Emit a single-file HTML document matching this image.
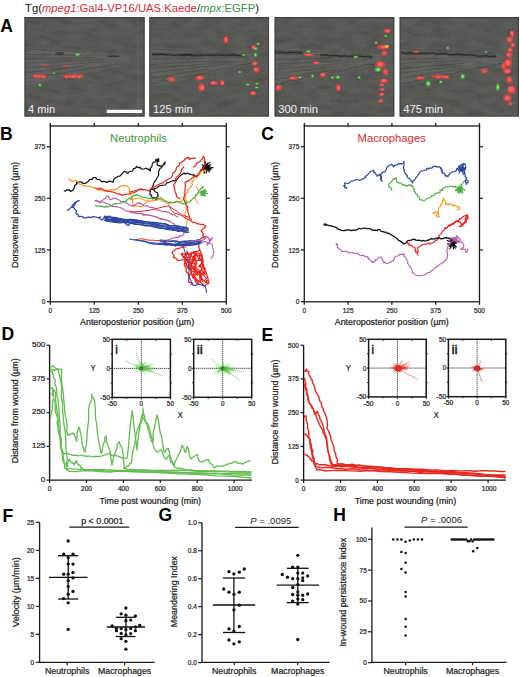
<!DOCTYPE html>
<html><head><meta charset="utf-8"><style>
html,body{margin:0;padding:0;background:#fff;}
body{width:520px;height:677px;overflow:hidden;font-family:"Liberation Sans",sans-serif;}
svg{display:block;}
</style></head><body>
<svg width="520" height="677" viewBox="0 0 520 677" font-family="Liberation Sans, sans-serif">
<rect width="520" height="677" fill="#fff"/>
<defs>
<filter id="bl" x="-50%" y="-50%" width="200%" height="200%"><feGaussianBlur stdDeviation="0.7"/></filter>
<filter id="bl2" x="-50%" y="-50%" width="200%" height="200%"><feGaussianBlur stdDeviation="1.6"/></filter>
<filter id="nz" x="0" y="0" width="100%" height="100%">
<feTurbulence type="fractalNoise" baseFrequency="0.06 0.16" numOctaves="3" seed="5" result="t"/>
<feColorMatrix in="t" type="matrix" values="1 0 0 0 0  1 0 0 0 0  0.96 0 0 0 0  0 0 0 0 0.14" result="c"/>
<feComposite in="c" in2="SourceGraphic" operator="in"/>
</filter>
<filter id="nz3" x="0" y="0" width="100%" height="100%">
<feTurbulence type="fractalNoise" baseFrequency="0.7 0.9" numOctaves="1" seed="2" result="t"/>
<feColorMatrix in="t" type="matrix" values="1 0 0 0 0  1 0 0 0 0  0.96 0 0 0 0  0 0 0 0 0.12" result="c"/>
<feComposite in="c" in2="SourceGraphic" operator="in"/>
</filter>
<filter id="nz2" x="0" y="0" width="100%" height="100%">
<feTurbulence type="fractalNoise" baseFrequency="0.02 0.7" numOctaves="2" seed="9" result="t"/>
<feColorMatrix in="t" type="matrix" values="1 0 0 0 0  1 0 0 0 0  0.96 0 0 0 0  0 0 0 0 0.09" result="c"/>
<feComposite in="c" in2="SourceGraphic" operator="in"/>
</filter>
<clipPath id="c1"><rect x="24.3" y="17" width="120.5" height="99.7"/></clipPath>
<clipPath id="c2"><rect x="149.2" y="17" width="120" height="99.7"/></clipPath>
<clipPath id="c3"><rect x="274.4" y="17" width="120.1" height="99.7"/></clipPath>
<clipPath id="c4"><rect x="399.4" y="17" width="119.6" height="99.7"/></clipPath>
</defs>
<g clip-path="url(#c1)">
<rect x="24.3" y="17" width="120.5" height="99.7" fill="#383835"/>
<rect x="24.3" y="17" width="120.5" height="99.7" fill="#000" filter="url(#nz)"/>
<rect x="24.3" y="17" width="120.5" height="99.7" fill="#000" filter="url(#nz3)"/>
<polygon points="24.3,47 130.3,54 130.3,64 24.3,86" fill="#000" filter="url(#nz2)" opacity="0.9"/>
<line x1="24.3" y1="48.6" x2="85.8" y2="52.0" stroke="#2c2c2a" stroke-width="0.8" stroke-opacity="0.35"/>
<line x1="24.3" y1="54.3" x2="82.0" y2="55.2" stroke="#2c2c2a" stroke-width="0.8" stroke-opacity="0.35"/>
<line x1="24.3" y1="59.1" x2="96.2" y2="57.7" stroke="#2c2c2a" stroke-width="0.8" stroke-opacity="0.35"/>
<line x1="24.3" y1="63.1" x2="103.0" y2="59.4" stroke="#2c2c2a" stroke-width="0.8" stroke-opacity="0.35"/>
<line x1="24.3" y1="68.1" x2="99.4" y2="61.9" stroke="#2c2c2a" stroke-width="0.8" stroke-opacity="0.35"/>
<line x1="24.3" y1="73.1" x2="82.9" y2="66.3" stroke="#2c2c2a" stroke-width="0.8" stroke-opacity="0.35"/>
<line x1="24.3" y1="78.8" x2="118.4" y2="64.0" stroke="#2c2c2a" stroke-width="0.8" stroke-opacity="0.35"/>
<rect x="24.9" y="17.6" width="119.3" height="98.5" fill="none" stroke="#3a3a37" stroke-width="1.2" stroke-opacity="0.8"/>
<ellipse cx="59.5" cy="53.5" rx="4.4" ry="1.8" fill="#2a2624" fill-opacity="0.55" filter="url(#bl)"/>
<ellipse cx="113.5" cy="56.2" rx="6.0" ry="1.0" fill="#2a2624" fill-opacity="0.6" filter="url(#bl)"/>
<ellipse cx="37.6" cy="75.8" rx="6.4" ry="1.7" fill="#e04444" fill-opacity="0.44" filter="url(#bl)"/>
<ellipse cx="40.8" cy="76.7" rx="6.4" ry="1.7" fill="#e04444" fill-opacity="0.44" filter="url(#bl)"/>
<ellipse cx="40.5" cy="76.0" rx="6.4" ry="1.7" fill="#e04444" fill-opacity="0.44" filter="url(#bl)"/>
<ellipse cx="40.0" cy="76.2" rx="4.4" ry="1.2" fill="#ff6a66" fill-opacity="0.47" filter="url(#bl)"/>
<ellipse cx="76.6" cy="75.8" rx="8.2" ry="2.0" fill="#e04444" fill-opacity="0.44" filter="url(#bl)"/>
<ellipse cx="75.7" cy="76.2" rx="8.2" ry="2.0" fill="#e04444" fill-opacity="0.44" filter="url(#bl)"/>
<ellipse cx="69.8" cy="75.9" rx="8.2" ry="2.0" fill="#e04444" fill-opacity="0.44" filter="url(#bl)"/>
<ellipse cx="72.7" cy="76.5" rx="5.7" ry="1.4" fill="#ff6a66" fill-opacity="0.47" filter="url(#bl)"/>
<ellipse cx="35.1" cy="76.6" rx="2.0" ry="1.4" fill="#e04444" fill-opacity="0.76" filter="url(#bl)"/>
<ellipse cx="34.9" cy="76.3" rx="2.0" ry="1.4" fill="#e04444" fill-opacity="0.76" filter="url(#bl)"/>
<ellipse cx="35.8" cy="76.1" rx="2.0" ry="1.4" fill="#e04444" fill-opacity="0.76" filter="url(#bl)"/>
<ellipse cx="35.5" cy="76.2" rx="1.4" ry="1.0" fill="#ff6a66" fill-opacity="0.81" filter="url(#bl)"/>
<ellipse cx="43.6" cy="76.3" rx="2.0" ry="1.4" fill="#e04444" fill-opacity="0.76" filter="url(#bl)"/>
<ellipse cx="42.6" cy="76.4" rx="2.0" ry="1.4" fill="#e04444" fill-opacity="0.76" filter="url(#bl)"/>
<ellipse cx="43.9" cy="76.7" rx="2.0" ry="1.4" fill="#e04444" fill-opacity="0.76" filter="url(#bl)"/>
<ellipse cx="43.5" cy="76.8" rx="1.4" ry="1.0" fill="#ff6a66" fill-opacity="0.81" filter="url(#bl)"/>
<ellipse cx="66.1" cy="76.8" rx="2.0" ry="1.4" fill="#e04444" fill-opacity="0.76" filter="url(#bl)"/>
<ellipse cx="66.4" cy="76.5" rx="2.0" ry="1.4" fill="#e04444" fill-opacity="0.76" filter="url(#bl)"/>
<ellipse cx="67.1" cy="77.0" rx="2.0" ry="1.4" fill="#e04444" fill-opacity="0.76" filter="url(#bl)"/>
<ellipse cx="66.5" cy="76.8" rx="1.4" ry="1.0" fill="#ff6a66" fill-opacity="0.81" filter="url(#bl)"/>
<ellipse cx="73.0" cy="76.6" rx="2.0" ry="1.6" fill="#e04444" fill-opacity="0.76" filter="url(#bl)"/>
<ellipse cx="73.6" cy="77.0" rx="2.0" ry="1.6" fill="#e04444" fill-opacity="0.76" filter="url(#bl)"/>
<ellipse cx="74.0" cy="76.2" rx="2.0" ry="1.6" fill="#e04444" fill-opacity="0.76" filter="url(#bl)"/>
<ellipse cx="73.5" cy="76.5" rx="1.4" ry="1.1" fill="#ff6a66" fill-opacity="0.81" filter="url(#bl)"/>
<ellipse cx="80.5" cy="76.3" rx="2.0" ry="1.4" fill="#e04444" fill-opacity="0.76" filter="url(#bl)"/>
<ellipse cx="79.3" cy="77.0" rx="2.0" ry="1.4" fill="#e04444" fill-opacity="0.76" filter="url(#bl)"/>
<ellipse cx="78.8" cy="76.7" rx="2.0" ry="1.4" fill="#e04444" fill-opacity="0.76" filter="url(#bl)"/>
<ellipse cx="79.5" cy="76.8" rx="1.4" ry="1.0" fill="#ff6a66" fill-opacity="0.81" filter="url(#bl)"/>
<ellipse cx="43.2" cy="65.1" rx="4.0" ry="0.8" fill="#e04444" fill-opacity="0.28" filter="url(#bl)"/>
<ellipse cx="46.1" cy="65.0" rx="4.0" ry="0.8" fill="#e04444" fill-opacity="0.28" filter="url(#bl)"/>
<ellipse cx="46.5" cy="64.9" rx="4.0" ry="0.8" fill="#e04444" fill-opacity="0.28" filter="url(#bl)"/>
<ellipse cx="45.0" cy="65.0" rx="2.8" ry="0.6" fill="#ff6a66" fill-opacity="0.30" filter="url(#bl)"/>
<ellipse cx="65.8" cy="65.6" rx="4.0" ry="0.8" fill="#e04444" fill-opacity="0.24" filter="url(#bl)"/>
<ellipse cx="65.3" cy="65.5" rx="4.0" ry="0.8" fill="#e04444" fill-opacity="0.24" filter="url(#bl)"/>
<ellipse cx="66.4" cy="65.8" rx="4.0" ry="0.8" fill="#e04444" fill-opacity="0.24" filter="url(#bl)"/>
<ellipse cx="65.0" cy="65.5" rx="2.8" ry="0.6" fill="#ff6a66" fill-opacity="0.26" filter="url(#bl)"/>
<ellipse cx="77.5" cy="54.5" rx="2.6" ry="1.6" fill="#3fb03f" fill-opacity="0.81" filter="url(#bl)"/>
<ellipse cx="77.5" cy="54.5" rx="1.4" ry="0.8" fill="#a8f090" fill-opacity="0.81" filter="url(#bl)"/>
<ellipse cx="39.9" cy="85.0" rx="1.9" ry="1.5" fill="#3fb03f" fill-opacity="0.81" filter="url(#bl)"/>
<ellipse cx="39.9" cy="85.0" rx="1.0" ry="0.8" fill="#a8f090" fill-opacity="0.81" filter="url(#bl)"/>
<ellipse cx="54.0" cy="73.2" rx="2.1" ry="1.3" fill="#3fb03f" fill-opacity="0.42" filter="url(#bl)"/>
<ellipse cx="54.0" cy="73.2" rx="1.1" ry="0.7" fill="#a8f090" fill-opacity="0.42" filter="url(#bl)"/>
<line x1="137.5" y1="17" x2="138.5" y2="116" stroke="#777772" stroke-width="1.2" stroke-opacity="0.3"/>
<rect x="106.8" y="109.8" width="35.3" height="3.2" fill="#fafafa"/>
</g>
<text x="28.10" y="113.20" font-size="11.2" fill="#f2f2f2" textLength="27.1" lengthAdjust="spacingAndGlyphs" >4 min</text>
<g clip-path="url(#c2)">
<rect x="149.2" y="17" width="120" height="99.7" fill="#383835"/>
<rect x="149.2" y="17" width="120" height="99.7" fill="#000" filter="url(#nz)"/>
<rect x="149.2" y="17" width="120" height="99.7" fill="#000" filter="url(#nz3)"/>
<polygon points="149.2,47 254.8,54 254.8,64 149.2,86" fill="#000" filter="url(#nz2)" opacity="0.9"/>
<line x1="149.2" y1="48.9" x2="235.1" y2="53.5" stroke="#2c2c2a" stroke-width="0.8" stroke-opacity="0.35"/>
<line x1="149.2" y1="53.1" x2="236.9" y2="55.2" stroke="#2c2c2a" stroke-width="0.8" stroke-opacity="0.35"/>
<line x1="149.2" y1="59.3" x2="250.9" y2="57.2" stroke="#2c2c2a" stroke-width="0.8" stroke-opacity="0.35"/>
<line x1="149.2" y1="64.6" x2="216.9" y2="60.7" stroke="#2c2c2a" stroke-width="0.8" stroke-opacity="0.35"/>
<line x1="149.2" y1="68.8" x2="235.3" y2="61.3" stroke="#2c2c2a" stroke-width="0.8" stroke-opacity="0.35"/>
<line x1="149.2" y1="73.0" x2="225.4" y2="64.1" stroke="#2c2c2a" stroke-width="0.8" stroke-opacity="0.35"/>
<line x1="149.2" y1="78.3" x2="208.8" y2="69.1" stroke="#2c2c2a" stroke-width="0.8" stroke-opacity="0.35"/>
<path d="M151.2,83.4 L156.3,83.3 L161.3,81.4 L166.4,80.5 L171.4,79.6 L176.5,79.3 L181.6,77.1 L186.6,76.6 L191.7,75.7 L196.7,75.1 L201.8,73.9 L206.9,73.0 L211.9,71.1 L217.0,70.2 L222.0,69.1 L227.1,68.8 L232.2,67.8 L237.2,65.7 L242.3,64.6 L247.3,63.7 L252.4,62.6" fill="none" stroke="#262624" stroke-width="1.0" stroke-opacity="0.35"/>
<rect x="149.8" y="17.6" width="118.8" height="98.5" fill="none" stroke="#3a3a37" stroke-width="1.2" stroke-opacity="0.8"/>
<path d="M152.0,54.5 L155.0,54.6 L158.1,54.3 L161.1,54.0 L164.1,54.6 L167.2,54.6 L170.2,54.8 L173.2,55.3 L176.3,55.1 L179.3,54.9 L182.3,55.1 L185.4,55.2 L188.4,54.5 L191.4,55.5 L194.5,55.4 L197.5,55.6 L200.5,55.5 L203.5,55.1 L206.6,55.1 L209.6,54.8 L212.6,55.5 L215.7,54.9 L218.7,54.9 L221.7,55.1 L224.8,55.1 L227.8,55.4 L230.8,55.1 L233.9,55.0 L236.9,55.3 L239.9,55.2 L243.0,55.6 L246.0,55.2" fill="none" stroke="#1e1e1c" stroke-width="1.3" stroke-opacity="0.7"/>
<path d="M152.0,54.5 L155.0,54.6 L158.1,54.3 L161.1,54.0 L164.1,54.6 L167.2,54.6 L170.2,54.8 L173.2,55.3 L176.3,55.1 L179.3,54.9 L182.3,55.1 L185.4,55.2 L188.4,54.5 L191.4,55.5 L194.5,55.4 L197.5,55.6 L200.5,55.5 L203.5,55.1 L206.6,55.1 L209.6,54.8 L212.6,55.5 L215.7,54.9 L218.7,54.9 L221.7,55.1 L224.8,55.1 L227.8,55.4 L230.8,55.1 L233.9,55.0 L236.9,55.3 L239.9,55.2 L243.0,55.6 L246.0,55.2" fill="none" stroke="#2a2a28" stroke-width="3.5" stroke-opacity="0.22" filter="url(#bl)"/>
<ellipse cx="186.5" cy="54.8" rx="6.8" ry="1.2" fill="#2a2624" fill-opacity="0.8" filter="url(#bl)"/>
<ellipse cx="172.9" cy="79.6" rx="3.8" ry="2.1" fill="#e04444" fill-opacity="0.48" filter="url(#bl)"/>
<ellipse cx="170.2" cy="79.0" rx="3.8" ry="2.1" fill="#e04444" fill-opacity="0.48" filter="url(#bl)"/>
<ellipse cx="170.9" cy="79.2" rx="3.8" ry="2.1" fill="#e04444" fill-opacity="0.48" filter="url(#bl)"/>
<ellipse cx="171.5" cy="79.4" rx="2.6" ry="1.4" fill="#ff6a66" fill-opacity="0.51" filter="url(#bl)"/>
<ellipse cx="198.4" cy="78.4" rx="3.3" ry="2.1" fill="#e04444" fill-opacity="0.76" filter="url(#bl)"/>
<ellipse cx="201.2" cy="77.8" rx="3.3" ry="2.1" fill="#e04444" fill-opacity="0.76" filter="url(#bl)"/>
<ellipse cx="199.5" cy="77.3" rx="3.3" ry="2.1" fill="#e04444" fill-opacity="0.76" filter="url(#bl)"/>
<ellipse cx="199.6" cy="77.9" rx="2.3" ry="1.4" fill="#ff6a66" fill-opacity="0.81" filter="url(#bl)"/>
<ellipse cx="201.0" cy="87.2" rx="3.0" ry="3.2" fill="#e04444" fill-opacity="0.76" filter="url(#bl)"/>
<ellipse cx="201.5" cy="88.3" rx="3.0" ry="3.2" fill="#e04444" fill-opacity="0.76" filter="url(#bl)"/>
<ellipse cx="201.2" cy="86.4" rx="3.0" ry="3.2" fill="#e04444" fill-opacity="0.76" filter="url(#bl)"/>
<ellipse cx="202.2" cy="87.5" rx="2.0" ry="2.2" fill="#ff6a66" fill-opacity="0.81" filter="url(#bl)"/>
<ellipse cx="226.8" cy="39.6" rx="1.8" ry="3.2" fill="#e04444" fill-opacity="0.76" filter="url(#bl)"/>
<ellipse cx="225.4" cy="39.7" rx="1.8" ry="3.2" fill="#e04444" fill-opacity="0.76" filter="url(#bl)"/>
<ellipse cx="225.2" cy="39.6" rx="1.8" ry="3.2" fill="#e04444" fill-opacity="0.76" filter="url(#bl)"/>
<ellipse cx="226.0" cy="39.5" rx="1.2" ry="2.2" fill="#ff6a66" fill-opacity="0.81" filter="url(#bl)"/>
<ellipse cx="254.7" cy="48.2" rx="2.1" ry="2.1" fill="#e04444" fill-opacity="0.76" filter="url(#bl)"/>
<ellipse cx="254.1" cy="47.2" rx="2.1" ry="2.1" fill="#e04444" fill-opacity="0.76" filter="url(#bl)"/>
<ellipse cx="253.4" cy="47.1" rx="2.1" ry="2.1" fill="#e04444" fill-opacity="0.76" filter="url(#bl)"/>
<ellipse cx="253.7" cy="47.6" rx="1.5" ry="1.4" fill="#ff6a66" fill-opacity="0.81" filter="url(#bl)"/>
<ellipse cx="255.4" cy="63.5" rx="2.4" ry="1.8" fill="#e04444" fill-opacity="0.76" filter="url(#bl)"/>
<ellipse cx="255.4" cy="63.3" rx="2.4" ry="1.8" fill="#e04444" fill-opacity="0.76" filter="url(#bl)"/>
<ellipse cx="254.1" cy="63.9" rx="2.4" ry="1.8" fill="#e04444" fill-opacity="0.76" filter="url(#bl)"/>
<ellipse cx="254.8" cy="63.5" rx="1.6" ry="1.2" fill="#ff6a66" fill-opacity="0.81" filter="url(#bl)"/>
<ellipse cx="257.2" cy="70.1" rx="2.6" ry="2.4" fill="#e04444" fill-opacity="0.76" filter="url(#bl)"/>
<ellipse cx="256.7" cy="70.0" rx="2.6" ry="2.4" fill="#e04444" fill-opacity="0.76" filter="url(#bl)"/>
<ellipse cx="256.5" cy="69.0" rx="2.6" ry="2.4" fill="#e04444" fill-opacity="0.76" filter="url(#bl)"/>
<ellipse cx="255.9" cy="69.5" rx="1.8" ry="1.6" fill="#ff6a66" fill-opacity="0.81" filter="url(#bl)"/>
<ellipse cx="253.4" cy="93.2" rx="2.4" ry="2.0" fill="#e04444" fill-opacity="0.76" filter="url(#bl)"/>
<ellipse cx="252.2" cy="92.7" rx="2.4" ry="2.0" fill="#e04444" fill-opacity="0.76" filter="url(#bl)"/>
<ellipse cx="252.8" cy="93.1" rx="2.4" ry="2.0" fill="#e04444" fill-opacity="0.76" filter="url(#bl)"/>
<ellipse cx="253.4" cy="93.5" rx="1.6" ry="1.4" fill="#ff6a66" fill-opacity="0.81" filter="url(#bl)"/>
<ellipse cx="214.1" cy="83.4" rx="3.6" ry="1.8" fill="#e04444" fill-opacity="0.76" filter="url(#bl)"/>
<ellipse cx="213.3" cy="83.3" rx="3.6" ry="1.8" fill="#e04444" fill-opacity="0.76" filter="url(#bl)"/>
<ellipse cx="215.2" cy="83.4" rx="3.6" ry="1.8" fill="#e04444" fill-opacity="0.76" filter="url(#bl)"/>
<ellipse cx="213.4" cy="82.8" rx="2.4" ry="1.2" fill="#ff6a66" fill-opacity="0.81" filter="url(#bl)"/>
<ellipse cx="222.3" cy="82.5" rx="2.1" ry="2.6" fill="#e04444" fill-opacity="0.76" filter="url(#bl)"/>
<ellipse cx="222.0" cy="82.5" rx="2.1" ry="2.6" fill="#e04444" fill-opacity="0.76" filter="url(#bl)"/>
<ellipse cx="222.0" cy="83.3" rx="2.1" ry="2.6" fill="#e04444" fill-opacity="0.76" filter="url(#bl)"/>
<ellipse cx="222.6" cy="83.1" rx="1.4" ry="1.8" fill="#ff6a66" fill-opacity="0.81" filter="url(#bl)"/>
<ellipse cx="258.1" cy="43.9" rx="1.9" ry="1.2" fill="#3fb03f" fill-opacity="0.81" filter="url(#bl)"/>
<ellipse cx="258.1" cy="43.9" rx="1.0" ry="0.6" fill="#a8f090" fill-opacity="0.81" filter="url(#bl)"/>
<ellipse cx="255.8" cy="48.8" rx="1.9" ry="1.5" fill="#3fb03f" fill-opacity="0.81" filter="url(#bl)"/>
<ellipse cx="255.8" cy="48.8" rx="1.0" ry="0.8" fill="#a8f090" fill-opacity="0.81" filter="url(#bl)"/>
<ellipse cx="255.5" cy="54.8" rx="1.6" ry="2.4" fill="#3fb03f" fill-opacity="0.81" filter="url(#bl)"/>
<ellipse cx="255.5" cy="54.8" rx="0.8" ry="1.2" fill="#a8f090" fill-opacity="0.81" filter="url(#bl)"/>
<ellipse cx="243.8" cy="55.0" rx="2.4" ry="1.1" fill="#3fb03f" fill-opacity="0.81" filter="url(#bl)"/>
<ellipse cx="243.8" cy="55.0" rx="1.2" ry="0.6" fill="#a8f090" fill-opacity="0.81" filter="url(#bl)"/>
<ellipse cx="239.7" cy="72.0" rx="1.9" ry="1.1" fill="#3fb03f" fill-opacity="0.81" filter="url(#bl)"/>
<ellipse cx="239.7" cy="72.0" rx="1.0" ry="0.6" fill="#a8f090" fill-opacity="0.81" filter="url(#bl)"/>
<ellipse cx="247.8" cy="84.6" rx="1.9" ry="1.2" fill="#3fb03f" fill-opacity="0.81" filter="url(#bl)"/>
<ellipse cx="247.8" cy="84.6" rx="1.0" ry="0.6" fill="#a8f090" fill-opacity="0.81" filter="url(#bl)"/>
<ellipse cx="257.0" cy="83.8" rx="1.6" ry="1.2" fill="#3fb03f" fill-opacity="0.81" filter="url(#bl)"/>
<ellipse cx="257.0" cy="83.8" rx="0.8" ry="0.6" fill="#a8f090" fill-opacity="0.81" filter="url(#bl)"/>
<ellipse cx="256.6" cy="87.5" rx="1.9" ry="1.2" fill="#3fb03f" fill-opacity="0.81" filter="url(#bl)"/>
<ellipse cx="256.6" cy="87.5" rx="1.0" ry="0.6" fill="#a8f090" fill-opacity="0.81" filter="url(#bl)"/>
</g>
<text x="153.00" y="113.20" font-size="11.2" fill="#f2f2f2" textLength="39.6" lengthAdjust="spacingAndGlyphs" >125 min</text>
<g clip-path="url(#c3)">
<rect x="274.4" y="17" width="120.1" height="99.7" fill="#383835"/>
<rect x="274.4" y="17" width="120.1" height="99.7" fill="#000" filter="url(#nz)"/>
<rect x="274.4" y="17" width="120.1" height="99.7" fill="#000" filter="url(#nz3)"/>
<polygon points="274.4,47 380.1,54 380.1,64 274.4,86" fill="#000" filter="url(#nz2)" opacity="0.9"/>
<line x1="274.4" y1="49.8" x2="368.8" y2="54.2" stroke="#2c2c2a" stroke-width="0.8" stroke-opacity="0.35"/>
<line x1="274.4" y1="54.0" x2="359.8" y2="55.4" stroke="#2c2c2a" stroke-width="0.8" stroke-opacity="0.35"/>
<line x1="274.4" y1="59.6" x2="332.5" y2="58.3" stroke="#2c2c2a" stroke-width="0.8" stroke-opacity="0.35"/>
<line x1="274.4" y1="64.3" x2="372.2" y2="58.9" stroke="#2c2c2a" stroke-width="0.8" stroke-opacity="0.35"/>
<line x1="274.4" y1="69.6" x2="364.5" y2="61.2" stroke="#2c2c2a" stroke-width="0.8" stroke-opacity="0.35"/>
<line x1="274.4" y1="74.0" x2="337.0" y2="66.2" stroke="#2c2c2a" stroke-width="0.8" stroke-opacity="0.35"/>
<line x1="274.4" y1="79.6" x2="344.4" y2="68.2" stroke="#2c2c2a" stroke-width="0.8" stroke-opacity="0.35"/>
<path d="M276.4,84.4 L281.5,83.6 L286.5,81.8 L291.6,80.7 L296.7,80.4 L301.7,79.1 L306.8,77.2 L311.9,76.1 L316.9,75.1 L322.0,75.1 L327.0,73.9 L332.1,72.0 L337.2,71.9 L342.2,71.0 L347.3,69.5 L352.4,68.0 L357.4,67.3 L362.5,65.6 L367.6,64.4 L372.6,64.7 L377.7,63.2" fill="none" stroke="#262624" stroke-width="1.0" stroke-opacity="0.35"/>
<rect x="275.0" y="17.6" width="118.9" height="98.5" fill="none" stroke="#3a3a37" stroke-width="1.2" stroke-opacity="0.8"/>
<path d="M274.4,51.7 L277.6,52.4 L280.8,51.9 L283.9,52.6 L287.1,52.7 L290.3,52.1 L293.5,52.3 L296.6,52.5 L299.8,52.5 L303.0,53.1" fill="none" stroke="#1e1e1c" stroke-width="1.3" stroke-opacity="0.7"/>
<path d="M274.4,51.7 L277.6,52.4 L280.8,51.9 L283.9,52.6 L287.1,52.7 L290.3,52.1 L293.5,52.3 L296.6,52.5 L299.8,52.5 L303.0,53.1" fill="none" stroke="#2a2a28" stroke-width="3.5" stroke-opacity="0.22" filter="url(#bl)"/>
<path d="M320.0,54.7 L323.1,55.0 L326.2,54.8 L329.2,55.9 L332.3,55.3 L335.4,55.6 L338.5,55.9 L341.6,56.4 L344.7,55.9 L347.7,56.7 L350.8,56.3 L353.9,56.5 L357.0,56.6 L360.1,56.1 L363.2,56.7 L366.2,56.6 L369.3,56.5 L372.4,57.6" fill="none" stroke="#1e1e1c" stroke-width="1.3" stroke-opacity="0.7"/>
<path d="M320.0,54.7 L323.1,55.0 L326.2,54.8 L329.2,55.9 L332.3,55.3 L335.4,55.6 L338.5,55.9 L341.6,56.4 L344.7,55.9 L347.7,56.7 L350.8,56.3 L353.9,56.5 L357.0,56.6 L360.1,56.1 L363.2,56.7 L366.2,56.6 L369.3,56.5 L372.4,57.6" fill="none" stroke="#2a2a28" stroke-width="3.5" stroke-opacity="0.22" filter="url(#bl)"/>
<ellipse cx="307.3" cy="54.6" rx="4.2" ry="1.2" fill="#e04444" fill-opacity="0.76" filter="url(#bl)"/>
<ellipse cx="309.6" cy="54.7" rx="4.2" ry="1.2" fill="#e04444" fill-opacity="0.76" filter="url(#bl)"/>
<ellipse cx="308.0" cy="54.7" rx="4.2" ry="1.2" fill="#e04444" fill-opacity="0.76" filter="url(#bl)"/>
<ellipse cx="308.7" cy="54.7" rx="2.9" ry="0.8" fill="#ff6a66" fill-opacity="0.81" filter="url(#bl)"/>
<ellipse cx="316.9" cy="63.1" rx="3.0" ry="1.2" fill="#e04444" fill-opacity="0.76" filter="url(#bl)"/>
<ellipse cx="315.6" cy="62.9" rx="3.0" ry="1.2" fill="#e04444" fill-opacity="0.76" filter="url(#bl)"/>
<ellipse cx="316.0" cy="62.6" rx="3.0" ry="1.2" fill="#e04444" fill-opacity="0.76" filter="url(#bl)"/>
<ellipse cx="316.8" cy="62.8" rx="2.1" ry="0.8" fill="#ff6a66" fill-opacity="0.81" filter="url(#bl)"/>
<ellipse cx="293.5" cy="77.9" rx="3.6" ry="1.5" fill="#e04444" fill-opacity="0.76" filter="url(#bl)"/>
<ellipse cx="292.7" cy="78.2" rx="3.6" ry="1.5" fill="#e04444" fill-opacity="0.76" filter="url(#bl)"/>
<ellipse cx="294.0" cy="77.8" rx="3.6" ry="1.5" fill="#e04444" fill-opacity="0.76" filter="url(#bl)"/>
<ellipse cx="292.5" cy="77.9" rx="2.5" ry="1.0" fill="#ff6a66" fill-opacity="0.81" filter="url(#bl)"/>
<ellipse cx="323.0" cy="74.6" rx="3.0" ry="1.8" fill="#e04444" fill-opacity="0.76" filter="url(#bl)"/>
<ellipse cx="322.7" cy="74.9" rx="3.0" ry="1.8" fill="#e04444" fill-opacity="0.76" filter="url(#bl)"/>
<ellipse cx="322.6" cy="74.6" rx="3.0" ry="1.8" fill="#e04444" fill-opacity="0.76" filter="url(#bl)"/>
<ellipse cx="322.7" cy="74.6" rx="2.0" ry="1.2" fill="#ff6a66" fill-opacity="0.81" filter="url(#bl)"/>
<ellipse cx="278.4" cy="88.4" rx="2.4" ry="2.7" fill="#e04444" fill-opacity="0.76" filter="url(#bl)"/>
<ellipse cx="278.9" cy="88.3" rx="2.4" ry="2.7" fill="#e04444" fill-opacity="0.76" filter="url(#bl)"/>
<ellipse cx="279.5" cy="87.1" rx="2.4" ry="2.7" fill="#e04444" fill-opacity="0.76" filter="url(#bl)"/>
<ellipse cx="278.4" cy="87.6" rx="1.6" ry="1.8" fill="#ff6a66" fill-opacity="0.81" filter="url(#bl)"/>
<ellipse cx="387.7" cy="31.6" rx="2.7" ry="1.8" fill="#e04444" fill-opacity="0.76" filter="url(#bl)"/>
<ellipse cx="388.5" cy="30.5" rx="2.7" ry="1.8" fill="#e04444" fill-opacity="0.76" filter="url(#bl)"/>
<ellipse cx="386.5" cy="30.9" rx="2.7" ry="1.8" fill="#e04444" fill-opacity="0.76" filter="url(#bl)"/>
<ellipse cx="387.5" cy="31.0" rx="1.8" ry="1.2" fill="#ff6a66" fill-opacity="0.81" filter="url(#bl)"/>
<ellipse cx="381.7" cy="46.5" rx="4.2" ry="2.1" fill="#e04444" fill-opacity="0.76" filter="url(#bl)"/>
<ellipse cx="381.7" cy="47.2" rx="4.2" ry="2.1" fill="#e04444" fill-opacity="0.76" filter="url(#bl)"/>
<ellipse cx="384.7" cy="47.5" rx="4.2" ry="2.1" fill="#e04444" fill-opacity="0.76" filter="url(#bl)"/>
<ellipse cx="383.5" cy="46.9" rx="2.9" ry="1.4" fill="#ff6a66" fill-opacity="0.81" filter="url(#bl)"/>
<ellipse cx="378.9" cy="64.8" rx="3.8" ry="3.0" fill="#e04444" fill-opacity="0.76" filter="url(#bl)"/>
<ellipse cx="380.8" cy="63.5" rx="3.8" ry="3.0" fill="#e04444" fill-opacity="0.76" filter="url(#bl)"/>
<ellipse cx="381.7" cy="65.3" rx="3.8" ry="3.0" fill="#e04444" fill-opacity="0.76" filter="url(#bl)"/>
<ellipse cx="380.2" cy="64.3" rx="2.6" ry="2.0" fill="#ff6a66" fill-opacity="0.81" filter="url(#bl)"/>
<ellipse cx="383.0" cy="81.1" rx="3.3" ry="1.8" fill="#e04444" fill-opacity="0.76" filter="url(#bl)"/>
<ellipse cx="383.6" cy="80.5" rx="3.3" ry="1.8" fill="#e04444" fill-opacity="0.76" filter="url(#bl)"/>
<ellipse cx="385.5" cy="80.9" rx="3.3" ry="1.8" fill="#e04444" fill-opacity="0.76" filter="url(#bl)"/>
<ellipse cx="383.9" cy="80.5" rx="2.3" ry="1.2" fill="#ff6a66" fill-opacity="0.81" filter="url(#bl)"/>
<ellipse cx="381.2" cy="84.9" rx="2.4" ry="1.2" fill="#e04444" fill-opacity="0.76" filter="url(#bl)"/>
<ellipse cx="382.0" cy="84.8" rx="2.4" ry="1.2" fill="#e04444" fill-opacity="0.76" filter="url(#bl)"/>
<ellipse cx="381.3" cy="84.8" rx="2.4" ry="1.2" fill="#e04444" fill-opacity="0.76" filter="url(#bl)"/>
<ellipse cx="382.0" cy="85.0" rx="1.7" ry="0.8" fill="#ff6a66" fill-opacity="0.81" filter="url(#bl)"/>
<ellipse cx="382.9" cy="89.0" rx="2.1" ry="1.2" fill="#e04444" fill-opacity="0.76" filter="url(#bl)"/>
<ellipse cx="382.5" cy="89.4" rx="2.1" ry="1.2" fill="#e04444" fill-opacity="0.76" filter="url(#bl)"/>
<ellipse cx="381.4" cy="89.3" rx="2.1" ry="1.2" fill="#e04444" fill-opacity="0.76" filter="url(#bl)"/>
<ellipse cx="382.4" cy="89.5" rx="1.4" ry="0.8" fill="#ff6a66" fill-opacity="0.81" filter="url(#bl)"/>
<ellipse cx="381.9" cy="94.2" rx="2.1" ry="1.5" fill="#e04444" fill-opacity="0.76" filter="url(#bl)"/>
<ellipse cx="380.7" cy="94.7" rx="2.1" ry="1.5" fill="#e04444" fill-opacity="0.76" filter="url(#bl)"/>
<ellipse cx="382.2" cy="94.7" rx="2.1" ry="1.5" fill="#e04444" fill-opacity="0.76" filter="url(#bl)"/>
<ellipse cx="381.6" cy="94.2" rx="1.4" ry="1.0" fill="#ff6a66" fill-opacity="0.81" filter="url(#bl)"/>
<ellipse cx="338.0" cy="87.4" rx="2.1" ry="3.0" fill="#e04444" fill-opacity="0.76" filter="url(#bl)"/>
<ellipse cx="337.8" cy="88.5" rx="2.1" ry="3.0" fill="#e04444" fill-opacity="0.76" filter="url(#bl)"/>
<ellipse cx="338.3" cy="87.1" rx="2.1" ry="3.0" fill="#e04444" fill-opacity="0.76" filter="url(#bl)"/>
<ellipse cx="338.8" cy="87.9" rx="1.4" ry="2.0" fill="#ff6a66" fill-opacity="0.81" filter="url(#bl)"/>
<ellipse cx="384.3" cy="53.7" rx="2.8" ry="2.4" fill="#e04444" fill-opacity="0.48" filter="url(#bl)"/>
<ellipse cx="385.4" cy="52.6" rx="2.8" ry="2.4" fill="#e04444" fill-opacity="0.48" filter="url(#bl)"/>
<ellipse cx="383.5" cy="53.8" rx="2.8" ry="2.4" fill="#e04444" fill-opacity="0.48" filter="url(#bl)"/>
<ellipse cx="384.5" cy="53.0" rx="1.9" ry="1.7" fill="#ff6a66" fill-opacity="0.51" filter="url(#bl)"/>
<ellipse cx="385.7" cy="72.5" rx="2.8" ry="3.2" fill="#e04444" fill-opacity="0.44" filter="url(#bl)"/>
<ellipse cx="384.4" cy="70.9" rx="2.8" ry="3.2" fill="#e04444" fill-opacity="0.44" filter="url(#bl)"/>
<ellipse cx="386.0" cy="71.8" rx="2.8" ry="3.2" fill="#e04444" fill-opacity="0.44" filter="url(#bl)"/>
<ellipse cx="385.5" cy="72.0" rx="1.9" ry="2.2" fill="#ff6a66" fill-opacity="0.47" filter="url(#bl)"/>
<ellipse cx="380.0" cy="101.2" rx="2.4" ry="2.0" fill="#e04444" fill-opacity="0.40" filter="url(#bl)"/>
<ellipse cx="381.3" cy="101.0" rx="2.4" ry="2.0" fill="#e04444" fill-opacity="0.40" filter="url(#bl)"/>
<ellipse cx="380.0" cy="101.0" rx="2.4" ry="2.0" fill="#e04444" fill-opacity="0.40" filter="url(#bl)"/>
<ellipse cx="381.0" cy="100.5" rx="1.7" ry="1.4" fill="#ff6a66" fill-opacity="0.42" filter="url(#bl)"/>
<ellipse cx="308.4" cy="51.4" rx="2.7" ry="1.2" fill="#3fb03f" fill-opacity="0.81" filter="url(#bl)"/>
<ellipse cx="308.4" cy="51.4" rx="1.4" ry="0.6" fill="#a8f090" fill-opacity="0.81" filter="url(#bl)"/>
<ellipse cx="299.9" cy="77.2" rx="1.5" ry="1.2" fill="#3fb03f" fill-opacity="0.81" filter="url(#bl)"/>
<ellipse cx="299.9" cy="77.2" rx="0.8" ry="0.6" fill="#a8f090" fill-opacity="0.81" filter="url(#bl)"/>
<ellipse cx="312.5" cy="76.1" rx="1.6" ry="1.6" fill="#3fb03f" fill-opacity="0.81" filter="url(#bl)"/>
<ellipse cx="312.5" cy="76.1" rx="0.8" ry="0.8" fill="#a8f090" fill-opacity="0.81" filter="url(#bl)"/>
<ellipse cx="332.4" cy="77.5" rx="1.5" ry="1.6" fill="#3fb03f" fill-opacity="0.81" filter="url(#bl)"/>
<ellipse cx="332.4" cy="77.5" rx="0.8" ry="0.8" fill="#a8f090" fill-opacity="0.81" filter="url(#bl)"/>
<ellipse cx="355.8" cy="56.9" rx="2.7" ry="1.2" fill="#3fb03f" fill-opacity="0.81" filter="url(#bl)"/>
<ellipse cx="355.8" cy="56.9" rx="1.4" ry="0.6" fill="#a8f090" fill-opacity="0.81" filter="url(#bl)"/>
<ellipse cx="376.1" cy="42.8" rx="1.6" ry="1.5" fill="#3fb03f" fill-opacity="0.81" filter="url(#bl)"/>
<ellipse cx="376.1" cy="42.8" rx="0.8" ry="0.8" fill="#a8f090" fill-opacity="0.81" filter="url(#bl)"/>
<ellipse cx="385.7" cy="35.9" rx="1.6" ry="1.2" fill="#3fb03f" fill-opacity="0.81" filter="url(#bl)"/>
<ellipse cx="385.7" cy="35.9" rx="0.8" ry="0.6" fill="#a8f090" fill-opacity="0.81" filter="url(#bl)"/>
<ellipse cx="378.0" cy="69.5" rx="3.5" ry="2.4" fill="#3fb03f" fill-opacity="0.81" filter="url(#bl)"/>
<ellipse cx="378.0" cy="69.5" rx="1.8" ry="1.2" fill="#a8f090" fill-opacity="0.81" filter="url(#bl)"/>
<ellipse cx="337.8" cy="77.2" rx="2.4" ry="1.9" fill="#3fb03f" fill-opacity="0.81" filter="url(#bl)"/>
<ellipse cx="337.8" cy="77.2" rx="1.2" ry="1.0" fill="#a8f090" fill-opacity="0.81" filter="url(#bl)"/>
<ellipse cx="359.1" cy="77.5" rx="1.6" ry="1.6" fill="#3fb03f" fill-opacity="0.81" filter="url(#bl)"/>
<ellipse cx="359.1" cy="77.5" rx="0.8" ry="0.8" fill="#a8f090" fill-opacity="0.81" filter="url(#bl)"/>
<ellipse cx="387.0" cy="46.5" rx="2.0" ry="1.4" fill="#f0c040" fill-opacity="0.9" filter="url(#bl)"/>
</g>
<text x="278.20" y="113.20" font-size="11.2" fill="#f2f2f2" textLength="39.9" lengthAdjust="spacingAndGlyphs" >300 min</text>
<g clip-path="url(#c4)">
<rect x="399.4" y="17" width="119.6" height="99.7" fill="#383835"/>
<rect x="399.4" y="17" width="119.6" height="99.7" fill="#000" filter="url(#nz)"/>
<rect x="399.4" y="17" width="119.6" height="99.7" fill="#000" filter="url(#nz3)"/>
<polygon points="399.4,47 504.6,54 504.6,64 399.4,86" fill="#000" filter="url(#nz2)" opacity="0.9"/>
<line x1="399.4" y1="48.1" x2="494.5" y2="53.7" stroke="#2c2c2a" stroke-width="0.8" stroke-opacity="0.35"/>
<line x1="399.4" y1="53.9" x2="469.4" y2="55.1" stroke="#2c2c2a" stroke-width="0.8" stroke-opacity="0.35"/>
<line x1="399.4" y1="59.1" x2="497.6" y2="57.2" stroke="#2c2c2a" stroke-width="0.8" stroke-opacity="0.35"/>
<line x1="399.4" y1="63.5" x2="459.4" y2="60.5" stroke="#2c2c2a" stroke-width="0.8" stroke-opacity="0.35"/>
<line x1="399.4" y1="69.1" x2="464.6" y2="63.2" stroke="#2c2c2a" stroke-width="0.8" stroke-opacity="0.35"/>
<line x1="399.4" y1="73.2" x2="460.9" y2="65.9" stroke="#2c2c2a" stroke-width="0.8" stroke-opacity="0.35"/>
<line x1="399.4" y1="78.1" x2="462.9" y2="68.4" stroke="#2c2c2a" stroke-width="0.8" stroke-opacity="0.35"/>
<path d="M401.4,83.7 L406.4,82.7 L411.5,82.3 L416.5,80.6 L421.6,79.8 L426.6,78.3 L431.7,77.5 L436.7,76.0 L441.7,75.3 L446.8,73.9 L451.8,73.8 L456.9,72.5 L461.9,71.0 L467.0,70.3 L472.0,69.9 L477.0,67.7 L482.1,67.6 L487.1,66.1 L492.2,65.1 L497.2,64.5 L502.3,62.9" fill="none" stroke="#262624" stroke-width="1.0" stroke-opacity="0.35"/>
<rect x="400.0" y="17.6" width="118.4" height="98.5" fill="none" stroke="#3a3a37" stroke-width="1.2" stroke-opacity="0.8"/>
<path d="M401.0,52.5 L404.0,52.8 L407.0,53.3 L410.0,52.6 L413.0,53.3 L416.0,53.3 L419.0,53.3 L422.0,53.1 L425.0,53.2 L428.0,52.9 L431.0,53.1 L434.0,53.1 L437.0,54.1 L440.0,53.6 L443.0,53.6 L446.0,53.6 L449.0,54.6 L452.0,54.7 L455.0,54.6 L458.0,54.2" fill="none" stroke="#1e1e1c" stroke-width="1.3" stroke-opacity="0.7"/>
<path d="M401.0,52.5 L404.0,52.8 L407.0,53.3 L410.0,52.6 L413.0,53.3 L416.0,53.3 L419.0,53.3 L422.0,53.1 L425.0,53.2 L428.0,52.9 L431.0,53.1 L434.0,53.1 L437.0,54.1 L440.0,53.6 L443.0,53.6 L446.0,53.6 L449.0,54.6 L452.0,54.7 L455.0,54.6 L458.0,54.2" fill="none" stroke="#2a2a28" stroke-width="3.5" stroke-opacity="0.22" filter="url(#bl)"/>
<path d="M458.0,54.2 L461.2,54.4 L464.3,54.8 L467.5,54.6 L470.7,55.1 L473.8,55.0 L477.0,56.1 L480.2,56.2 L483.3,55.9 L486.5,55.7 L489.7,56.7 L492.8,56.1 L496.0,56.3" fill="none" stroke="#1e1e1c" stroke-width="1.3" stroke-opacity="0.7"/>
<path d="M458.0,54.2 L461.2,54.4 L464.3,54.8 L467.5,54.6 L470.7,55.1 L473.8,55.0 L477.0,56.1 L480.2,56.2 L483.3,55.9 L486.5,55.7 L489.7,56.7 L492.8,56.1 L496.0,56.3" fill="none" stroke="#2a2a28" stroke-width="3.5" stroke-opacity="0.22" filter="url(#bl)"/>
<ellipse cx="419.3" cy="77.8" rx="4.4" ry="1.5" fill="#e04444" fill-opacity="0.48" filter="url(#bl)"/>
<ellipse cx="421.4" cy="77.9" rx="4.4" ry="1.5" fill="#e04444" fill-opacity="0.48" filter="url(#bl)"/>
<ellipse cx="420.2" cy="77.9" rx="4.4" ry="1.5" fill="#e04444" fill-opacity="0.48" filter="url(#bl)"/>
<ellipse cx="421.5" cy="77.9" rx="3.0" ry="1.0" fill="#ff6a66" fill-opacity="0.51" filter="url(#bl)"/>
<ellipse cx="438.3" cy="76.5" rx="7.1" ry="1.8" fill="#e04444" fill-opacity="0.48" filter="url(#bl)"/>
<ellipse cx="438.9" cy="76.7" rx="7.1" ry="1.8" fill="#e04444" fill-opacity="0.48" filter="url(#bl)"/>
<ellipse cx="438.6" cy="76.2" rx="7.1" ry="1.8" fill="#e04444" fill-opacity="0.48" filter="url(#bl)"/>
<ellipse cx="441.9" cy="76.8" rx="4.9" ry="1.2" fill="#ff6a66" fill-opacity="0.51" filter="url(#bl)"/>
<ellipse cx="419.1" cy="77.6" rx="2.0" ry="1.3" fill="#e04444" fill-opacity="0.76" filter="url(#bl)"/>
<ellipse cx="419.7" cy="77.9" rx="2.0" ry="1.3" fill="#e04444" fill-opacity="0.76" filter="url(#bl)"/>
<ellipse cx="420.0" cy="78.0" rx="2.0" ry="1.3" fill="#e04444" fill-opacity="0.76" filter="url(#bl)"/>
<ellipse cx="419.5" cy="77.8" rx="1.4" ry="0.9" fill="#ff6a66" fill-opacity="0.81" filter="url(#bl)"/>
<ellipse cx="438.5" cy="77.3" rx="2.4" ry="1.5" fill="#e04444" fill-opacity="0.76" filter="url(#bl)"/>
<ellipse cx="437.7" cy="76.7" rx="2.4" ry="1.5" fill="#e04444" fill-opacity="0.76" filter="url(#bl)"/>
<ellipse cx="439.2" cy="76.5" rx="2.4" ry="1.5" fill="#e04444" fill-opacity="0.76" filter="url(#bl)"/>
<ellipse cx="438.0" cy="76.9" rx="1.7" ry="1.0" fill="#ff6a66" fill-opacity="0.81" filter="url(#bl)"/>
<ellipse cx="446.8" cy="77.1" rx="2.6" ry="1.5" fill="#e04444" fill-opacity="0.76" filter="url(#bl)"/>
<ellipse cx="445.1" cy="77.3" rx="2.6" ry="1.5" fill="#e04444" fill-opacity="0.76" filter="url(#bl)"/>
<ellipse cx="447.3" cy="77.0" rx="2.6" ry="1.5" fill="#e04444" fill-opacity="0.76" filter="url(#bl)"/>
<ellipse cx="446.2" cy="76.9" rx="1.8" ry="1.0" fill="#ff6a66" fill-opacity="0.81" filter="url(#bl)"/>
<ellipse cx="416.7" cy="52.0" rx="3.0" ry="1.2" fill="#e04444" fill-opacity="0.32" filter="url(#bl)"/>
<ellipse cx="414.9" cy="51.7" rx="3.0" ry="1.2" fill="#e04444" fill-opacity="0.32" filter="url(#bl)"/>
<ellipse cx="416.0" cy="52.0" rx="3.0" ry="1.2" fill="#e04444" fill-opacity="0.32" filter="url(#bl)"/>
<ellipse cx="416.0" cy="51.7" rx="2.0" ry="0.8" fill="#ff6a66" fill-opacity="0.34" filter="url(#bl)"/>
<ellipse cx="512.4" cy="34.0" rx="2.1" ry="3.0" fill="#e04444" fill-opacity="0.76" filter="url(#bl)"/>
<ellipse cx="512.0" cy="34.2" rx="2.1" ry="3.0" fill="#e04444" fill-opacity="0.76" filter="url(#bl)"/>
<ellipse cx="512.2" cy="33.7" rx="2.1" ry="3.0" fill="#e04444" fill-opacity="0.76" filter="url(#bl)"/>
<ellipse cx="511.8" cy="33.3" rx="1.4" ry="2.0" fill="#ff6a66" fill-opacity="0.81" filter="url(#bl)"/>
<ellipse cx="512.7" cy="44.4" rx="2.1" ry="1.8" fill="#e04444" fill-opacity="0.76" filter="url(#bl)"/>
<ellipse cx="512.5" cy="44.9" rx="2.1" ry="1.8" fill="#e04444" fill-opacity="0.76" filter="url(#bl)"/>
<ellipse cx="512.5" cy="45.5" rx="2.1" ry="1.8" fill="#e04444" fill-opacity="0.76" filter="url(#bl)"/>
<ellipse cx="513.3" cy="45.0" rx="1.4" ry="1.2" fill="#ff6a66" fill-opacity="0.81" filter="url(#bl)"/>
<ellipse cx="510.1" cy="50.1" rx="2.4" ry="2.1" fill="#e04444" fill-opacity="0.76" filter="url(#bl)"/>
<ellipse cx="510.3" cy="50.2" rx="2.4" ry="2.1" fill="#e04444" fill-opacity="0.76" filter="url(#bl)"/>
<ellipse cx="510.0" cy="49.1" rx="2.4" ry="2.1" fill="#e04444" fill-opacity="0.76" filter="url(#bl)"/>
<ellipse cx="510.0" cy="49.9" rx="1.7" ry="1.4" fill="#ff6a66" fill-opacity="0.81" filter="url(#bl)"/>
<ellipse cx="508.8" cy="63.5" rx="3.6" ry="3.5" fill="#e04444" fill-opacity="0.76" filter="url(#bl)"/>
<ellipse cx="507.8" cy="62.9" rx="3.6" ry="3.5" fill="#e04444" fill-opacity="0.76" filter="url(#bl)"/>
<ellipse cx="508.3" cy="61.7" rx="3.6" ry="3.5" fill="#e04444" fill-opacity="0.76" filter="url(#bl)"/>
<ellipse cx="507.8" cy="62.8" rx="2.4" ry="2.4" fill="#ff6a66" fill-opacity="0.81" filter="url(#bl)"/>
<ellipse cx="508.1" cy="70.8" rx="3.2" ry="2.6" fill="#e04444" fill-opacity="0.76" filter="url(#bl)"/>
<ellipse cx="506.0" cy="70.8" rx="3.2" ry="2.6" fill="#e04444" fill-opacity="0.76" filter="url(#bl)"/>
<ellipse cx="508.1" cy="70.7" rx="3.2" ry="2.6" fill="#e04444" fill-opacity="0.76" filter="url(#bl)"/>
<ellipse cx="507.4" cy="71.3" rx="2.2" ry="1.8" fill="#ff6a66" fill-opacity="0.81" filter="url(#bl)"/>
<ellipse cx="512.0" cy="90.7" rx="3.8" ry="3.5" fill="#e04444" fill-opacity="0.76" filter="url(#bl)"/>
<ellipse cx="511.1" cy="89.1" rx="3.8" ry="3.5" fill="#e04444" fill-opacity="0.76" filter="url(#bl)"/>
<ellipse cx="511.0" cy="89.9" rx="3.8" ry="3.5" fill="#e04444" fill-opacity="0.76" filter="url(#bl)"/>
<ellipse cx="511.1" cy="89.4" rx="2.6" ry="2.4" fill="#ff6a66" fill-opacity="0.81" filter="url(#bl)"/>
<ellipse cx="508.2" cy="98.5" rx="3.2" ry="3.0" fill="#e04444" fill-opacity="0.76" filter="url(#bl)"/>
<ellipse cx="507.8" cy="97.3" rx="3.2" ry="3.0" fill="#e04444" fill-opacity="0.76" filter="url(#bl)"/>
<ellipse cx="506.2" cy="97.7" rx="3.2" ry="3.0" fill="#e04444" fill-opacity="0.76" filter="url(#bl)"/>
<ellipse cx="507.4" cy="98.2" rx="2.2" ry="2.1" fill="#ff6a66" fill-opacity="0.81" filter="url(#bl)"/>
<ellipse cx="485.2" cy="70.9" rx="3.2" ry="2.6" fill="#e04444" fill-opacity="0.36" filter="url(#bl)"/>
<ellipse cx="484.7" cy="70.3" rx="3.2" ry="2.6" fill="#e04444" fill-opacity="0.36" filter="url(#bl)"/>
<ellipse cx="483.0" cy="70.8" rx="3.2" ry="2.6" fill="#e04444" fill-opacity="0.36" filter="url(#bl)"/>
<ellipse cx="484.4" cy="71.3" rx="2.2" ry="1.8" fill="#ff6a66" fill-opacity="0.38" filter="url(#bl)"/>
<ellipse cx="510.0" cy="39.9" rx="2.8" ry="2.8" fill="#e04444" fill-opacity="0.56" filter="url(#bl)"/>
<ellipse cx="510.0" cy="39.1" rx="2.8" ry="2.8" fill="#e04444" fill-opacity="0.56" filter="url(#bl)"/>
<ellipse cx="509.5" cy="39.4" rx="2.8" ry="2.8" fill="#e04444" fill-opacity="0.56" filter="url(#bl)"/>
<ellipse cx="509.5" cy="39.5" rx="1.9" ry="1.9" fill="#ff6a66" fill-opacity="0.59" filter="url(#bl)"/>
<ellipse cx="508.4" cy="54.3" rx="2.8" ry="2.4" fill="#e04444" fill-opacity="0.60" filter="url(#bl)"/>
<ellipse cx="509.6" cy="54.5" rx="2.8" ry="2.4" fill="#e04444" fill-opacity="0.60" filter="url(#bl)"/>
<ellipse cx="509.8" cy="55.8" rx="2.8" ry="2.4" fill="#e04444" fill-opacity="0.60" filter="url(#bl)"/>
<ellipse cx="508.5" cy="55.0" rx="1.9" ry="1.7" fill="#ff6a66" fill-opacity="0.64" filter="url(#bl)"/>
<ellipse cx="508.1" cy="79.4" rx="2.8" ry="3.6" fill="#e04444" fill-opacity="0.48" filter="url(#bl)"/>
<ellipse cx="510.4" cy="80.8" rx="2.8" ry="3.6" fill="#e04444" fill-opacity="0.48" filter="url(#bl)"/>
<ellipse cx="509.4" cy="78.9" rx="2.8" ry="3.6" fill="#e04444" fill-opacity="0.48" filter="url(#bl)"/>
<ellipse cx="509.5" cy="79.5" rx="1.9" ry="2.5" fill="#ff6a66" fill-opacity="0.51" filter="url(#bl)"/>
<ellipse cx="510.3" cy="104.2" rx="2.4" ry="2.0" fill="#e04444" fill-opacity="0.40" filter="url(#bl)"/>
<ellipse cx="510.3" cy="103.6" rx="2.4" ry="2.0" fill="#e04444" fill-opacity="0.40" filter="url(#bl)"/>
<ellipse cx="510.1" cy="103.5" rx="2.4" ry="2.0" fill="#e04444" fill-opacity="0.40" filter="url(#bl)"/>
<ellipse cx="511.0" cy="103.5" rx="1.7" ry="1.4" fill="#ff6a66" fill-opacity="0.42" filter="url(#bl)"/>
<ellipse cx="504.1" cy="65.1" rx="2.4" ry="3.2" fill="#e04444" fill-opacity="0.40" filter="url(#bl)"/>
<ellipse cx="503.8" cy="66.0" rx="2.4" ry="3.2" fill="#e04444" fill-opacity="0.40" filter="url(#bl)"/>
<ellipse cx="503.9" cy="66.5" rx="2.4" ry="3.2" fill="#e04444" fill-opacity="0.40" filter="url(#bl)"/>
<ellipse cx="503.0" cy="66.0" rx="1.7" ry="2.2" fill="#ff6a66" fill-opacity="0.42" filter="url(#bl)"/>
<ellipse cx="447.8" cy="48.0" rx="1.5" ry="1.6" fill="#3fb03f" fill-opacity="0.81" filter="url(#bl)"/>
<ellipse cx="447.8" cy="48.0" rx="0.8" ry="0.8" fill="#a8f090" fill-opacity="0.81" filter="url(#bl)"/>
<ellipse cx="428.2" cy="83.5" rx="2.7" ry="3.1" fill="#3fb03f" fill-opacity="0.81" filter="url(#bl)"/>
<ellipse cx="428.2" cy="83.5" rx="1.4" ry="1.6" fill="#a8f090" fill-opacity="0.81" filter="url(#bl)"/>
<ellipse cx="440.8" cy="82.0" rx="1.9" ry="1.6" fill="#3fb03f" fill-opacity="0.81" filter="url(#bl)"/>
<ellipse cx="440.8" cy="82.0" rx="1.0" ry="0.8" fill="#a8f090" fill-opacity="0.81" filter="url(#bl)"/>
<ellipse cx="462.7" cy="76.5" rx="2.3" ry="2.7" fill="#3fb03f" fill-opacity="0.81" filter="url(#bl)"/>
<ellipse cx="462.7" cy="76.5" rx="1.2" ry="1.4" fill="#a8f090" fill-opacity="0.81" filter="url(#bl)"/>
<ellipse cx="485.9" cy="52.1" rx="1.2" ry="1.2" fill="#3fb03f" fill-opacity="0.81" filter="url(#bl)"/>
<ellipse cx="485.9" cy="52.1" rx="0.6" ry="0.6" fill="#a8f090" fill-opacity="0.81" filter="url(#bl)"/>
<ellipse cx="497.8" cy="87.2" rx="1.9" ry="3.9" fill="#3fb03f" fill-opacity="0.81" filter="url(#bl)"/>
<ellipse cx="497.8" cy="87.2" rx="1.0" ry="2.1" fill="#a8f090" fill-opacity="0.81" filter="url(#bl)"/>
</g>
<text x="403.20" y="113.20" font-size="11.2" fill="#f2f2f2" textLength="39.9" lengthAdjust="spacingAndGlyphs" >475 min</text>
<text x="25" y="12.2" font-size="11.2" textLength="234" lengthAdjust="spacingAndGlyphs" fill="#111">Tg(<tspan fill="#d42a34" font-style="italic">mpeg1</tspan><tspan fill="#d42a34">:Gal4-VP16/UAS:Kaede</tspan><tspan fill="#2c3a2c">/</tspan><tspan fill="#3a9248" font-style="italic">mpx</tspan><tspan fill="#3a9248">:EGFP</tspan>)</text>
<text x="0.20" y="31.60" font-size="17.5" fill="#000" font-weight="bold" >A</text>
<text x="0.00" y="140.20" font-size="17.5" fill="#000" font-weight="bold" >B</text>
<text x="261.20" y="140.20" font-size="17.5" fill="#000" font-weight="bold" >C</text>
<text x="1.60" y="340.20" font-size="17.5" fill="#000" font-weight="bold" >D</text>
<text x="261.60" y="341.00" font-size="17.5" fill="#000" font-weight="bold" >E</text>
<text x="2.50" y="521.90" font-size="17.5" fill="#000" font-weight="bold" >F</text>
<text x="158.50" y="521.40" font-size="17.5" fill="#000" font-weight="bold" >G</text>
<text x="333.30" y="521.10" font-size="17.5" fill="#000" font-weight="bold" >H</text>
<rect x="50.3" y="126.0" width="176.0" height="175.8" fill="none" stroke="#1a1a1a" stroke-width="1.3"/>
<line x1="46.80" y1="146.75" x2="50.30" y2="146.75" stroke="#1a1a1a" stroke-width="1.2" />
<text x="45.30" y="149.47" font-size="7.6" fill="#222" text-anchor="end" textLength="10.80" lengthAdjust="spacingAndGlyphs" stroke="#222" stroke-width="0.22" >375</text>
<line x1="46.80" y1="198.25" x2="50.30" y2="198.25" stroke="#1a1a1a" stroke-width="1.2" />
<text x="45.30" y="200.97" font-size="7.6" fill="#222" text-anchor="end" textLength="10.80" lengthAdjust="spacingAndGlyphs" stroke="#222" stroke-width="0.22" >250</text>
<line x1="46.80" y1="249.90" x2="50.30" y2="249.90" stroke="#1a1a1a" stroke-width="1.2" />
<text x="45.30" y="252.62" font-size="7.6" fill="#222" text-anchor="end" textLength="10.80" lengthAdjust="spacingAndGlyphs" stroke="#222" stroke-width="0.22" >125</text>
<line x1="46.80" y1="301.60" x2="50.30" y2="301.60" stroke="#1a1a1a" stroke-width="1.2" />
<text x="45.30" y="304.32" font-size="7.6" fill="#222" text-anchor="end" textLength="3.60" lengthAdjust="spacingAndGlyphs" stroke="#222" stroke-width="0.22" >0</text>
<line x1="226.30" y1="146.75" x2="229.80" y2="146.75" stroke="#1a1a1a" stroke-width="1.2" />
<line x1="226.30" y1="198.25" x2="229.80" y2="198.25" stroke="#1a1a1a" stroke-width="1.2" />
<line x1="226.30" y1="249.90" x2="229.80" y2="249.90" stroke="#1a1a1a" stroke-width="1.2" />
<line x1="50.30" y1="301.80" x2="50.30" y2="304.80" stroke="#1a1a1a" stroke-width="1.2" />
<text x="50.30" y="312.60" font-size="7.6" fill="#222" text-anchor="middle" textLength="3.60" lengthAdjust="spacingAndGlyphs" stroke="#222" stroke-width="0.22" >0</text>
<line x1="94.30" y1="301.80" x2="94.30" y2="304.80" stroke="#1a1a1a" stroke-width="1.2" />
<text x="94.30" y="312.60" font-size="7.6" fill="#222" text-anchor="middle" textLength="10.80" lengthAdjust="spacingAndGlyphs" stroke="#222" stroke-width="0.22" >125</text>
<line x1="138.30" y1="301.80" x2="138.30" y2="304.80" stroke="#1a1a1a" stroke-width="1.2" />
<text x="138.30" y="312.60" font-size="7.6" fill="#222" text-anchor="middle" textLength="10.80" lengthAdjust="spacingAndGlyphs" stroke="#222" stroke-width="0.22" >250</text>
<line x1="182.30" y1="301.80" x2="182.30" y2="304.80" stroke="#1a1a1a" stroke-width="1.2" />
<text x="182.30" y="312.60" font-size="7.6" fill="#222" text-anchor="middle" textLength="10.80" lengthAdjust="spacingAndGlyphs" stroke="#222" stroke-width="0.22" >375</text>
<line x1="226.30" y1="301.80" x2="226.30" y2="304.80" stroke="#1a1a1a" stroke-width="1.2" />
<text x="226.30" y="312.60" font-size="7.6" fill="#222" text-anchor="middle" textLength="10.80" lengthAdjust="spacingAndGlyphs" stroke="#222" stroke-width="0.22" >500</text>
<line x1="50.30" y1="126.60" x2="50.30" y2="123.00" stroke="#1a1a1a" stroke-width="1.3" />
<line x1="94.30" y1="126.60" x2="94.30" y2="123.00" stroke="#1a1a1a" stroke-width="1.3" />
<line x1="138.30" y1="126.60" x2="138.30" y2="123.00" stroke="#1a1a1a" stroke-width="1.3" />
<line x1="182.30" y1="126.60" x2="182.30" y2="123.00" stroke="#1a1a1a" stroke-width="1.3" />
<line x1="226.30" y1="126.60" x2="226.30" y2="123.00" stroke="#1a1a1a" stroke-width="1.3" />
<text x="110.00" y="141.60" font-size="11.2" fill="#3a9a3a" textLength="57" lengthAdjust="spacingAndGlyphs" >Neutrophils</text>
<text x="137.10" y="325.00" font-size="8.8" fill="#222" text-anchor="middle" textLength="114" lengthAdjust="spacingAndGlyphs" stroke="#222" stroke-width="0.22" >Anteroposterior position (µm)</text>
<text x="18.10" y="215.00" font-size="8.8" fill="#222" text-anchor="middle" textLength="106" lengthAdjust="spacingAndGlyphs" transform="rotate(-90 18.10 215.00)" stroke="#222" stroke-width="0.22" >Dorsoventral position (µm)</text>
<rect x="304.3" y="126.0" width="175.2" height="175.8" fill="none" stroke="#1a1a1a" stroke-width="1.3"/>
<line x1="300.80" y1="146.75" x2="304.30" y2="146.75" stroke="#1a1a1a" stroke-width="1.2" />
<text x="299.30" y="149.47" font-size="7.6" fill="#222" text-anchor="end" textLength="10.80" lengthAdjust="spacingAndGlyphs" stroke="#222" stroke-width="0.22" >375</text>
<line x1="300.80" y1="198.25" x2="304.30" y2="198.25" stroke="#1a1a1a" stroke-width="1.2" />
<text x="299.30" y="200.97" font-size="7.6" fill="#222" text-anchor="end" textLength="10.80" lengthAdjust="spacingAndGlyphs" stroke="#222" stroke-width="0.22" >250</text>
<line x1="300.80" y1="249.90" x2="304.30" y2="249.90" stroke="#1a1a1a" stroke-width="1.2" />
<text x="299.30" y="252.62" font-size="7.6" fill="#222" text-anchor="end" textLength="10.80" lengthAdjust="spacingAndGlyphs" stroke="#222" stroke-width="0.22" >125</text>
<line x1="300.80" y1="301.60" x2="304.30" y2="301.60" stroke="#1a1a1a" stroke-width="1.2" />
<text x="299.30" y="304.32" font-size="7.6" fill="#222" text-anchor="end" textLength="3.60" lengthAdjust="spacingAndGlyphs" stroke="#222" stroke-width="0.22" >0</text>
<line x1="479.50" y1="146.75" x2="483.00" y2="146.75" stroke="#1a1a1a" stroke-width="1.2" />
<line x1="479.50" y1="198.25" x2="483.00" y2="198.25" stroke="#1a1a1a" stroke-width="1.2" />
<line x1="479.50" y1="249.90" x2="483.00" y2="249.90" stroke="#1a1a1a" stroke-width="1.2" />
<line x1="304.30" y1="301.80" x2="304.30" y2="304.80" stroke="#1a1a1a" stroke-width="1.2" />
<text x="304.30" y="312.60" font-size="7.6" fill="#222" text-anchor="middle" textLength="3.60" lengthAdjust="spacingAndGlyphs" stroke="#222" stroke-width="0.22" >0</text>
<line x1="348.10" y1="301.80" x2="348.10" y2="304.80" stroke="#1a1a1a" stroke-width="1.2" />
<text x="348.10" y="312.60" font-size="7.6" fill="#222" text-anchor="middle" textLength="10.80" lengthAdjust="spacingAndGlyphs" stroke="#222" stroke-width="0.22" >125</text>
<line x1="391.90" y1="301.80" x2="391.90" y2="304.80" stroke="#1a1a1a" stroke-width="1.2" />
<text x="391.90" y="312.60" font-size="7.6" fill="#222" text-anchor="middle" textLength="10.80" lengthAdjust="spacingAndGlyphs" stroke="#222" stroke-width="0.22" >250</text>
<line x1="435.70" y1="301.80" x2="435.70" y2="304.80" stroke="#1a1a1a" stroke-width="1.2" />
<text x="435.70" y="312.60" font-size="7.6" fill="#222" text-anchor="middle" textLength="10.80" lengthAdjust="spacingAndGlyphs" stroke="#222" stroke-width="0.22" >375</text>
<line x1="479.50" y1="301.80" x2="479.50" y2="304.80" stroke="#1a1a1a" stroke-width="1.2" />
<text x="479.50" y="312.60" font-size="7.6" fill="#222" text-anchor="middle" textLength="10.80" lengthAdjust="spacingAndGlyphs" stroke="#222" stroke-width="0.22" >500</text>
<line x1="304.30" y1="126.60" x2="304.30" y2="123.00" stroke="#1a1a1a" stroke-width="1.3" />
<line x1="348.10" y1="126.60" x2="348.10" y2="123.00" stroke="#1a1a1a" stroke-width="1.3" />
<line x1="391.90" y1="126.60" x2="391.90" y2="123.00" stroke="#1a1a1a" stroke-width="1.3" />
<line x1="435.70" y1="126.60" x2="435.70" y2="123.00" stroke="#1a1a1a" stroke-width="1.3" />
<line x1="479.50" y1="126.60" x2="479.50" y2="123.00" stroke="#1a1a1a" stroke-width="1.3" />
<text x="357.50" y="141.60" font-size="11.2" fill="#e0282e" textLength="68.3" lengthAdjust="spacingAndGlyphs" >Macrophages</text>
<text x="391.80" y="325.00" font-size="8.8" fill="#222" text-anchor="middle" textLength="114" lengthAdjust="spacingAndGlyphs" stroke="#222" stroke-width="0.22" >Anteroposterior position (µm)</text>
<text x="277.80" y="215.00" font-size="8.8" fill="#222" text-anchor="middle" textLength="106" lengthAdjust="spacingAndGlyphs" transform="rotate(-90 277.80 215.00)" stroke="#222" stroke-width="0.22" >Dorsoventral position (µm)</text>
<line x1="49.60" y1="345.20" x2="49.60" y2="480.70" stroke="#1a1a1a" stroke-width="1.4" />
<line x1="49.00" y1="480.10" x2="252.00" y2="480.10" stroke="#1a1a1a" stroke-width="1.4" />
<line x1="46.60" y1="480.10" x2="49.60" y2="480.10" stroke="#1a1a1a" stroke-width="1.2" />
<text x="45.30" y="481.80" font-size="8.0" fill="#222" text-anchor="end" textLength="4.43" lengthAdjust="spacingAndGlyphs" stroke="#222" stroke-width="0.22" >0</text>
<line x1="46.60" y1="446.38" x2="49.60" y2="446.38" stroke="#1a1a1a" stroke-width="1.2" />
<text x="45.30" y="448.07" font-size="8.0" fill="#222" text-anchor="end" textLength="13.29" lengthAdjust="spacingAndGlyphs" stroke="#222" stroke-width="0.22" >125</text>
<line x1="46.60" y1="412.65" x2="49.60" y2="412.65" stroke="#1a1a1a" stroke-width="1.2" />
<text x="45.30" y="414.35" font-size="8.0" fill="#222" text-anchor="end" textLength="13.29" lengthAdjust="spacingAndGlyphs" stroke="#222" stroke-width="0.22" >250</text>
<line x1="46.60" y1="378.93" x2="49.60" y2="378.93" stroke="#1a1a1a" stroke-width="1.2" />
<text x="45.30" y="380.62" font-size="8.0" fill="#222" text-anchor="end" textLength="13.29" lengthAdjust="spacingAndGlyphs" stroke="#222" stroke-width="0.22" >375</text>
<line x1="46.60" y1="345.20" x2="49.60" y2="345.20" stroke="#1a1a1a" stroke-width="1.2" />
<text x="45.30" y="346.90" font-size="8.0" fill="#222" text-anchor="end" textLength="13.29" lengthAdjust="spacingAndGlyphs" stroke="#222" stroke-width="0.22" >500</text>
<line x1="49.60" y1="480.10" x2="49.60" y2="483.10" stroke="#1a1a1a" stroke-width="1.2" />
<text x="49.60" y="491.20" font-size="7.0" fill="#222" text-anchor="middle" textLength="3.67" lengthAdjust="spacingAndGlyphs" stroke="#222" stroke-width="0.22" >0</text>
<line x1="86.50" y1="480.10" x2="86.50" y2="483.10" stroke="#1a1a1a" stroke-width="1.2" />
<text x="86.50" y="491.20" font-size="7.0" fill="#222" text-anchor="middle" textLength="11.01" lengthAdjust="spacingAndGlyphs" stroke="#222" stroke-width="0.22" >200</text>
<line x1="123.40" y1="480.10" x2="123.40" y2="483.10" stroke="#1a1a1a" stroke-width="1.2" />
<text x="123.40" y="491.20" font-size="7.0" fill="#222" text-anchor="middle" textLength="11.01" lengthAdjust="spacingAndGlyphs" stroke="#222" stroke-width="0.22" >400</text>
<line x1="160.30" y1="480.10" x2="160.30" y2="483.10" stroke="#1a1a1a" stroke-width="1.2" />
<text x="160.30" y="491.20" font-size="7.0" fill="#222" text-anchor="middle" textLength="11.01" lengthAdjust="spacingAndGlyphs" stroke="#222" stroke-width="0.22" >600</text>
<line x1="197.20" y1="480.10" x2="197.20" y2="483.10" stroke="#1a1a1a" stroke-width="1.2" />
<text x="197.20" y="491.20" font-size="7.0" fill="#222" text-anchor="middle" textLength="11.01" lengthAdjust="spacingAndGlyphs" stroke="#222" stroke-width="0.22" >800</text>
<line x1="234.10" y1="480.10" x2="234.10" y2="483.10" stroke="#1a1a1a" stroke-width="1.2" />
<text x="235.10" y="491.20" font-size="7.0" fill="#222" text-anchor="middle" textLength="14.68" lengthAdjust="spacingAndGlyphs" stroke="#222" stroke-width="0.22" >1000</text>
<text x="150.30" y="503.50" font-size="8.8" fill="#222" text-anchor="middle" textLength="101.5" lengthAdjust="spacingAndGlyphs" stroke="#222" stroke-width="0.22" >Time post wounding (min)</text>
<text x="17.90" y="410.80" font-size="8.8" fill="#222" text-anchor="middle" textLength="105" lengthAdjust="spacingAndGlyphs" transform="rotate(-90 17.90 410.80)" stroke="#222" stroke-width="0.22" >Distance from wound (µm)</text>
<line x1="303.60" y1="345.20" x2="303.60" y2="480.70" stroke="#1a1a1a" stroke-width="1.4" />
<line x1="303.00" y1="480.10" x2="506.00" y2="480.10" stroke="#1a1a1a" stroke-width="1.4" />
<line x1="300.60" y1="480.10" x2="303.60" y2="480.10" stroke="#1a1a1a" stroke-width="1.2" />
<text x="298.70" y="482.53" font-size="6.8" fill="#222" text-anchor="end" textLength="3.53" lengthAdjust="spacingAndGlyphs" stroke="#222" stroke-width="0.22" >0</text>
<line x1="300.60" y1="446.38" x2="303.60" y2="446.38" stroke="#1a1a1a" stroke-width="1.2" />
<text x="298.70" y="448.81" font-size="6.8" fill="#222" text-anchor="end" textLength="10.59" lengthAdjust="spacingAndGlyphs" stroke="#222" stroke-width="0.22" >125</text>
<line x1="300.60" y1="412.65" x2="303.60" y2="412.65" stroke="#1a1a1a" stroke-width="1.2" />
<text x="298.70" y="415.08" font-size="6.8" fill="#222" text-anchor="end" textLength="10.59" lengthAdjust="spacingAndGlyphs" stroke="#222" stroke-width="0.22" >250</text>
<line x1="300.60" y1="378.93" x2="303.60" y2="378.93" stroke="#1a1a1a" stroke-width="1.2" />
<text x="298.70" y="381.36" font-size="6.8" fill="#222" text-anchor="end" textLength="10.59" lengthAdjust="spacingAndGlyphs" stroke="#222" stroke-width="0.22" >375</text>
<line x1="300.60" y1="345.20" x2="303.60" y2="345.20" stroke="#1a1a1a" stroke-width="1.2" />
<text x="298.70" y="347.63" font-size="6.8" fill="#222" text-anchor="end" textLength="10.59" lengthAdjust="spacingAndGlyphs" stroke="#222" stroke-width="0.22" >500</text>
<line x1="303.60" y1="480.10" x2="303.60" y2="483.10" stroke="#1a1a1a" stroke-width="1.2" />
<text x="303.60" y="491.20" font-size="7.0" fill="#222" text-anchor="middle" textLength="3.67" lengthAdjust="spacingAndGlyphs" stroke="#222" stroke-width="0.22" >0</text>
<line x1="340.50" y1="480.10" x2="340.50" y2="483.10" stroke="#1a1a1a" stroke-width="1.2" />
<text x="340.50" y="491.20" font-size="7.0" fill="#222" text-anchor="middle" textLength="11.01" lengthAdjust="spacingAndGlyphs" stroke="#222" stroke-width="0.22" >200</text>
<line x1="377.40" y1="480.10" x2="377.40" y2="483.10" stroke="#1a1a1a" stroke-width="1.2" />
<text x="377.40" y="491.20" font-size="7.0" fill="#222" text-anchor="middle" textLength="11.01" lengthAdjust="spacingAndGlyphs" stroke="#222" stroke-width="0.22" >400</text>
<line x1="414.30" y1="480.10" x2="414.30" y2="483.10" stroke="#1a1a1a" stroke-width="1.2" />
<text x="414.30" y="491.20" font-size="7.0" fill="#222" text-anchor="middle" textLength="11.01" lengthAdjust="spacingAndGlyphs" stroke="#222" stroke-width="0.22" >600</text>
<line x1="451.20" y1="480.10" x2="451.20" y2="483.10" stroke="#1a1a1a" stroke-width="1.2" />
<text x="451.20" y="491.20" font-size="7.0" fill="#222" text-anchor="middle" textLength="11.01" lengthAdjust="spacingAndGlyphs" stroke="#222" stroke-width="0.22" >800</text>
<line x1="488.10" y1="480.10" x2="488.10" y2="483.10" stroke="#1a1a1a" stroke-width="1.2" />
<text x="489.10" y="491.20" font-size="7.0" fill="#222" text-anchor="middle" textLength="14.68" lengthAdjust="spacingAndGlyphs" stroke="#222" stroke-width="0.22" >1000</text>
<text x="405.40" y="503.50" font-size="8.8" fill="#222" text-anchor="middle" textLength="101.5" lengthAdjust="spacingAndGlyphs" stroke="#222" stroke-width="0.22" >Time post wounding (min)</text>
<text x="277.50" y="412.00" font-size="8.8" fill="#222" text-anchor="middle" textLength="105" lengthAdjust="spacingAndGlyphs" transform="rotate(-90 277.50 412.00)" stroke="#222" stroke-width="0.22" >Distance from wound (µm)</text>
<rect x="112.20" y="339.30" width="58.20" height="58.20" fill="none" stroke="#1a1a1a" stroke-width="1.5"/>
<line x1="112.20" y1="368.40" x2="170.40" y2="368.40" stroke="#111" stroke-width="1" stroke-dasharray="1,1"/>
<line x1="141.30" y1="339.30" x2="141.30" y2="397.50" stroke="#111" stroke-width="1" stroke-dasharray="1,1"/>
<line x1="126.75" y1="339.30" x2="126.75" y2="340.80" stroke="#1a1a1a" stroke-width="1" />
<line x1="126.75" y1="397.50" x2="126.75" y2="399.00" stroke="#1a1a1a" stroke-width="1" />
<line x1="112.20" y1="353.85" x2="110.70" y2="353.85" stroke="#1a1a1a" stroke-width="1" />
<line x1="170.40" y1="353.85" x2="171.90" y2="353.85" stroke="#1a1a1a" stroke-width="1" />
<line x1="155.85" y1="339.30" x2="155.85" y2="340.80" stroke="#1a1a1a" stroke-width="1" />
<line x1="155.85" y1="397.50" x2="155.85" y2="399.00" stroke="#1a1a1a" stroke-width="1" />
<line x1="112.20" y1="382.95" x2="110.70" y2="382.95" stroke="#1a1a1a" stroke-width="1" />
<line x1="170.40" y1="382.95" x2="171.90" y2="382.95" stroke="#1a1a1a" stroke-width="1" />
<line x1="110.20" y1="339.30" x2="112.20" y2="339.30" stroke="#1a1a1a" stroke-width="1" />
<text x="109.90" y="341.70" font-size="6.8" fill="#222" text-anchor="end" textLength="7.1" lengthAdjust="spacingAndGlyphs" stroke="#222" stroke-width="0.22" >50</text>
<line x1="110.20" y1="368.40" x2="112.20" y2="368.40" stroke="#1a1a1a" stroke-width="1" />
<text x="109.90" y="370.80" font-size="6.8" fill="#222" text-anchor="end" textLength="3.5" lengthAdjust="spacingAndGlyphs" stroke="#222" stroke-width="0.22" >0</text>
<line x1="110.20" y1="397.50" x2="112.20" y2="397.50" stroke="#1a1a1a" stroke-width="1" />
<text x="109.90" y="399.90" font-size="6.8" fill="#222" text-anchor="end" textLength="9.6" lengthAdjust="spacingAndGlyphs" stroke="#222" stroke-width="0.22" >-50</text>
<line x1="112.20" y1="397.50" x2="112.20" y2="399.50" stroke="#1a1a1a" stroke-width="1" />
<text x="112.20" y="406.10" font-size="6.8" fill="#222" text-anchor="middle" textLength="9.6" lengthAdjust="spacingAndGlyphs" stroke="#222" stroke-width="0.22" >-50</text>
<line x1="141.30" y1="397.50" x2="141.30" y2="399.50" stroke="#1a1a1a" stroke-width="1" />
<text x="141.30" y="406.10" font-size="6.8" fill="#222" text-anchor="middle" textLength="3.5" lengthAdjust="spacingAndGlyphs" stroke="#222" stroke-width="0.22" >0</text>
<line x1="170.40" y1="397.50" x2="170.40" y2="399.50" stroke="#1a1a1a" stroke-width="1" />
<text x="170.40" y="406.10" font-size="6.8" fill="#222" text-anchor="middle" textLength="7.1" lengthAdjust="spacingAndGlyphs" stroke="#222" stroke-width="0.22" >50</text>
<text x="115.20" y="353.90" font-size="12" fill="#111" textLength="2.6" lengthAdjust="spacingAndGlyphs" stroke="#111" stroke-width="0.35">i</text>
<rect x="193.70" y="339.30" width="58.00" height="58.00" fill="none" stroke="#1a1a1a" stroke-width="1.5"/>
<line x1="193.70" y1="368.30" x2="251.70" y2="368.30" stroke="#111" stroke-width="1" stroke-dasharray="1,1"/>
<line x1="222.70" y1="339.30" x2="222.70" y2="397.30" stroke="#111" stroke-width="1" stroke-dasharray="1,1"/>
<line x1="208.20" y1="339.30" x2="208.20" y2="340.80" stroke="#1a1a1a" stroke-width="1" />
<line x1="208.20" y1="397.30" x2="208.20" y2="398.80" stroke="#1a1a1a" stroke-width="1" />
<line x1="193.70" y1="353.80" x2="192.20" y2="353.80" stroke="#1a1a1a" stroke-width="1" />
<line x1="251.70" y1="353.80" x2="253.20" y2="353.80" stroke="#1a1a1a" stroke-width="1" />
<line x1="237.20" y1="339.30" x2="237.20" y2="340.80" stroke="#1a1a1a" stroke-width="1" />
<line x1="237.20" y1="397.30" x2="237.20" y2="398.80" stroke="#1a1a1a" stroke-width="1" />
<line x1="193.70" y1="382.80" x2="192.20" y2="382.80" stroke="#1a1a1a" stroke-width="1" />
<line x1="251.70" y1="382.80" x2="253.20" y2="382.80" stroke="#1a1a1a" stroke-width="1" />
<line x1="191.70" y1="339.30" x2="193.70" y2="339.30" stroke="#1a1a1a" stroke-width="1" />
<text x="191.40" y="341.70" font-size="6.8" fill="#222" text-anchor="end" textLength="7.1" lengthAdjust="spacingAndGlyphs" stroke="#222" stroke-width="0.22" >50</text>
<line x1="191.70" y1="368.30" x2="193.70" y2="368.30" stroke="#1a1a1a" stroke-width="1" />
<text x="191.40" y="370.70" font-size="6.8" fill="#222" text-anchor="end" textLength="3.5" lengthAdjust="spacingAndGlyphs" stroke="#222" stroke-width="0.22" >0</text>
<line x1="191.70" y1="397.30" x2="193.70" y2="397.30" stroke="#1a1a1a" stroke-width="1" />
<text x="191.40" y="399.70" font-size="6.8" fill="#222" text-anchor="end" textLength="9.6" lengthAdjust="spacingAndGlyphs" stroke="#222" stroke-width="0.22" >-50</text>
<line x1="193.70" y1="397.30" x2="193.70" y2="399.30" stroke="#1a1a1a" stroke-width="1" />
<text x="193.70" y="405.90" font-size="6.8" fill="#222" text-anchor="middle" textLength="9.6" lengthAdjust="spacingAndGlyphs" stroke="#222" stroke-width="0.22" >-50</text>
<line x1="222.70" y1="397.30" x2="222.70" y2="399.30" stroke="#1a1a1a" stroke-width="1" />
<text x="222.70" y="405.90" font-size="6.8" fill="#222" text-anchor="middle" textLength="3.5" lengthAdjust="spacingAndGlyphs" stroke="#222" stroke-width="0.22" >0</text>
<line x1="251.70" y1="397.30" x2="251.70" y2="399.30" stroke="#1a1a1a" stroke-width="1" />
<text x="251.70" y="405.90" font-size="6.8" fill="#222" text-anchor="middle" textLength="7.1" lengthAdjust="spacingAndGlyphs" stroke="#222" stroke-width="0.22" >50</text>
<text x="196.70" y="353.90" font-size="12" fill="#111" textLength="6.2" lengthAdjust="spacingAndGlyphs" stroke="#111" stroke-width="0.35">ii</text>
<rect x="368.60" y="339.30" width="57.60" height="57.60" fill="none" stroke="#1a1a1a" stroke-width="1.5"/>
<line x1="368.60" y1="368.10" x2="426.20" y2="368.10" stroke="#111" stroke-width="1" stroke-dasharray="1,1"/>
<line x1="397.40" y1="339.30" x2="397.40" y2="396.90" stroke="#111" stroke-width="1" stroke-dasharray="1,1"/>
<line x1="383.00" y1="339.30" x2="383.00" y2="340.80" stroke="#1a1a1a" stroke-width="1" />
<line x1="383.00" y1="396.90" x2="383.00" y2="398.40" stroke="#1a1a1a" stroke-width="1" />
<line x1="368.60" y1="353.70" x2="367.10" y2="353.70" stroke="#1a1a1a" stroke-width="1" />
<line x1="426.20" y1="353.70" x2="427.70" y2="353.70" stroke="#1a1a1a" stroke-width="1" />
<line x1="411.80" y1="339.30" x2="411.80" y2="340.80" stroke="#1a1a1a" stroke-width="1" />
<line x1="411.80" y1="396.90" x2="411.80" y2="398.40" stroke="#1a1a1a" stroke-width="1" />
<line x1="368.60" y1="382.50" x2="367.10" y2="382.50" stroke="#1a1a1a" stroke-width="1" />
<line x1="426.20" y1="382.50" x2="427.70" y2="382.50" stroke="#1a1a1a" stroke-width="1" />
<line x1="366.60" y1="339.30" x2="368.60" y2="339.30" stroke="#1a1a1a" stroke-width="1" />
<text x="366.30" y="341.70" font-size="6.8" fill="#222" text-anchor="end" textLength="7.1" lengthAdjust="spacingAndGlyphs" stroke="#222" stroke-width="0.22" >50</text>
<line x1="366.60" y1="368.10" x2="368.60" y2="368.10" stroke="#1a1a1a" stroke-width="1" />
<text x="366.30" y="370.50" font-size="6.8" fill="#222" text-anchor="end" textLength="3.5" lengthAdjust="spacingAndGlyphs" stroke="#222" stroke-width="0.22" >0</text>
<line x1="366.60" y1="396.90" x2="368.60" y2="396.90" stroke="#1a1a1a" stroke-width="1" />
<text x="366.30" y="399.30" font-size="6.8" fill="#222" text-anchor="end" textLength="9.6" lengthAdjust="spacingAndGlyphs" stroke="#222" stroke-width="0.22" >-50</text>
<line x1="368.60" y1="396.90" x2="368.60" y2="398.90" stroke="#1a1a1a" stroke-width="1" />
<text x="368.60" y="405.50" font-size="6.8" fill="#222" text-anchor="middle" textLength="9.6" lengthAdjust="spacingAndGlyphs" stroke="#222" stroke-width="0.22" >-50</text>
<line x1="397.40" y1="396.90" x2="397.40" y2="398.90" stroke="#1a1a1a" stroke-width="1" />
<text x="397.40" y="405.50" font-size="6.8" fill="#222" text-anchor="middle" textLength="3.5" lengthAdjust="spacingAndGlyphs" stroke="#222" stroke-width="0.22" >0</text>
<line x1="426.20" y1="396.90" x2="426.20" y2="398.90" stroke="#1a1a1a" stroke-width="1" />
<text x="426.20" y="405.50" font-size="6.8" fill="#222" text-anchor="middle" textLength="7.1" lengthAdjust="spacingAndGlyphs" stroke="#222" stroke-width="0.22" >50</text>
<text x="371.60" y="353.90" font-size="12" fill="#111" textLength="2.6" lengthAdjust="spacingAndGlyphs" stroke="#111" stroke-width="0.35">i</text>
<rect x="448.40" y="339.30" width="57.40" height="57.40" fill="none" stroke="#1a1a1a" stroke-width="1.5"/>
<line x1="448.40" y1="368.00" x2="505.80" y2="368.00" stroke="#111" stroke-width="1" stroke-dasharray="1,1"/>
<line x1="477.10" y1="339.30" x2="477.10" y2="396.70" stroke="#111" stroke-width="1" stroke-dasharray="1,1"/>
<line x1="462.75" y1="339.30" x2="462.75" y2="340.80" stroke="#1a1a1a" stroke-width="1" />
<line x1="462.75" y1="396.70" x2="462.75" y2="398.20" stroke="#1a1a1a" stroke-width="1" />
<line x1="448.40" y1="353.65" x2="446.90" y2="353.65" stroke="#1a1a1a" stroke-width="1" />
<line x1="505.80" y1="353.65" x2="507.30" y2="353.65" stroke="#1a1a1a" stroke-width="1" />
<line x1="491.45" y1="339.30" x2="491.45" y2="340.80" stroke="#1a1a1a" stroke-width="1" />
<line x1="491.45" y1="396.70" x2="491.45" y2="398.20" stroke="#1a1a1a" stroke-width="1" />
<line x1="448.40" y1="382.35" x2="446.90" y2="382.35" stroke="#1a1a1a" stroke-width="1" />
<line x1="505.80" y1="382.35" x2="507.30" y2="382.35" stroke="#1a1a1a" stroke-width="1" />
<line x1="446.40" y1="339.30" x2="448.40" y2="339.30" stroke="#1a1a1a" stroke-width="1" />
<text x="446.10" y="341.70" font-size="6.8" fill="#222" text-anchor="end" textLength="7.1" lengthAdjust="spacingAndGlyphs" stroke="#222" stroke-width="0.22" >50</text>
<line x1="446.40" y1="368.00" x2="448.40" y2="368.00" stroke="#1a1a1a" stroke-width="1" />
<text x="446.10" y="370.40" font-size="6.8" fill="#222" text-anchor="end" textLength="3.5" lengthAdjust="spacingAndGlyphs" stroke="#222" stroke-width="0.22" >0</text>
<line x1="446.40" y1="396.70" x2="448.40" y2="396.70" stroke="#1a1a1a" stroke-width="1" />
<text x="446.10" y="399.10" font-size="6.8" fill="#222" text-anchor="end" textLength="9.6" lengthAdjust="spacingAndGlyphs" stroke="#222" stroke-width="0.22" >-50</text>
<line x1="448.40" y1="396.70" x2="448.40" y2="398.70" stroke="#1a1a1a" stroke-width="1" />
<text x="448.40" y="405.30" font-size="6.8" fill="#222" text-anchor="middle" textLength="9.6" lengthAdjust="spacingAndGlyphs" stroke="#222" stroke-width="0.22" >-50</text>
<line x1="477.10" y1="396.70" x2="477.10" y2="398.70" stroke="#1a1a1a" stroke-width="1" />
<text x="477.10" y="405.30" font-size="6.8" fill="#222" text-anchor="middle" textLength="3.5" lengthAdjust="spacingAndGlyphs" stroke="#222" stroke-width="0.22" >0</text>
<line x1="505.80" y1="396.70" x2="505.80" y2="398.70" stroke="#1a1a1a" stroke-width="1" />
<text x="505.80" y="405.30" font-size="6.8" fill="#222" text-anchor="middle" textLength="7.1" lengthAdjust="spacingAndGlyphs" stroke="#222" stroke-width="0.22" >50</text>
<text x="451.40" y="353.90" font-size="12" fill="#111" textLength="6.2" lengthAdjust="spacingAndGlyphs" stroke="#111" stroke-width="0.35">ii</text>
<text x="93.00" y="370.70" font-size="9.3" fill="#222" text-anchor="middle" textLength="5.2" lengthAdjust="spacingAndGlyphs" stroke="#222" stroke-width="0.22" >Y</text>
<text x="180.30" y="417.70" font-size="9.0" fill="#222" text-anchor="middle" textLength="5.0" lengthAdjust="spacingAndGlyphs" stroke="#222" stroke-width="0.22" >X</text>
<text x="348.30" y="370.90" font-size="9.3" fill="#222" text-anchor="middle" textLength="5.2" lengthAdjust="spacingAndGlyphs" stroke="#222" stroke-width="0.22" >Y</text>
<text x="436.30" y="417.90" font-size="9.0" fill="#222" text-anchor="middle" textLength="5.0" lengthAdjust="spacingAndGlyphs" stroke="#222" stroke-width="0.22" >X</text>
<line x1="39.60" y1="522.30" x2="39.60" y2="663.00" stroke="#1a1a1a" stroke-width="1.3" />
<line x1="39.00" y1="662.40" x2="154.60" y2="662.40" stroke="#1a1a1a" stroke-width="1.3" />
<line x1="35.80" y1="522.30" x2="39.60" y2="522.30" stroke="#1a1a1a" stroke-width="1.2" />
<text x="34.20" y="524.73" font-size="6.8" fill="#222" text-anchor="end" textLength="7.20" lengthAdjust="spacingAndGlyphs" stroke="#222" stroke-width="0.22" >25</text>
<line x1="35.80" y1="550.30" x2="39.60" y2="550.30" stroke="#1a1a1a" stroke-width="1.2" />
<text x="34.20" y="552.73" font-size="6.8" fill="#222" text-anchor="end" textLength="7.20" lengthAdjust="spacingAndGlyphs" stroke="#222" stroke-width="0.22" >20</text>
<line x1="35.80" y1="578.30" x2="39.60" y2="578.30" stroke="#1a1a1a" stroke-width="1.2" />
<text x="34.20" y="580.73" font-size="6.8" fill="#222" text-anchor="end" textLength="7.20" lengthAdjust="spacingAndGlyphs" stroke="#222" stroke-width="0.22" >15</text>
<line x1="35.80" y1="606.30" x2="39.60" y2="606.30" stroke="#1a1a1a" stroke-width="1.2" />
<text x="34.20" y="608.73" font-size="6.8" fill="#222" text-anchor="end" textLength="7.20" lengthAdjust="spacingAndGlyphs" stroke="#222" stroke-width="0.22" >10</text>
<line x1="35.80" y1="634.30" x2="39.60" y2="634.30" stroke="#1a1a1a" stroke-width="1.2" />
<text x="34.20" y="636.73" font-size="6.8" fill="#222" text-anchor="end" textLength="3.60" lengthAdjust="spacingAndGlyphs" stroke="#222" stroke-width="0.22" >5</text>
<line x1="35.80" y1="662.30" x2="39.60" y2="662.30" stroke="#1a1a1a" stroke-width="1.2" />
<text x="34.20" y="664.73" font-size="6.8" fill="#222" text-anchor="end" textLength="3.60" lengthAdjust="spacingAndGlyphs" stroke="#222" stroke-width="0.22" >0</text>
<line x1="67.20" y1="662.40" x2="67.20" y2="665.40" stroke="#1a1a1a" stroke-width="1.2" />
<line x1="124.60" y1="662.40" x2="124.60" y2="665.40" stroke="#1a1a1a" stroke-width="1.2" />
<text x="67.20" y="673.60" font-size="8.8" fill="#222" text-anchor="middle" textLength="44.3" lengthAdjust="spacingAndGlyphs" stroke="#222" stroke-width="0.22" >Neutrophils</text>
<text x="124.60" y="673.60" font-size="8.8" fill="#222" text-anchor="middle" textLength="53.2" lengthAdjust="spacingAndGlyphs" stroke="#222" stroke-width="0.22" >Macrophages</text>
<text x="19.00" y="592.10" font-size="8.8" fill="#222" text-anchor="middle" textLength="69.6" lengthAdjust="spacingAndGlyphs" transform="rotate(-90 19.00 592.10)" stroke="#222" stroke-width="0.22" >Velocity (µm/min)</text>
<line x1="202.00" y1="522.80" x2="202.00" y2="662.90" stroke="#1a1a1a" stroke-width="1.3" />
<line x1="201.40" y1="662.30" x2="329.60" y2="662.30" stroke="#1a1a1a" stroke-width="1.3" />
<line x1="198.20" y1="522.80" x2="202.00" y2="522.80" stroke="#1a1a1a" stroke-width="1.2" />
<text x="196.80" y="525.23" font-size="6.8" fill="#222" text-anchor="end" textLength="9.00" lengthAdjust="spacingAndGlyphs" stroke="#222" stroke-width="0.22" >1.0</text>
<line x1="198.20" y1="550.76" x2="202.00" y2="550.76" stroke="#1a1a1a" stroke-width="1.2" />
<text x="196.80" y="553.19" font-size="6.8" fill="#222" text-anchor="end" textLength="9.00" lengthAdjust="spacingAndGlyphs" stroke="#222" stroke-width="0.22" >0.8</text>
<line x1="198.20" y1="578.72" x2="202.00" y2="578.72" stroke="#1a1a1a" stroke-width="1.2" />
<text x="196.80" y="581.15" font-size="6.8" fill="#222" text-anchor="end" textLength="9.00" lengthAdjust="spacingAndGlyphs" stroke="#222" stroke-width="0.22" >0.6</text>
<line x1="198.20" y1="606.68" x2="202.00" y2="606.68" stroke="#1a1a1a" stroke-width="1.2" />
<text x="196.80" y="609.11" font-size="6.8" fill="#222" text-anchor="end" textLength="9.00" lengthAdjust="spacingAndGlyphs" stroke="#222" stroke-width="0.22" >0.4</text>
<line x1="198.20" y1="634.64" x2="202.00" y2="634.64" stroke="#1a1a1a" stroke-width="1.2" />
<text x="196.80" y="637.07" font-size="6.8" fill="#222" text-anchor="end" textLength="9.00" lengthAdjust="spacingAndGlyphs" stroke="#222" stroke-width="0.22" >0.2</text>
<line x1="198.20" y1="662.60" x2="202.00" y2="662.60" stroke="#1a1a1a" stroke-width="1.2" />
<text x="196.80" y="665.03" font-size="6.8" fill="#222" text-anchor="end" textLength="9.00" lengthAdjust="spacingAndGlyphs" stroke="#222" stroke-width="0.22" >0.0</text>
<line x1="234.20" y1="662.30" x2="234.20" y2="665.30" stroke="#1a1a1a" stroke-width="1.2" />
<line x1="297.70" y1="662.30" x2="297.70" y2="665.30" stroke="#1a1a1a" stroke-width="1.2" />
<text x="234.20" y="673.60" font-size="8.8" fill="#222" text-anchor="middle" textLength="44.3" lengthAdjust="spacingAndGlyphs" stroke="#222" stroke-width="0.22" >Neutrophils</text>
<text x="297.70" y="673.60" font-size="8.8" fill="#222" text-anchor="middle" textLength="53.2" lengthAdjust="spacingAndGlyphs" stroke="#222" stroke-width="0.22" >Macrophages</text>
<text x="177.10" y="591.70" font-size="8.8" fill="#222" text-anchor="middle" textLength="71" lengthAdjust="spacingAndGlyphs" transform="rotate(-90 177.10 591.70)" stroke="#222" stroke-width="0.22" >Meandering Index</text>
<line x1="371.90" y1="527.60" x2="371.90" y2="662.90" stroke="#1a1a1a" stroke-width="1.3" />
<line x1="371.30" y1="662.30" x2="506.50" y2="662.30" stroke="#1a1a1a" stroke-width="1.3" />
<line x1="368.10" y1="539.30" x2="371.90" y2="539.30" stroke="#1a1a1a" stroke-width="1.2" />
<text x="366.80" y="541.73" font-size="6.8" fill="#222" text-anchor="end" textLength="10.80" lengthAdjust="spacingAndGlyphs" stroke="#222" stroke-width="0.22" >100</text>
<line x1="368.10" y1="570.13" x2="371.90" y2="570.13" stroke="#1a1a1a" stroke-width="1.2" />
<text x="366.80" y="572.56" font-size="6.8" fill="#222" text-anchor="end" textLength="7.20" lengthAdjust="spacingAndGlyphs" stroke="#222" stroke-width="0.22" >75</text>
<line x1="368.10" y1="600.96" x2="371.90" y2="600.96" stroke="#1a1a1a" stroke-width="1.2" />
<text x="366.80" y="603.39" font-size="6.8" fill="#222" text-anchor="end" textLength="7.20" lengthAdjust="spacingAndGlyphs" stroke="#222" stroke-width="0.22" >50</text>
<line x1="368.10" y1="631.79" x2="371.90" y2="631.79" stroke="#1a1a1a" stroke-width="1.2" />
<text x="366.80" y="634.22" font-size="6.8" fill="#222" text-anchor="end" textLength="7.20" lengthAdjust="spacingAndGlyphs" stroke="#222" stroke-width="0.22" >25</text>
<line x1="368.10" y1="662.62" x2="371.90" y2="662.62" stroke="#1a1a1a" stroke-width="1.2" />
<text x="366.80" y="665.05" font-size="6.8" fill="#222" text-anchor="end" textLength="3.60" lengthAdjust="spacingAndGlyphs" stroke="#222" stroke-width="0.22" >0</text>
<line x1="405.60" y1="662.30" x2="405.60" y2="665.30" stroke="#1a1a1a" stroke-width="1.2" />
<line x1="472.50" y1="662.30" x2="472.50" y2="665.30" stroke="#1a1a1a" stroke-width="1.2" />
<text x="405.60" y="673.60" font-size="8.8" fill="#222" text-anchor="middle" textLength="44.3" lengthAdjust="spacingAndGlyphs" stroke="#222" stroke-width="0.22" >Neutrophils</text>
<text x="472.50" y="673.60" font-size="8.8" fill="#222" text-anchor="middle" textLength="53.2" lengthAdjust="spacingAndGlyphs" stroke="#222" stroke-width="0.22" >Macrophages</text>
<text x="346.50" y="592.20" font-size="8.8" fill="#222" text-anchor="middle" textLength="108.7" lengthAdjust="spacingAndGlyphs" transform="rotate(-90 346.50 592.20)" stroke="#222" stroke-width="0.22" >In-wound persistence index</text>
<line x1="69.20" y1="527.20" x2="129.20" y2="527.20" stroke="#1a1a1a" stroke-width="1.2" />
<text x="102.30" y="523.60" font-size="8.8" fill="#222" text-anchor="middle" textLength="42.2" lengthAdjust="spacingAndGlyphs" stroke="#222" stroke-width="0.22" >p &lt; 0.0001</text>
<line x1="235.10" y1="527.40" x2="298.80" y2="527.40" stroke="#1a1a1a" stroke-width="1.2" />
<text x="250.3" y="523.6" font-size="8.8" fill="#222" textLength="41" lengthAdjust="spacingAndGlyphs"><tspan font-style="italic">P</tspan> = .0095</text>
<line x1="404.40" y1="527.10" x2="467.70" y2="527.10" stroke="#1a1a1a" stroke-width="1.2" />
<text x="421" y="523.4" font-size="8.8" fill="#222" textLength="41" lengthAdjust="spacingAndGlyphs"><tspan font-style="italic">P</tspan> = .0006</text>
<g>
<path d="M64.2,190.7 L65.2,191.2 L67.0,189.6 L67.6,190.2 L69.8,189.8 L69.7,190.1 L70.4,191.2 L70.3,191.4 L72.2,190.6 L73.4,189.7 L74.5,187.1 L74.7,185.4 L76.8,183.9 L76.4,183.2 L76.9,182.1 L77.2,183.0 L78.1,182.7 L79.6,181.8 L81.6,181.9 L82.9,183.5 L85.3,183.4 L86.3,182.7 L88.4,181.2 L89.5,179.5 L91.1,179.3 L92.4,179.3 L92.9,177.9 L95.3,177.7 L95.8,177.7 L97.0,179.4 L99.7,179.6 L100.6,180.7 L102.0,181.8 L103.9,181.3 L106.6,182.4 L109.7,181.1 L113.0,182.3 L113.7,179.7 L114.8,178.5 L116.5,177.3 L117.9,176.4 L119.9,176.2 L121.8,174.1 L122.7,172.9 L124.2,171.3 L124.5,171.7 L126.9,171.9 L127.0,173.2 L128.5,172.9 L128.8,172.0 L130.3,171.3 L132.5,171.0 L133.6,168.6 L133.3,169.0 L135.9,167.9 L136.4,166.3 L137.2,167.1 L139.0,167.6 L140.3,167.2 L139.8,167.6 L141.5,169.1 L143.7,169.0 L144.7,168.8 L145.8,168.2 L146.5,168.4 L147.6,169.3 L149.0,169.0 L148.8,169.7 L150.4,171.1 L150.3,168.1 L151.7,167.0 L152.2,164.5 L153.3,162.2 L153.5,162.2 L155.3,161.8 L155.9,160.9 L155.5,159.8 L157.5,160.3 L157.1,158.9 L158.1,159.7 L158.7,158.8 L158.6,161.4 L157.4,161.3 L157.1,163.4 L157.2,164.5 L158.4,165.9 L158.9,165.4 L160.6,166.1 L161.3,166.4 L161.5,166.1 L162.9,165.3 L164.4,162.8 L165.1,162.0 L164.7,164.5 L162.6,165.3 L161.5,167.9 L160.2,168.0 L158.6,171.5 L158.6,175.3 L156.8,178.3 L155.7,180.1 L153.5,183.5 L153.5,184.4 L152.4,187.4 L151.0,189.7 L150.1,189.9 L149.8,191.2 L150.5,191.5 L150.0,192.4 L149.9,194.6 L151.7,195.2 L151.4,196.5 L152.9,198.4 L153.5,197.9 L155.7,197.9 L155.8,199.7 L157.4,198.8 L156.4,197.4 L158.1,196.3 L158.1,195.9 L157.6,193.4 L157.5,192.8 L155.1,191.8 L154.0,189.8 L152.3,189.4 L156.7,188.0 L159.6,185.8 L161.3,185.4 L165.4,185.0 L166.8,182.8 L169.3,182.3 L172.5,180.8 L174.7,180.8 L177.1,179.2 L179.2,176.8 L181.1,175.1 L184.3,173.0 L185.2,174.1 L187.2,173.0 L188.8,173.8 L191.2,174.5 L193.4,175.2 L193.5,174.4 L194.4,175.8 L196.7,176.4 L196.6,175.7 L198.0,175.4 L198.9,175.0 L199.5,173.1 L200.8,171.9 L201.3,170.6 L202.5,168.8 L202.7,167.5 L203.5,168.3 L205.1,167.1 L205.8,168.0 L206.9,166.9" fill="none" stroke="#111111" stroke-width="1.2" stroke-linejoin="round" stroke-linecap="round"/>
<path d="M207.8,168.1 L203.3,167.4" fill="none" stroke="#111111" stroke-width="1.2" stroke-linejoin="round" stroke-linecap="round"/>
<path d="M206.4,168.7 L209.1,167.4" fill="none" stroke="#111111" stroke-width="1.2" stroke-linejoin="round" stroke-linecap="round"/>
<path d="M204.6,166.7 L210.0,162.4" fill="none" stroke="#111111" stroke-width="1.2" stroke-linejoin="round" stroke-linecap="round"/>
<path d="M208.5,167.8 L208.7,169.4" fill="none" stroke="#111111" stroke-width="1.2" stroke-linejoin="round" stroke-linecap="round"/>
<path d="M208.0,167.3 L210.1,166.0" fill="none" stroke="#111111" stroke-width="1.2" stroke-linejoin="round" stroke-linecap="round"/>
<path d="M208.4,166.0 L206.1,173.0" fill="none" stroke="#111111" stroke-width="1.2" stroke-linejoin="round" stroke-linecap="round"/>
<path d="M205.3,167.0 L202.3,164.8" fill="none" stroke="#111111" stroke-width="1.2" stroke-linejoin="round" stroke-linecap="round"/>
<path d="M205.5,167.9 L208.5,169.7" fill="none" stroke="#111111" stroke-width="1.2" stroke-linejoin="round" stroke-linecap="round"/>
<path d="M204.4,166.8 L204.7,165.2" fill="none" stroke="#111111" stroke-width="1.2" stroke-linejoin="round" stroke-linecap="round"/>
<path d="M205.7,166.3 L205.2,165.0" fill="none" stroke="#111111" stroke-width="1.2" stroke-linejoin="round" stroke-linecap="round"/>
<path d="M204.7,165.9 L207.8,163.2" fill="none" stroke="#111111" stroke-width="1.2" stroke-linejoin="round" stroke-linecap="round"/>
<path d="M207.1,165.9 L202.7,170.2" fill="none" stroke="#111111" stroke-width="1.2" stroke-linejoin="round" stroke-linecap="round"/>
<path d="M206.1,166.7 L209.3,171.9" fill="none" stroke="#111111" stroke-width="1.2" stroke-linejoin="round" stroke-linecap="round"/>
<path d="M205.7,167.8 L204.1,173.4" fill="none" stroke="#111111" stroke-width="1.2" stroke-linejoin="round" stroke-linecap="round"/>
<path d="M208.0,169.4 L203.9,170.5" fill="none" stroke="#111111" stroke-width="1.2" stroke-linejoin="round" stroke-linecap="round"/>
<path d="M207.5,166.3 L204.5,169.7" fill="none" stroke="#111111" stroke-width="1.2" stroke-linejoin="round" stroke-linecap="round"/>
<path d="M206.2,168.7 L213.0,167.7" fill="none" stroke="#111111" stroke-width="1.2" stroke-linejoin="round" stroke-linecap="round"/>
<path d="M206.3,166.2 L201.2,170.8" fill="none" stroke="#111111" stroke-width="1.2" stroke-linejoin="round" stroke-linecap="round"/>
<path d="M207.1,169.1 L211.3,167.9" fill="none" stroke="#111111" stroke-width="1.2" stroke-linejoin="round" stroke-linecap="round"/>
<path d="M206.0,167.5 L210.9,170.0" fill="none" stroke="#111111" stroke-width="1.2" stroke-linejoin="round" stroke-linecap="round"/>
<path d="M206.6,169.2 L208.6,170.1" fill="none" stroke="#111111" stroke-width="1.2" stroke-linejoin="round" stroke-linecap="round"/>
<path d="M207.8,169.3 L210.0,170.1" fill="none" stroke="#111111" stroke-width="1.2" stroke-linejoin="round" stroke-linecap="round"/>
<path d="M208.4,169.4 L207.4,169.9" fill="none" stroke="#111111" stroke-width="1.2" stroke-linejoin="round" stroke-linecap="round"/>
<path d="M208.3,167.1 L204.2,167.7" fill="none" stroke="#111111" stroke-width="1.2" stroke-linejoin="round" stroke-linecap="round"/>
<path d="M207.9,166.2 L210.7,164.8" fill="none" stroke="#111111" stroke-width="1.2" stroke-linejoin="round" stroke-linecap="round"/>
<path d="M206.1,168.9 L207.2,164.6" fill="none" stroke="#111111" stroke-width="1.2" stroke-linejoin="round" stroke-linecap="round"/>
<path d="M205.3,167.1 L207.9,165.1" fill="none" stroke="#111111" stroke-width="1.2" stroke-linejoin="round" stroke-linecap="round"/>
<path d="M204.9,166.5 L202.5,167.1" fill="none" stroke="#111111" stroke-width="1.2" stroke-linejoin="round" stroke-linecap="round"/>
<path d="M204.6,167.7 L205.5,161.5" fill="none" stroke="#111111" stroke-width="1.2" stroke-linejoin="round" stroke-linecap="round"/>
<path d="M207.9,166.0 L206.6,165.4" fill="none" stroke="#111111" stroke-width="1.2" stroke-linejoin="round" stroke-linecap="round"/>
<ellipse cx="206.5" cy="167.5" rx="3" ry="2.5" fill="#111111"/>
<path d="M68.7,178.5 L69.6,179.2 L70.4,179.5 L70.7,180.6 L71.5,181.4 L72.8,180.9 L73.4,181.2 L75.5,180.4 L77.2,181.3 L77.6,181.2 L78.5,182.0 L78.8,183.5 L79.6,184.5 L81.2,184.2 L82.2,184.7 L83.2,186.3 L83.7,185.5 L86.5,186.3 L90.1,186.1 L92.8,187.8 L95.4,187.7 L95.3,188.7 L96.7,189.3 L98.3,188.6 L98.9,190.5 L98.5,189.8 L100.6,189.7 L101.7,190.1 L102.4,190.1 L104.5,191.3 L106.6,190.0 L109.7,189.9 L111.5,189.6 L113.9,189.9 L117.0,188.9 L118.3,187.7 L120.3,186.4 L122.5,185.6 L124.2,185.5 L125.0,185.7 L125.4,185.4 L127.2,185.9 L128.4,187.3 L129.6,189.3 L129.4,191.1 L130.4,193.8 L131.7,197.3 L132.7,201.3 L133.2,206.2 L134.9,206.1 L136.2,205.4 L137.5,206.0 L140.2,206.9 L142.3,206.3 L144.0,203.8 L147.2,202.1 L148.4,201.3 L151.4,200.8 L154.5,200.7 L158.1,199.6 L161.0,199.6 L162.1,201.3 L164.2,201.0 L165.9,202.8 L169.1,204.0 L171.2,202.6 L173.4,202.7 L177.2,201.7 L180.2,201.4 L182.2,200.9 L182.5,200.3 L183.6,198.7 L185.6,197.3 L185.5,196.2 L185.9,193.9 L188.0,191.3 L187.2,190.2 L188.7,189.3 L190.1,187.5 L190.2,186.8 L190.7,186.9 L192.5,184.6 L191.7,182.9 L193.4,180.4 L193.9,178.4 L194.0,177.3 L194.9,176.7 L196.1,177.4 L197.6,177.1 L198.6,174.9 L199.3,174.0 L200.7,172.9 L200.8,171.9 L202.5,171.0 L202.8,170.4 L202.2,170.6 L203.5,171.6 L204.2,170.3 L205.2,170.1 L204.8,170.9 L206.0,170.0" fill="none" stroke="#f19c2c" stroke-width="1.2" stroke-linejoin="round" stroke-linecap="round"/>
<path d="M130.0,199.6 L134.9,198.8 L139.7,198.1 L144.4,199.9 L149.2,201.5" fill="none" stroke="#f19c2c" stroke-width="1.1" stroke-linejoin="round" stroke-linecap="round"/>
<path d="M185.8,197.7 L186.5,202.9 L186.6,207.6 L185.9,210.9 L184.7,215.1 L186.0,218.0 L187.6,219.4 L186.5,224.5 L185.8,227.6 L186.9,229.4 L189.0,232.0" fill="none" stroke="#f19c2c" stroke-width="1.1" stroke-linejoin="round" stroke-linecap="round"/>
<path d="M196.0,186.0 L197.7,189.1 L199.2,192.2 L196.6,195.1 L194.9,198.3 L196.8,201.4 L198.0,204.0" fill="none" stroke="#f19c2c" stroke-width="1.0" stroke-linejoin="round" stroke-linecap="round"/>
<path d="M96.7,188.0 L97.3,188.9 L100.0,189.3 L99.9,188.2 L101.2,188.2 L104.9,190.4 L106.9,191.3 L109.2,191.2 L110.7,191.7 L114.7,192.5 L116.7,193.6 L119.1,193.9 L122.3,195.4 L124.6,194.3 L127.8,194.2 L129.7,193.9 L130.5,193.2 L133.4,192.9 L135.4,191.9 L137.9,190.2 L140.6,189.1 L140.9,189.0 L139.9,188.9 L141.6,190.0 L140.7,189.0 L143.4,189.8 L144.8,189.5 L147.0,190.3 L148.8,190.8 L151.7,187.8 L155.3,186.6 L157.2,185.2 L160.1,183.8 L163.5,182.6 L165.8,180.7 L167.8,179.5 L171.1,177.8 L172.5,175.3 L172.8,173.2 L175.4,171.2 L176.0,169.5 L176.7,167.3 L178.2,166.3 L179.5,164.7 L179.7,162.7 L181.3,162.2 L184.1,160.6 L185.2,158.6 L188.2,157.4 L187.5,157.7 L189.3,157.8 L188.6,158.4 L189.9,159.8 L190.5,158.4 L192.1,158.5 L194.0,157.9 L195.4,158.3" fill="none" stroke="#e8261f" stroke-width="1.2" stroke-linejoin="round" stroke-linecap="round"/>
<path d="M183.8,167.0 L181.6,169.3 L180.8,173.1 L177.4,176.4 L175.5,178.3 L176.5,180.9 L175.6,182.1 L174.2,184.4 L173.5,185.5 L174.5,187.7 L175.0,191.4 L176.0,193.4 L176.4,195.7 L176.5,196.8 L177.9,197.8 L179.7,198.1 L180.0,199.0" fill="none" stroke="#e8261f" stroke-width="1.2" stroke-linejoin="round" stroke-linecap="round"/>
<path d="M193.5,167.0 L195.6,165.5 L197.2,162.6 L199.7,161.8 L201.7,159.5 L202.5,158.8 L202.8,157.7 L203.0,157.2 L203.3,156.2 L204.7,158.8 L204.7,160.2 L204.6,162.7 L205.2,164.8 L203.4,168.1 L200.6,170.1 L199.7,172.0 L197.3,175.4 L193.6,176.6 L191.0,178.9 L189.4,180.4 L185.1,182.4 L185.4,186.5 L184.8,190.2 L184.9,193.9 L183.6,198.5 L184.3,200.4 L185.6,202.9 L186.1,205.7 L187.5,206.5 L187.8,209.6 L187.8,212.0 L189.0,214.9 L189.3,216.6 L189.6,218.5 L191.3,219.1 L190.5,220.7 L191.3,220.7 L192.3,222.1 L194.9,222.3 L195.8,222.7 L196.8,223.8 L198.5,223.7 L200.7,224.5 L201.6,224.2 L203.2,224.4 L204.4,225.3 L205.1,225.6 L205.1,226.1 L205.9,226.5 L204.0,228.3 L203.2,228.5 L202.1,229.8 L201.1,231.0 L202.2,232.0 L203.3,234.3 L202.5,235.6 L204.7,237.0 L202.2,238.0 L201.8,237.6 L199.6,240.2 L199.5,240.0 L198.5,242.2 L198.7,245.7 L198.9,247.0 L199.9,250.5 L197.2,251.2 L196.5,251.5 L195.2,252.2 L194.0,252.6 L191.5,252.8 L190.7,253.3 L189.0,254.0 L187.8,253.4 L186.3,254.2 L185.7,255.0 L184.7,256.1 L183.8,257.7" fill="none" stroke="#e8261f" stroke-width="1.2" stroke-linejoin="round" stroke-linecap="round"/>
<path d="M130.0,192.0 L135.7,190.5 L141.5,189.0" fill="none" stroke="#e8261f" stroke-width="1.1" stroke-linejoin="round" stroke-linecap="round"/>
<path d="M130.0,212.0 L140.0,211.4 L149.5,210.3 L159.2,207.8 L168.7,205.7 L172.2,208.4 L176.7,211.1 L179.2,213.1 L181.5,214.5 L186.0,216.3 L189.6,217.3" fill="none" stroke="#e8261f" stroke-width="1.0" stroke-linejoin="round" stroke-linecap="round"/>
<path d="M168.5,205.4 L171.2,209.7 L174.2,213.0 L179.4,214.5 L184.0,217.1 L186.5,218.8 L189.6,219.8" fill="none" stroke="#e8261f" stroke-width="1.0" stroke-linejoin="round" stroke-linecap="round"/>
<path d="M137.7,239.4 L139.5,238.9 L141.5,238.8 L144.5,239.2 L147.9,240.1 L154.3,240.3 L160.3,240.9 L165.0,242.3 L170.0,244.5 L175.2,245.3 L180.0,246.0" fill="none" stroke="#e8261f" stroke-width="1.0" stroke-linejoin="round" stroke-linecap="round"/>
<path d="M186.9,252.4 L187.0,254.0 L188.7,255.1 L189.4,254.9 L191.2,254.2 L191.6,255.8 L192.9,257.8 L193.5,257.8 L194.6,256.7 L193.9,256.2 L193.1,256.7 L193.0,258.8 L192.2,259.8 L192.9,261.8 L194.2,263.6 L195.0,264.9 L195.9,267.2 L196.7,267.8 L197.2,268.8 L198.8,270.3 L200.0,271.7 L200.5,273.1 L200.2,275.2 L199.9,276.6 L199.3,277.1 L200.2,279.5 L200.6,281.1 L198.7,281.0 L198.3,280.8" fill="none" stroke="#e8261f" stroke-width="1.2" stroke-linejoin="round" stroke-linecap="round"/>
<path d="M194.4,254.3 L194.1,256.2 L193.0,259.2 L194.9,258.5 L195.5,257.8 L195.1,259.4 L193.4,260.0 L194.6,260.4 L196.0,259.9 L196.0,261.7 L196.0,262.4 L194.3,264.3 L194.1,266.5 L194.9,266.6 L194.3,266.2 L195.2,267.3 L194.9,267.6 L195.4,269.6 L195.3,271.1 L194.2,271.8 L193.6,274.4 L193.1,275.6 L193.9,276.3 L194.3,277.4 L195.0,277.5 L194.7,279.8 L195.4,281.1 L196.4,283.2 L198.7,284.5" fill="none" stroke="#e8261f" stroke-width="1.2" stroke-linejoin="round" stroke-linecap="round"/>
<path d="M195.1,253.2 L196.8,255.3 L198.2,257.4 L198.8,258.5 L199.7,259.1 L200.6,258.5 L200.1,258.4 L199.7,258.3 L198.9,258.8 L200.9,259.2 L202.0,260.2 L201.6,260.5 L202.5,260.5 L203.2,260.6 L202.8,261.0 L202.2,263.2 L200.4,265.2 L200.1,265.6 L201.0,264.5 L200.7,266.2 L201.9,268.7 L201.8,269.7 L200.0,270.8 L200.7,271.6 L200.9,271.8 L198.7,272.2 L198.5,271.7 L199.7,273.5 L201.9,275.3" fill="none" stroke="#e8261f" stroke-width="1.2" stroke-linejoin="round" stroke-linecap="round"/>
<path d="M194.6,252.5 L193.9,251.8 L194.0,252.2 L193.7,252.6 L194.1,252.0 L193.5,251.7 L193.9,251.7 L194.0,251.4 L195.1,251.4 L196.0,251.5 L197.0,251.5 L196.6,252.7 L195.2,254.9 L194.4,256.8 L194.0,259.8 L196.4,261.7 L196.8,262.9 L197.0,263.3 L196.0,264.4 L195.4,266.1 L194.2,268.5 L194.9,269.3 L197.2,271.2 L196.7,271.5 L197.8,271.7 L198.8,272.4 L199.7,274.0 L201.2,273.2 L201.7,273.4" fill="none" stroke="#e8261f" stroke-width="1.2" stroke-linejoin="round" stroke-linecap="round"/>
<path d="M181.7,253.3 L182.2,253.0 L182.4,253.8 L182.6,254.6 L183.1,256.6 L184.3,257.7 L185.2,259.5 L185.8,259.2 L186.6,260.3 L185.3,261.3 L184.5,262.9 L184.2,264.9 L184.9,265.4 L185.1,267.2 L186.4,268.7 L186.0,271.3 L186.6,272.3 L188.6,273.8 L190.1,274.8 L188.8,277.0 L188.7,278.0 L188.4,280.5 L189.3,282.1 L188.9,282.3 L188.9,282.5 L191.2,282.5 L192.3,283.7 L191.1,284.3 L190.8,284.5" fill="none" stroke="#e8261f" stroke-width="1.2" stroke-linejoin="round" stroke-linecap="round"/>
<path d="M198.6,252.8 L200.5,254.0 L201.9,254.8 L201.8,257.2 L201.9,258.3 L202.1,259.0 L202.7,259.4 L202.1,260.6 L201.7,260.2 L201.7,262.7 L202.4,264.7 L203.0,267.1 L204.1,269.1 L205.5,270.8 L205.1,272.6 L204.3,273.1 L202.8,274.0 L204.7,276.4 L206.4,278.3 L205.8,279.3 L206.2,280.1 L206.6,280.6 L206.8,281.2 L207.1,280.7 L207.2,280.3 L207.0,280.9 L207.0,282.1 L206.1,282.1 L205.0,281.8" fill="none" stroke="#e8261f" stroke-width="1.2" stroke-linejoin="round" stroke-linecap="round"/>
<path d="M180.9,254.1 L182.2,255.4 L182.8,256.5 L183.4,256.9 L183.0,257.2 L184.8,257.3 L187.5,257.3 L189.2,257.4 L189.8,257.6 L189.3,259.2 L187.7,260.9 L188.0,260.9 L188.0,260.2 L188.3,260.9 L188.0,262.1 L189.8,261.6 L190.4,261.0 L189.8,263.1 L189.6,265.7 L190.1,266.1 L191.6,265.9 L192.0,266.5 L191.1,266.3 L192.9,267.0 L192.8,268.9 L194.9,271.1 L196.7,272.4 L197.4,273.9 L197.2,275.4" fill="none" stroke="#e8261f" stroke-width="1.2" stroke-linejoin="round" stroke-linecap="round"/>
<path d="M191.2,252.7 L191.5,254.4 L191.5,254.8 L190.5,256.8 L190.8,259.2 L191.4,259.7 L192.9,261.2 L191.6,262.2 L191.0,261.6 L190.8,263.5 L190.7,264.4 L191.0,265.9 L192.6,268.1 L194.3,268.5 L195.9,269.8 L195.9,271.1 L196.4,272.7 L198.4,272.5 L199.8,272.6 L201.1,274.3 L200.8,276.1 L200.6,277.3 L200.0,277.6 L201.2,278.5 L204.0,280.6 L204.4,280.4 L204.1,280.1 L205.6,282.3 L207.7,283.2" fill="none" stroke="#e8261f" stroke-width="1.2" stroke-linejoin="round" stroke-linecap="round"/>
<path d="M191.8,252.8 L191.4,252.3 L191.4,252.7 L193.2,253.3 L194.6,254.4 L196.8,254.9 L198.3,255.3 L200.0,255.8 L200.0,255.8 L199.0,257.9 L197.6,260.5 L199.4,260.2 L201.4,260.5 L202.1,263.1 L203.1,264.4 L203.7,266.0 L202.6,266.6 L204.0,267.5 L205.0,268.2 L205.0,268.7 L204.2,268.8 L204.1,270.6 L204.3,272.3 L204.1,272.0 L203.2,272.6 L204.3,273.8 L205.3,274.2 L205.8,274.1 L205.8,274.5" fill="none" stroke="#e8261f" stroke-width="1.2" stroke-linejoin="round" stroke-linecap="round"/>
<path d="M195.4,253.5 L196.2,253.6 L196.5,254.4 L196.9,253.6 L197.1,253.5 L196.1,255.1 L194.8,257.8 L195.4,258.9 L194.3,259.4 L193.6,260.7 L192.9,261.9 L192.5,262.7 L193.1,263.4 L193.1,263.6 L192.6,262.9 L192.1,263.5 L191.7,262.8 L191.5,265.2 L190.0,265.8 L190.3,267.1 L189.0,267.3 L190.8,269.6 L192.6,271.4 L194.9,272.2 L196.4,274.5 L195.7,275.2 L194.3,274.6 L193.9,276.4 L192.3,277.9" fill="none" stroke="#e8261f" stroke-width="1.2" stroke-linejoin="round" stroke-linecap="round"/>
<path d="M199.1,253.7 L200.1,255.0 L201.6,256.7 L201.4,255.6 L202.0,255.0 L201.8,255.9 L202.2,256.9 L202.6,258.5 L202.9,261.0 L201.8,262.8 L201.4,263.7 L199.6,265.4 L198.4,266.5 L199.9,266.8 L201.8,267.4 L201.6,269.4 L202.5,271.6 L203.0,272.2 L203.6,274.3 L204.1,272.9 L203.6,273.6 L203.3,273.2 L203.2,274.3 L202.2,274.7 L201.4,275.5 L201.3,276.6 L200.9,278.1 L201.0,277.8 L202.2,278.2" fill="none" stroke="#e8261f" stroke-width="1.2" stroke-linejoin="round" stroke-linecap="round"/>
<path d="M182.7,253.8 L183.8,253.9 L185.7,253.9 L185.2,255.3 L184.3,257.5 L185.4,258.5 L187.3,260.7 L186.9,262.1 L186.4,264.8 L187.7,265.8 L188.6,267.7 L188.7,267.4 L188.3,267.4 L190.1,268.2 L191.8,267.8 L191.0,269.2 L191.3,270.1 L190.8,271.6 L190.9,273.8 L191.2,273.9 L190.6,273.6 L191.3,274.4 L191.7,275.0 L193.0,277.1 L194.0,278.5 L196.4,280.5 L197.8,282.4 L197.7,283.9 L198.3,284.3" fill="none" stroke="#e8261f" stroke-width="1.2" stroke-linejoin="round" stroke-linecap="round"/>
<path d="M186.0,247.0 L181.9,247.2 L179.6,248.2 L175.3,249.3 L174.5,250.2 L173.3,251.1 L172.2,251.9 L172.1,253.2 L174.0,255.4 L173.4,257.6 L174.8,257.4 L176.4,258.7 L177.5,260.3 L179.3,260.3 L181.3,260.2 L184.3,259.5 L185.3,262.1 L186.6,266.0 L188.1,268.3 L189.8,269.3 L191.7,272.1 L191.7,274.1 L193.9,275.8 L196.6,279.1 L198.1,281.1 L200.8,282.4 L202.7,284.2 L205.0,286.0 L206.2,284.5 L207.9,283.8 L209.1,283.2 L207.7,277.7 L206.4,272.9 L203.9,267.3 L202.8,262.0 L202.0,256.7 L200.4,250.8" fill="none" stroke="#e8261f" stroke-width="1.2" stroke-linejoin="round" stroke-linecap="round"/>
<path d="M160.0,240.6 L162.3,241.2 L165.8,241.4 L166.7,241.5 L169.3,241.6 L173.0,241.0 L175.7,242.1 L177.1,241.4 L179.9,242.6 L182.6,241.3 L184.2,241.1 L188.0,241.1 L190.1,241.2 L192.8,241.0 L194.4,241.4 L197.6,240.7 L200.0,240.1" fill="none" stroke="#2c45a2" stroke-width="1.2" stroke-linejoin="round" stroke-linecap="round"/>
<path d="M160.0,243.6 L163.3,243.1 L164.7,243.5 L167.5,245.0 L170.5,243.8 L172.0,245.3 L175.3,244.7 L177.5,244.4 L180.6,245.0 L183.1,245.2 L184.3,244.6 L187.0,245.4 L190.2,243.9 L191.9,244.0 L194.9,244.0 L197.3,243.3 L200.0,243.1" fill="none" stroke="#2c45a2" stroke-width="1.2" stroke-linejoin="round" stroke-linecap="round"/>
<path d="M160.0,240.0 L162.6,240.0 L164.2,240.5 L168.3,240.0 L169.4,241.3 L172.1,240.8 L175.0,240.9 L177.6,241.4 L180.8,242.4 L181.7,241.5 L185.5,241.9 L188.0,241.4 L190.2,240.8 L192.1,241.2 L195.6,241.0 L197.8,239.6 L200.0,239.5" fill="none" stroke="#2c45a2" stroke-width="1.2" stroke-linejoin="round" stroke-linecap="round"/>
<path d="M160.0,243.4 L162.9,243.7 L165.2,243.7 L167.6,244.0 L169.3,244.2 L172.2,245.4 L175.0,244.5 L177.1,244.4 L179.7,244.3 L181.7,245.4 L184.9,244.6 L187.6,244.2 L189.4,243.7 L192.2,243.7 L195.4,243.8 L198.2,243.0 L200.0,242.9" fill="none" stroke="#2c45a2" stroke-width="1.2" stroke-linejoin="round" stroke-linecap="round"/>
<path d="M160.0,244.1 L162.6,243.7 L164.5,244.8 L168.3,244.7 L170.5,245.0 L173.1,244.5 L175.0,246.1 L177.1,245.1 L179.2,245.1 L182.1,245.9 L184.5,245.2 L187.0,245.4 L190.6,245.4 L192.0,245.2 L195.8,244.6 L196.8,244.5 L200.0,243.6" fill="none" stroke="#2c45a2" stroke-width="1.2" stroke-linejoin="round" stroke-linecap="round"/>
<path d="M186.9,250.8 L189.1,256.1 L189.4,261.5 L192.6,266.6 L195.2,270.7 L197.0,272.7 L200.4,276.2 L201.3,279.3 L203.0,282.0" fill="none" stroke="#e8261f" stroke-width="1.2" stroke-linejoin="round" stroke-linecap="round"/>
<path d="M94.6,201.0 L95.7,200.7 L97.3,201.1 L99.0,202.1 L100.2,203.0 L101.5,201.0 L102.8,200.0 L105.5,198.4 L106.3,196.0 L108.6,196.4 L108.6,197.0 L109.7,198.9 L110.7,199.8 L112.3,198.9 L113.7,198.5 L114.9,198.2 L115.4,198.0 L117.0,199.0 L119.6,200.2 L120.6,201.3 L123.5,201.8 L124.5,202.8 L127.7,203.0 L128.3,204.5 L131.6,205.9 L133.2,205.8 L135.2,204.9 L137.1,203.2 L139.4,202.9 L142.5,204.5 L144.5,206.0 L147.3,205.6 L149.5,207.4 L153.2,207.2 L154.2,209.0 L157.1,210.1 L160.0,210.2 L162.2,211.5 L164.9,211.7 L168.2,212.3 L170.4,213.3 L172.2,214.6 L174.6,214.8 L176.1,216.1 L178.0,217.0" fill="none" stroke="#b962b0" stroke-width="1.2" stroke-linejoin="round" stroke-linecap="round"/>
<path d="M96.0,200.0 L100.2,202.0 L103.2,202.0 L106.1,203.3 L109.9,204.5 L112.5,206.4 L116.2,206.7 L119.8,207.5 L122.1,208.4 L125.4,210.5 L127.1,211.1 L130.8,211.1 L132.7,212.3 L135.4,212.1 L136.8,213.3 L138.2,213.7 L140.7,213.5 L142.0,214.0 L143.2,215.1 L143.5,215.4 L146.2,214.7 L147.5,215.1 L152.0,215.7 L154.8,216.7 L157.4,217.3 L159.8,219.1 L163.0,219.3 L167.8,220.8 L171.0,222.0 L171.5,222.2 L174.7,224.4 L175.3,225.6 L177.5,226.9 L178.6,227.1 L181.3,228.6 L182.3,229.2 L182.9,230.2 L183.0,231.2 L183.7,232.1 L184.0,233.7 L183.1,234.4 L181.9,236.0 L179.7,235.6 L178.9,237.4 L176.6,237.1 L173.7,237.8 L171.6,238.2 L170.4,239.5 L168.6,240.2 L166.7,241.7 L166.8,242.4 L165.7,243.6 L164.6,244.2" fill="none" stroke="#b962b0" stroke-width="1.2" stroke-linejoin="round" stroke-linecap="round"/>
<path d="M130.0,212.5 L136.2,213.4 L141.7,213.4 L145.2,214.4 L149.7,215.3 L153.9,216.3 L158.4,217.8 L164.1,219.4 L170.4,221.2" fill="none" stroke="#b962b0" stroke-width="1.0" stroke-linejoin="round" stroke-linecap="round"/>
<path d="M185.0,243.0 L190.5,241.7 L195.1,240.9 L198.0,240.1 L201.2,240.4 L207.4,242.5 L212.0,244.2 L212.9,248.9 L213.9,253.3 L213.0,255.6 L211.0,258.8" fill="none" stroke="#b962b0" stroke-width="1.1" stroke-linejoin="round" stroke-linecap="round"/>
<path d="M203.0,240.0 L204.8,238.4 L206.0,236.1 L208.6,238.2 L210.2,241.3 L208.4,243.3 L206.9,245.0 L209.6,241.7 L212.0,238.0" fill="none" stroke="#b962b0" stroke-width="1.6" stroke-linejoin="round" stroke-linecap="round"/>
<path d="M95.3,205.4 L97.1,206.0 L99.5,205.8 L101.7,206.3 L104.3,207.1 L105.3,206.9 L106.2,206.2 L106.9,207.2 L108.8,206.2 L111.4,205.9 L113.6,203.9 L117.1,203.6 L119.4,203.4 L122.0,202.8 L122.8,201.3 L126.3,201.4 L127.3,199.6 L129.2,198.2 L131.1,198.1 L133.1,196.2 L134.1,194.8 L136.4,195.3 L136.2,194.9 L137.5,195.3 L137.1,195.1 L138.9,195.6 L140.2,196.0 L141.8,196.8 L142.7,197.2 L146.0,197.2 L147.8,198.6 L150.3,198.2 L152.7,199.3 L154.3,198.7 L157.6,197.7 L158.7,198.4 L161.0,197.5 L161.9,198.8 L164.4,200.5 L166.2,201.1 L168.8,203.0 L170.2,202.1 L172.5,202.7 L173.8,202.6 L176.6,201.3 L178.4,201.7 L179.3,202.9 L181.7,203.0 L183.8,204.2 L185.7,202.2 L186.9,202.4 L188.1,202.6 L189.5,201.5 L191.7,200.0 L192.5,198.7 L194.5,197.5 L195.8,195.6 L195.6,194.9 L197.4,193.9 L198.7,191.6 L198.7,190.3 L200.5,189.6 L200.0,189.9 L201.5,188.0 L202.4,188.4 L202.3,186.8 L202.9,187.0 L203.0,187.5 L203.1,186.2" fill="none" stroke="#4caf40" stroke-width="1.2" stroke-linejoin="round" stroke-linecap="round"/>
<path d="M202.5,192.1 L205.2,189.2" fill="none" stroke="#4caf40" stroke-width="1.2" stroke-linejoin="round" stroke-linecap="round"/>
<path d="M204.8,192.0 L202.1,192.4" fill="none" stroke="#4caf40" stroke-width="1.2" stroke-linejoin="round" stroke-linecap="round"/>
<path d="M202.8,193.4 L203.3,194.6" fill="none" stroke="#4caf40" stroke-width="1.2" stroke-linejoin="round" stroke-linecap="round"/>
<path d="M203.3,191.4 L200.7,191.6" fill="none" stroke="#4caf40" stroke-width="1.2" stroke-linejoin="round" stroke-linecap="round"/>
<path d="M204.3,193.4 L202.1,195.9" fill="none" stroke="#4caf40" stroke-width="1.2" stroke-linejoin="round" stroke-linecap="round"/>
<path d="M202.3,192.6 L203.4,194.3" fill="none" stroke="#4caf40" stroke-width="1.2" stroke-linejoin="round" stroke-linecap="round"/>
<path d="M203.5,192.7 L201.5,194.3" fill="none" stroke="#4caf40" stroke-width="1.2" stroke-linejoin="round" stroke-linecap="round"/>
<path d="M202.7,193.5 L200.9,195.1" fill="none" stroke="#4caf40" stroke-width="1.2" stroke-linejoin="round" stroke-linecap="round"/>
<path d="M203.0,192.6 L202.1,192.0" fill="none" stroke="#4caf40" stroke-width="1.2" stroke-linejoin="round" stroke-linecap="round"/>
<path d="M203.0,192.0 L200.9,194.0" fill="none" stroke="#4caf40" stroke-width="1.2" stroke-linejoin="round" stroke-linecap="round"/>
<path d="M204.1,193.2 L204.1,190.6" fill="none" stroke="#4caf40" stroke-width="1.2" stroke-linejoin="round" stroke-linecap="round"/>
<path d="M204.7,192.4 L201.2,191.1" fill="none" stroke="#4caf40" stroke-width="1.2" stroke-linejoin="round" stroke-linecap="round"/>
<path d="M203.3,192.8 L204.6,191.6" fill="none" stroke="#4caf40" stroke-width="1.2" stroke-linejoin="round" stroke-linecap="round"/>
<path d="M202.3,192.7 L207.4,193.6" fill="none" stroke="#4caf40" stroke-width="1.2" stroke-linejoin="round" stroke-linecap="round"/>
<path d="M203.7,193.2 L205.3,195.9" fill="none" stroke="#4caf40" stroke-width="1.2" stroke-linejoin="round" stroke-linecap="round"/>
<path d="M204.0,192.0 L200.0,192.5" fill="none" stroke="#4caf40" stroke-width="1.2" stroke-linejoin="round" stroke-linecap="round"/>
<path d="M202.5,193.5 L204.5,195.9" fill="none" stroke="#4caf40" stroke-width="1.2" stroke-linejoin="round" stroke-linecap="round"/>
<path d="M202.4,193.2 L203.9,193.9" fill="none" stroke="#4caf40" stroke-width="1.2" stroke-linejoin="round" stroke-linecap="round"/>
<path d="M203.9,191.9 L206.0,191.8" fill="none" stroke="#4caf40" stroke-width="1.2" stroke-linejoin="round" stroke-linecap="round"/>
<path d="M202.6,191.4 L206.4,190.8" fill="none" stroke="#4caf40" stroke-width="1.2" stroke-linejoin="round" stroke-linecap="round"/>
<path d="M204.4,192.0 L203.0,191.3" fill="none" stroke="#4caf40" stroke-width="1.2" stroke-linejoin="round" stroke-linecap="round"/>
<path d="M203.0,192.6 L203.8,195.3" fill="none" stroke="#4caf40" stroke-width="1.2" stroke-linejoin="round" stroke-linecap="round"/>
<ellipse cx="203.5" cy="192.5" rx="1.8" ry="2.2" fill="#4caf40"/>
<path d="M67.3,210.4 L67.8,210.2 L69.2,209.2 L69.9,208.3 L72.4,206.7 L71.9,205.4 L74.0,203.8 L75.0,202.3 L75.9,202.1 L76.5,201.6 L76.6,201.4 L77.2,201.1 L79.3,200.7 L77.0,201.4 L75.2,203.9 L74.0,205.9 L71.8,206.9 L74.0,207.9 L74.3,208.0 L74.5,209.1 L76.7,211.0 L76.0,212.6 L76.1,213.6 L78.1,214.6 L78.5,216.7 L78.2,216.3 L80.2,216.4 L82.0,216.5 L83.4,217.0 L83.0,217.6 L83.9,217.8 L85.9,218.1 L86.2,217.4 L87.4,217.3 L88.7,217.1 L89.7,217.3 L90.5,217.6 L92.5,216.7 L96.2,217.0 L98.4,217.9 L100.2,216.7 L99.9,218.8 L100.4,219.0 L101.5,219.3 L101.8,220.2 L102.8,219.7 L103.4,218.1 L104.4,217.0 L104.8,216.0 L107.8,216.6 L109.5,216.0 L111.3,217.1 L112.8,217.4 L114.3,217.3 L116.2,217.6 L117.1,217.8 L119.0,219.0 L120.1,220.3 L121.1,220.4 L122.6,221.1 L124.9,222.0 L124.5,222.0 L126.3,224.1 L126.2,224.4 L128.2,225.5 L128.5,224.9 L129.5,224.5 L129.6,223.9 L131.2,222.3 L132.8,222.1 L136.0,222.8 L137.2,222.2 L140.0,222.5" fill="none" stroke="#2c45a2" stroke-width="1.2" stroke-linejoin="round" stroke-linecap="round"/>
<path d="M105.0,217.4 L109.6,217.5 L114.8,219.0 L120.7,219.2 L125.0,219.2 L130.4,220.2 L135.4,220.3 L139.6,220.9 L145.5,221.7 L149.4,222.2 L154.8,222.3 L160.7,223.7 L165.3,223.8 L169.8,225.5 L174.2,225.9 L178.5,226.5 L181.5,226.8 L185.1,228.1 L188.0,228.4" fill="none" stroke="#2c45a2" stroke-width="1.1" stroke-linejoin="round" stroke-linecap="round"/>
<path d="M105.0,220.6 L109.7,221.8 L115.0,222.4 L119.5,223.0 L125.4,222.5 L130.5,223.0 L134.6,223.9 L139.6,224.7 L145.6,225.7 L150.3,226.0 L155.4,227.4 L160.3,228.5 L165.5,228.7 L168.8,229.7 L174.1,230.0 L178.1,231.4 L181.7,230.8 L184.7,231.4 L188.0,232.6" fill="none" stroke="#2c45a2" stroke-width="1.1" stroke-linejoin="round" stroke-linecap="round"/>
<path d="M105.0,217.3 L110.4,217.6 L115.1,218.1 L119.8,218.2 L124.8,219.5 L130.2,219.2 L134.4,219.6 L140.3,220.5 L145.2,221.6 L149.5,222.0 L154.4,223.0 L159.6,223.0 L165.6,223.9 L168.9,225.3 L173.8,225.9 L177.9,225.9 L182.0,226.7 L185.4,227.1 L188.0,228.3" fill="none" stroke="#2c45a2" stroke-width="1.1" stroke-linejoin="round" stroke-linecap="round"/>
<path d="M105.0,220.5 L109.5,221.0 L114.3,221.1 L120.6,222.0 L125.4,222.3 L129.8,222.6 L135.1,224.3 L140.0,224.3 L145.6,225.7 L150.2,225.3 L155.2,226.7 L160.6,227.5 L165.2,228.7 L169.2,229.3 L173.9,230.5 L178.0,230.5 L182.0,230.6 L185.1,232.1 L188.0,232.4" fill="none" stroke="#2c45a2" stroke-width="1.1" stroke-linejoin="round" stroke-linecap="round"/>
<path d="M105.0,219.3 L109.9,220.1 L115.5,220.6 L120.3,220.1 L124.8,220.8 L130.6,222.3 L134.5,222.4 L140.1,222.3 L144.8,224.0 L150.2,224.0 L155.4,224.9 L160.1,225.9 L165.7,227.1 L169.8,227.8 L173.5,228.9 L178.3,229.1 L181.0,229.1 L184.8,230.6 L188.0,230.8" fill="none" stroke="#2c45a2" stroke-width="1.1" stroke-linejoin="round" stroke-linecap="round"/>
<path d="M105.0,220.3 L109.8,220.3 L115.0,221.9 L119.5,222.3 L124.5,222.2 L129.4,222.7 L134.8,224.2 L140.6,223.8 L144.7,225.6 L149.6,225.4 L154.9,226.0 L159.7,227.3 L164.8,229.0 L169.0,228.6 L174.2,229.7 L178.5,230.6 L181.7,230.8 L184.2,232.0 L188.0,232.2" fill="none" stroke="#2c45a2" stroke-width="1.1" stroke-linejoin="round" stroke-linecap="round"/>
<path d="M105.0,218.9 L110.1,219.6 L115.4,219.5 L119.8,220.9 L125.0,220.6 L130.2,221.0 L135.4,221.2 L140.5,222.6 L144.8,223.8 L149.7,223.5 L154.4,224.7 L160.4,225.7 L164.9,226.7 L168.8,226.7 L173.9,228.3 L178.2,228.6 L181.7,228.8 L185.3,230.0 L188.0,230.3" fill="none" stroke="#2c45a2" stroke-width="1.1" stroke-linejoin="round" stroke-linecap="round"/>
<path d="M105.0,218.3 L109.8,219.2 L114.8,218.8 L120.5,219.8 L125.0,220.4 L130.6,220.2 L134.8,220.6 L139.9,221.8 L145.5,222.7 L150.1,223.0 L155.1,223.6 L160.5,225.1 L165.5,225.0 L169.6,226.5 L173.7,227.4 L178.6,227.8 L181.8,228.4 L185.2,228.4 L188.0,229.6" fill="none" stroke="#2c45a2" stroke-width="1.1" stroke-linejoin="round" stroke-linecap="round"/>
<path d="M129.6,239.0 L133.1,239.7 L136.4,239.7 L139.2,240.5 L143.1,240.8 L145.7,241.4 L148.8,242.5 L153.5,242.9 L156.8,243.2 L160.4,243.6 L164.5,243.1 L168.6,243.5 L172.1,243.8 L176.1,244.0 L180.3,243.1 L184.1,242.9 L187.4,243.1 L191.4,242.5 L195.5,242.0 L197.6,241.7 L199.6,241.9 L201.2,241.3" fill="none" stroke="#2c45a2" stroke-width="1.1" stroke-linejoin="round" stroke-linecap="round"/>
<path d="M135.0,240.0 L140.0,240.6 L145.3,241.8 L150.0,243.4 L154.5,244.1 L160.3,244.5 L164.9,244.8 L170.1,244.2 L175.4,244.9 L180.4,244.6 L184.8,244.4 L189.5,243.6 L194.6,243.4 L197.9,243.5 L200.3,242.8 L203.0,242.8" fill="none" stroke="#2c45a2" stroke-width="1.1" stroke-linejoin="round" stroke-linecap="round"/>
<path d="M188.3,275.0 L190.6,280.3 L193.3,285.4 L196.6,285.1 L198.9,284.0 L202.6,285.3 L205.5,287.1 L206.3,290.3 L206.4,292.5" fill="none" stroke="#2c45a2" stroke-width="1.1" stroke-linejoin="round" stroke-linecap="round"/>
<path d="M183.0,246.0 L184.8,251.5 L186.5,256.3 L187.8,260.5 L188.6,265.4 L189.1,270.8 L188.3,275.0" fill="none" stroke="#2c45a2" stroke-width="1.0" stroke-linejoin="round" stroke-linecap="round"/>
</g>
<g>
<path d="M346.9,188.5 L346.4,187.6 L345.2,187.0 L344.9,187.8 L343.7,185.8 L343.7,185.6 L345.1,185.6 L344.7,183.8 L344.4,183.1 L346.9,183.2 L348.7,183.4 L349.8,182.2 L351.3,181.1 L352.1,181.3 L354.7,180.3 L356.2,179.5 L359.2,180.1 L360.9,180.1 L361.7,179.2 L363.3,178.9 L365.7,177.3 L365.1,176.5 L366.7,175.8 L366.5,175.5 L368.5,173.9 L368.5,173.7 L370.5,171.4 L371.4,171.3 L373.5,170.2 L373.8,170.7 L373.9,172.7 L374.9,172.4 L375.9,173.4 L375.8,174.4 L376.9,175.2 L377.6,175.4 L377.0,176.4 L377.5,175.5 L378.5,175.3 L379.5,174.1 L379.8,174.3 L380.0,175.4 L381.2,178.0 L380.3,179.4 L382.3,181.3 L381.1,180.5 L381.6,178.6 L381.2,175.9 L380.0,175.8 L382.0,173.3 L381.8,172.7 L384.1,171.7 L384.7,171.9 L386.1,170.2 L386.9,167.2 L388.0,166.5 L389.6,165.2 L391.2,164.4 L392.1,164.8 L392.3,165.2 L393.5,166.9 L394.6,165.0 L395.5,165.4 L396.4,164.9 L397.1,164.6 L398.8,163.5 L399.1,164.0 L400.9,163.6 L401.9,163.9 L402.4,163.5 L404.1,162.4 L403.5,162.2 L404.1,161.4 L403.8,164.2 L404.2,165.1 L403.3,167.6 L404.3,169.8 L403.8,170.4 L404.8,172.5 L405.2,173.7 L407.3,175.4 L406.7,175.5 L407.8,177.7 L409.6,178.6 L410.3,179.7 L411.1,180.8 L412.0,181.6 L412.3,182.6 L412.8,183.0 L412.5,181.5 L414.8,179.7 L415.8,177.8 L416.9,176.8 L418.2,174.8 L419.3,173.2 L421.0,171.1 L422.9,170.8 L424.2,170.5 L425.4,170.1 L426.7,169.8 L426.5,168.8 L427.7,168.1 L428.4,169.1 L430.5,167.8 L431.2,168.1 L432.6,167.8 L433.2,166.3 L434.8,166.3 L435.6,166.0 L436.4,167.1 L436.8,166.6 L438.5,166.9 L439.9,166.9 L440.4,168.1 L441.1,167.8 L440.5,168.9 L442.2,169.2 L441.3,171.1 L442.7,171.0 L442.0,172.5 L442.6,173.4 L443.5,173.0 L443.5,173.0 L444.9,173.7 L445.0,175.3 L445.8,175.3 L446.0,176.0 L446.3,176.1 L445.5,176.3 L446.0,176.4 L446.8,175.6 L447.9,176.6 L448.8,175.0 L449.9,173.9 L449.8,173.1 L451.2,172.8 L452.2,171.9 L452.4,172.0 L453.6,171.7 L453.9,171.5 L455.0,171.4 L456.7,170.3 L456.6,168.5 L457.2,169.1 L458.0,168.0 L459.2,167.4 L459.1,166.0 L459.6,166.7 L460.6,165.6 L461.5,164.8 L461.2,164.2 L463.0,164.2 L463.7,164.4 L464.0,163.9 L464.7,164.0 L464.6,164.3 L464.8,163.8 L465.7,166.1 L464.8,169.0 L464.4,170.3 L464.2,172.8 L464.8,174.4 L465.4,175.9 L465.1,176.8 L466.7,177.3 L466.0,178.9 L466.7,180.3 L468.3,181.0 L467.9,183.0 L467.4,182.8 L467.3,182.8 L466.1,183.4 L466.2,184.5 L466.1,182.2 L465.4,182.3 L465.7,181.5 L465.4,180.0" fill="none" stroke="#2c45a2" stroke-width="1.15" stroke-linejoin="round" stroke-linecap="round"/>
<path d="M460.9,170.6 L465.9,167.7" fill="none" stroke="#2c45a2" stroke-width="1.2" stroke-linejoin="round" stroke-linecap="round"/>
<path d="M461.1,170.3 L459.9,168.6" fill="none" stroke="#2c45a2" stroke-width="1.2" stroke-linejoin="round" stroke-linecap="round"/>
<path d="M461.4,170.5 L462.4,171.1" fill="none" stroke="#2c45a2" stroke-width="1.2" stroke-linejoin="round" stroke-linecap="round"/>
<path d="M460.9,168.8 L458.5,170.2" fill="none" stroke="#2c45a2" stroke-width="1.2" stroke-linejoin="round" stroke-linecap="round"/>
<path d="M462.4,168.5 L461.2,171.4" fill="none" stroke="#2c45a2" stroke-width="1.2" stroke-linejoin="round" stroke-linecap="round"/>
<path d="M462.0,167.8 L465.2,173.1" fill="none" stroke="#2c45a2" stroke-width="1.2" stroke-linejoin="round" stroke-linecap="round"/>
<path d="M462.0,167.3 L465.4,169.3" fill="none" stroke="#2c45a2" stroke-width="1.2" stroke-linejoin="round" stroke-linecap="round"/>
<path d="M462.1,168.0 L458.4,169.9" fill="none" stroke="#2c45a2" stroke-width="1.2" stroke-linejoin="round" stroke-linecap="round"/>
<path d="M462.4,167.7 L458.7,169.0" fill="none" stroke="#2c45a2" stroke-width="1.2" stroke-linejoin="round" stroke-linecap="round"/>
<path d="M462.6,170.3 L463.4,163.6" fill="none" stroke="#2c45a2" stroke-width="1.2" stroke-linejoin="round" stroke-linecap="round"/>
<path d="M461.1,168.0 L459.2,173.1" fill="none" stroke="#2c45a2" stroke-width="1.2" stroke-linejoin="round" stroke-linecap="round"/>
<path d="M460.9,168.0 L458.6,165.8" fill="none" stroke="#2c45a2" stroke-width="1.2" stroke-linejoin="round" stroke-linecap="round"/>
<path d="M461.0,167.9 L464.7,169.8" fill="none" stroke="#2c45a2" stroke-width="1.2" stroke-linejoin="round" stroke-linecap="round"/>
<path d="M463.2,168.6 L462.0,164.8" fill="none" stroke="#2c45a2" stroke-width="1.2" stroke-linejoin="round" stroke-linecap="round"/>
<path d="M463.2,168.0 L461.4,167.3" fill="none" stroke="#2c45a2" stroke-width="1.2" stroke-linejoin="round" stroke-linecap="round"/>
<path d="M463.2,169.0 L459.1,169.6" fill="none" stroke="#2c45a2" stroke-width="1.2" stroke-linejoin="round" stroke-linecap="round"/>
<path d="M461.2,170.2 L465.3,168.8" fill="none" stroke="#2c45a2" stroke-width="1.2" stroke-linejoin="round" stroke-linecap="round"/>
<path d="M461.9,168.0 L463.3,174.7" fill="none" stroke="#2c45a2" stroke-width="1.2" stroke-linejoin="round" stroke-linecap="round"/>
<path d="M461.7,168.4 L464.3,168.2" fill="none" stroke="#2c45a2" stroke-width="1.2" stroke-linejoin="round" stroke-linecap="round"/>
<path d="M461.7,167.8 L461.3,167.3" fill="none" stroke="#2c45a2" stroke-width="1.2" stroke-linejoin="round" stroke-linecap="round"/>
<path d="M462.3,168.1 L462.6,167.4" fill="none" stroke="#2c45a2" stroke-width="1.2" stroke-linejoin="round" stroke-linecap="round"/>
<path d="M462.6,167.7 L459.0,170.2" fill="none" stroke="#2c45a2" stroke-width="1.2" stroke-linejoin="round" stroke-linecap="round"/>
<ellipse cx="462" cy="169" rx="1.8" ry="2.8" fill="#2c45a2"/>
<path d="M392.1,190.4 L391.0,188.8 L391.4,187.9 L389.3,187.5 L389.3,187.1 L388.5,185.1 L388.7,184.7 L389.1,183.5 L389.8,183.0 L391.0,182.7 L391.2,182.0 L392.7,179.8 L394.7,179.2 L393.7,178.8 L394.7,179.1 L396.1,177.6 L396.0,177.6 L396.7,178.4 L396.5,178.7 L396.3,180.8 L397.0,182.2 L399.0,183.2 L399.3,182.5 L401.9,184.0 L402.2,184.9 L403.2,184.6 L404.2,185.4 L405.6,185.1 L406.6,186.4 L407.3,186.1 L409.0,184.6 L409.6,185.3 L411.1,184.8 L411.0,186.1 L412.8,185.7 L412.9,187.7 L413.3,187.6 L414.7,189.5 L413.8,190.4 L414.2,191.4 L415.0,191.7 L414.8,192.4 L415.4,192.7 L415.8,193.9 L416.9,193.9 L417.9,196.5 L418.6,196.7 L419.6,197.9 L419.5,199.2 L420.2,199.9 L421.4,199.8 L423.6,200.8 L424.3,201.0 L425.0,200.4 L426.5,198.8 L427.2,198.2 L427.3,198.2 L429.4,197.7 L431.4,196.7 L431.8,195.2 L433.9,195.8 L434.6,194.1 L435.4,193.7 L437.6,192.8 L438.1,192.6 L440.0,192.7 L440.0,190.1 L442.6,190.4 L442.4,188.2 L444.2,187.8 L445.2,187.7 L446.1,186.7 L447.0,186.5 L448.6,187.0 L451.1,186.2 L452.7,186.8 L453.5,186.2 L454.1,187.1 L455.5,185.9 L455.6,187.1 L456.8,187.3 L457.3,187.7 L459.0,186.9 L459.4,187.3 L460.3,188.5 L461.6,185.8 L461.6,184.7 L463.6,182.0 L464.6,180.8" fill="none" stroke="#4caf40" stroke-width="1.15" stroke-linejoin="round" stroke-linecap="round"/>
<path d="M458.8,189.4 L461.2,192.3" fill="none" stroke="#4caf40" stroke-width="1.2" stroke-linejoin="round" stroke-linecap="round"/>
<path d="M459.8,189.1 L460.1,191.4" fill="none" stroke="#4caf40" stroke-width="1.2" stroke-linejoin="round" stroke-linecap="round"/>
<path d="M460.7,188.2 L459.7,187.4" fill="none" stroke="#4caf40" stroke-width="1.2" stroke-linejoin="round" stroke-linecap="round"/>
<path d="M460.6,189.3 L459.1,192.6" fill="none" stroke="#4caf40" stroke-width="1.2" stroke-linejoin="round" stroke-linecap="round"/>
<path d="M459.4,189.5 L461.8,187.7" fill="none" stroke="#4caf40" stroke-width="1.2" stroke-linejoin="round" stroke-linecap="round"/>
<path d="M459.2,189.8 L459.9,191.0" fill="none" stroke="#4caf40" stroke-width="1.2" stroke-linejoin="round" stroke-linecap="round"/>
<path d="M461.4,189.9 L461.9,185.5" fill="none" stroke="#4caf40" stroke-width="1.2" stroke-linejoin="round" stroke-linecap="round"/>
<path d="M460.7,187.7 L459.0,191.4" fill="none" stroke="#4caf40" stroke-width="1.2" stroke-linejoin="round" stroke-linecap="round"/>
<path d="M458.6,189.0 L458.6,187.9" fill="none" stroke="#4caf40" stroke-width="1.2" stroke-linejoin="round" stroke-linecap="round"/>
<path d="M461.1,188.9 L462.8,192.9" fill="none" stroke="#4caf40" stroke-width="1.2" stroke-linejoin="round" stroke-linecap="round"/>
<path d="M460.0,189.1 L460.6,190.8" fill="none" stroke="#4caf40" stroke-width="1.2" stroke-linejoin="round" stroke-linecap="round"/>
<path d="M460.1,189.8 L457.4,192.0" fill="none" stroke="#4caf40" stroke-width="1.2" stroke-linejoin="round" stroke-linecap="round"/>
<path d="M459.7,189.0 L461.4,190.1" fill="none" stroke="#4caf40" stroke-width="1.2" stroke-linejoin="round" stroke-linecap="round"/>
<path d="M459.2,188.5 L459.9,192.8" fill="none" stroke="#4caf40" stroke-width="1.2" stroke-linejoin="round" stroke-linecap="round"/>
<path d="M460.8,188.6 L456.0,189.6" fill="none" stroke="#4caf40" stroke-width="1.2" stroke-linejoin="round" stroke-linecap="round"/>
<path d="M461.3,189.4 L455.5,190.6" fill="none" stroke="#4caf40" stroke-width="1.2" stroke-linejoin="round" stroke-linecap="round"/>
<path d="M460.4,188.3 L462.4,190.9" fill="none" stroke="#4caf40" stroke-width="1.2" stroke-linejoin="round" stroke-linecap="round"/>
<path d="M461.2,187.9 L464.8,190.1" fill="none" stroke="#4caf40" stroke-width="1.2" stroke-linejoin="round" stroke-linecap="round"/>
<path d="M459.4,187.7 L456.4,189.8" fill="none" stroke="#4caf40" stroke-width="1.2" stroke-linejoin="round" stroke-linecap="round"/>
<path d="M459.8,187.8 L460.0,184.8" fill="none" stroke="#4caf40" stroke-width="1.2" stroke-linejoin="round" stroke-linecap="round"/>
<path d="M461.4,187.7 L458.6,190.1" fill="none" stroke="#4caf40" stroke-width="1.2" stroke-linejoin="round" stroke-linecap="round"/>
<path d="M458.9,187.8 L459.0,193.1" fill="none" stroke="#4caf40" stroke-width="1.2" stroke-linejoin="round" stroke-linecap="round"/>
<path d="M460.1,190.0 L461.9,189.9" fill="none" stroke="#4caf40" stroke-width="1.2" stroke-linejoin="round" stroke-linecap="round"/>
<path d="M460.8,188.8 L461.0,190.8" fill="none" stroke="#4caf40" stroke-width="1.2" stroke-linejoin="round" stroke-linecap="round"/>
<ellipse cx="460" cy="189" rx="2.5" ry="2.5" fill="#4caf40"/>
<path d="M433.0,213.8 L433.7,212.5 L434.5,213.5 L435.3,211.6 L437.4,212.2 L437.5,212.6 L437.4,214.0 L436.0,215.0 L436.6,216.6 L436.3,216.0 L438.5,216.2 L439.0,217.0 L438.7,217.3 L439.0,216.3 L438.2,213.7 L438.4,210.2 L438.9,208.2 L438.7,207.2 L440.6,206.8 L440.9,204.1 L442.0,204.0 L442.8,203.1 L442.3,201.4 L443.8,198.8 L443.6,197.5 L443.9,199.0 L443.9,200.3 L445.7,202.1 L445.6,204.5 L446.4,203.5 L447.3,204.7 L448.0,204.8 L448.2,205.2 L448.0,204.5 L449.0,204.4 L449.4,203.5 L450.5,203.6 L451.3,204.2 L452.9,204.9 L452.4,205.6 L454.2,205.7 L455.0,205.0 L456.4,206.3 L456.6,206.3 L458.2,207.5 L459.1,206.9 L459.0,207.3 L459.3,207.8 L459.9,209.0 L459.4,208.1 L458.1,209.7 L457.4,209.6 L457.0,210.0" fill="none" stroke="#f19c2c" stroke-width="1.15" stroke-linejoin="round" stroke-linecap="round"/>
<path d="M407.3,242.0 L407.5,243.2 L409.0,243.0 L408.8,244.7 L408.9,245.3 L410.7,244.9 L412.3,246.0 L412.2,246.7 L414.8,247.2 L414.6,248.1 L415.8,249.6 L415.0,250.2 L415.8,252.3 L416.8,251.7 L417.6,252.4 L417.4,254.0 L418.1,254.9 L417.0,253.1 L418.3,251.6 L417.4,248.7 L418.1,247.7 L418.0,247.5 L420.3,246.2 L420.0,246.3 L421.9,245.0 L422.5,244.7 L425.0,244.0 L426.4,244.2 L428.4,243.1 L430.2,244.2 L430.8,243.4 L431.4,243.2 L433.4,242.5 L434.8,241.1 L435.8,240.2 L435.0,240.1 L437.4,240.1 L438.4,238.1 L439.2,236.9 L438.7,235.7 L440.7,234.1 L441.7,232.5 L442.4,231.5 L444.1,230.2 L444.7,228.1 L446.0,228.7 L447.5,227.2 L447.5,227.1 L448.2,226.6 L450.4,225.2 L450.7,225.5 L451.9,224.8 L452.7,223.4 L453.8,224.1 L453.2,223.7 L454.7,221.8 L454.9,222.6 L456.9,220.8 L457.4,221.0 L459.2,219.9 L459.7,219.0 L459.5,218.5 L460.8,218.9 L461.5,217.6 L462.2,217.1 L463.0,216.8 L464.4,215.9 L465.2,215.7 L467.0,215.2 L467.1,216.4 L466.0,218.0 L466.1,218.5 L466.2,220.8 L466.8,221.5 L464.6,222.9 L463.5,224.6 L462.5,225.0 L462.5,225.9 L460.1,226.6 L460.5,225.9 L459.2,226.4" fill="none" stroke="#e8261f" stroke-width="1.15" stroke-linejoin="round" stroke-linecap="round"/>
<path d="M444.6,228.5 L447.1,227.5 L449.1,225.3 L451.2,224.3 L454.0,223.3 L456.0,221.4 L456.8,221.3 L458.9,221.7 L460.2,222.1 L461.4,223.9 L461.4,225.0 L462.5,224.4 L465.0,221.6 L465.6,218.4 L467.0,214.4 L467.9,216.7 L467.7,219.2" fill="none" stroke="#e8261f" stroke-width="1.4" stroke-linejoin="round" stroke-linecap="round"/>
<path d="M324.5,224.5 L325.6,225.2 L326.8,224.9 L327.5,225.0 L328.9,225.7 L330.0,225.6 L331.6,226.0 L333.6,226.6 L334.3,226.8 L336.0,227.3 L336.8,227.8 L337.2,228.6 L338.9,229.4 L339.6,229.4 L341.1,230.4 L343.0,230.7 L344.7,230.5 L347.1,229.9 L349.5,230.2 L351.0,230.5 L354.2,230.1 L354.8,230.3 L357.0,229.6 L358.7,228.6 L359.1,228.3 L361.0,229.0 L363.6,228.2 L365.0,228.2 L367.4,228.7 L369.3,228.7 L370.7,229.1 L371.4,229.2 L372.7,230.4 L374.6,230.3 L374.6,229.9 L375.5,230.4 L377.2,230.3 L377.4,230.6 L377.3,229.9 L378.7,229.7 L378.7,229.7 L379.9,229.6 L380.6,231.0 L382.2,231.6 L382.8,231.3 L383.8,232.1 L385.8,232.1 L387.4,233.5 L388.5,233.1 L390.3,234.3 L391.6,235.2 L393.0,235.7 L394.8,237.0 L396.3,237.8 L397.1,238.7 L398.6,240.4 L400.8,241.4 L401.2,242.1 L401.5,241.8 L402.0,242.2 L402.2,242.5 L403.2,243.1 L403.1,243.8 L403.5,244.0 L405.0,243.3 L405.7,243.1 L406.5,242.5 L406.6,242.3 L406.8,241.4 L408.1,240.4 L409.4,240.7 L411.1,240.1 L412.2,239.7 L414.4,239.1 L415.9,240.1 L417.3,240.3 L419.1,240.1 L421.6,241.0 L423.4,240.5 L424.7,241.0 L426.6,240.7 L428.0,240.1 L429.4,239.6 L429.7,239.4 L431.1,238.7 L432.3,239.1 L434.1,238.8 L435.0,238.7 L436.6,238.2 L438.4,237.9 L439.3,238.0 L441.0,239.0 L441.3,238.5 L443.2,238.6 L444.8,237.9 L446.3,237.5 L446.7,238.1 L447.9,237.9 L449.6,238.7 L450.4,239.9 L452.0,240.0" fill="none" stroke="#111111" stroke-width="1.3" stroke-linejoin="round" stroke-linecap="round"/>
<rect x="323.5" y="223.5" width="3" height="2" fill="#111"/>
<path d="M451.6,244.6 L447.5,243.9" fill="none" stroke="#111111" stroke-width="1.2" stroke-linejoin="round" stroke-linecap="round"/>
<path d="M452.9,244.8 L453.5,249.0" fill="none" stroke="#111111" stroke-width="1.2" stroke-linejoin="round" stroke-linecap="round"/>
<path d="M452.6,244.4 L453.1,238.2" fill="none" stroke="#111111" stroke-width="1.2" stroke-linejoin="round" stroke-linecap="round"/>
<path d="M454.0,244.2 L450.4,243.8" fill="none" stroke="#111111" stroke-width="1.2" stroke-linejoin="round" stroke-linecap="round"/>
<path d="M451.5,242.9 L450.5,238.1" fill="none" stroke="#111111" stroke-width="1.2" stroke-linejoin="round" stroke-linecap="round"/>
<path d="M454.0,241.7 L455.1,237.3" fill="none" stroke="#111111" stroke-width="1.2" stroke-linejoin="round" stroke-linecap="round"/>
<path d="M452.2,241.7 L450.8,238.9" fill="none" stroke="#111111" stroke-width="1.2" stroke-linejoin="round" stroke-linecap="round"/>
<path d="M452.5,242.1 L455.0,246.1" fill="none" stroke="#111111" stroke-width="1.2" stroke-linejoin="round" stroke-linecap="round"/>
<path d="M453.4,243.3 L449.7,246.3" fill="none" stroke="#111111" stroke-width="1.2" stroke-linejoin="round" stroke-linecap="round"/>
<path d="M452.0,244.8 L455.4,248.1" fill="none" stroke="#111111" stroke-width="1.2" stroke-linejoin="round" stroke-linecap="round"/>
<path d="M452.8,244.8 L454.9,242.7" fill="none" stroke="#111111" stroke-width="1.2" stroke-linejoin="round" stroke-linecap="round"/>
<path d="M451.8,241.2 L449.4,245.9" fill="none" stroke="#111111" stroke-width="1.2" stroke-linejoin="round" stroke-linecap="round"/>
<path d="M451.7,243.5 L453.2,245.4" fill="none" stroke="#111111" stroke-width="1.2" stroke-linejoin="round" stroke-linecap="round"/>
<path d="M453.2,242.5 L447.2,240.6" fill="none" stroke="#111111" stroke-width="1.2" stroke-linejoin="round" stroke-linecap="round"/>
<path d="M452.7,244.4 L456.7,241.5" fill="none" stroke="#111111" stroke-width="1.2" stroke-linejoin="round" stroke-linecap="round"/>
<path d="M452.9,242.2 L450.9,239.9" fill="none" stroke="#111111" stroke-width="1.2" stroke-linejoin="round" stroke-linecap="round"/>
<path d="M454.2,241.3 L455.3,242.4" fill="none" stroke="#111111" stroke-width="1.2" stroke-linejoin="round" stroke-linecap="round"/>
<path d="M451.4,243.0 L456.6,243.3" fill="none" stroke="#111111" stroke-width="1.2" stroke-linejoin="round" stroke-linecap="round"/>
<path d="M453.1,243.7 L456.4,246.9" fill="none" stroke="#111111" stroke-width="1.2" stroke-linejoin="round" stroke-linecap="round"/>
<path d="M453.1,243.8 L457.8,240.1" fill="none" stroke="#111111" stroke-width="1.2" stroke-linejoin="round" stroke-linecap="round"/>
<path d="M452.2,244.8 L454.5,243.0" fill="none" stroke="#111111" stroke-width="1.2" stroke-linejoin="round" stroke-linecap="round"/>
<path d="M450.7,242.7 L450.9,247.2" fill="none" stroke="#111111" stroke-width="1.2" stroke-linejoin="round" stroke-linecap="round"/>
<path d="M453.7,241.1 L456.0,240.3" fill="none" stroke="#111111" stroke-width="1.2" stroke-linejoin="round" stroke-linecap="round"/>
<path d="M453.7,241.4 L453.2,245.6" fill="none" stroke="#111111" stroke-width="1.2" stroke-linejoin="round" stroke-linecap="round"/>
<path d="M453.9,243.1 L455.2,241.7" fill="none" stroke="#111111" stroke-width="1.2" stroke-linejoin="round" stroke-linecap="round"/>
<path d="M452.2,243.8 L449.9,248.7" fill="none" stroke="#111111" stroke-width="1.2" stroke-linejoin="round" stroke-linecap="round"/>
<ellipse cx="452.5" cy="243" rx="2.2" ry="3" fill="#111111"/>
<path d="M336.5,243.3 L336.1,244.8 L337.8,244.6 L337.6,245.8 L336.9,246.9 L339.0,248.8 L340.7,249.8 L341.3,250.3 L341.8,251.4 L344.3,251.2 L346.8,251.6 L347.5,251.9 L349.4,253.0 L352.4,252.6 L353.9,253.5 L355.9,253.4 L357.8,253.0 L358.4,254.2 L360.2,255.2 L361.6,255.8 L363.1,255.1 L364.4,255.8 L365.1,256.7 L365.9,256.7 L367.8,256.6 L368.0,258.4 L368.9,258.1 L368.8,259.0 L369.9,259.9 L371.1,261.0 L371.3,261.6 L373.0,261.6 L372.4,262.2 L373.7,262.4 L375.3,260.9 L375.4,259.6 L376.3,260.2 L378.1,258.3 L379.1,257.4 L379.8,257.2 L380.2,257.1 L382.1,258.2 L382.2,259.9 L383.5,261.3 L383.9,263.1 L384.5,262.3 L385.9,262.5 L386.1,263.5 L388.3,263.2 L388.3,263.3 L389.5,262.3 L391.4,261.9 L391.7,260.8 L393.1,261.1 L394.4,258.5 L394.5,257.9 L394.7,257.0 L396.5,256.5 L397.5,256.1 L399.6,254.7 L399.8,254.1 L400.7,254.4 L402.4,254.2 L403.7,253.4 L404.1,254.6 L403.6,254.9 L404.0,256.4 L405.5,257.1 L405.9,258.2 L406.8,259.8 L408.1,261.8 L407.4,263.0 L409.4,266.0 L410.5,267.2 L412.2,270.5 L412.3,272.3 L414.5,274.1 L415.2,274.7 L418.2,275.7 L419.1,275.6 L421.6,275.5 L423.4,275.0 L425.7,274.3 L427.7,272.5 L429.8,272.3 L431.3,270.8 L433.3,269.8 L434.5,268.0 L436.7,267.1 L438.3,266.1 L439.6,264.6 L441.5,263.6 L443.9,262.3 L444.5,260.6 L446.0,260.2 L446.0,258.9 L446.9,258.7 L447.6,256.2 L447.5,253.6 L447.0,251.7 L446.8,249.6 L447.9,248.9 L447.5,246.8 L448.8,246.1 L449.1,244.8 L450.4,243.1 L450.7,242.1 L452.0,241.9 L454.0,240.0" fill="none" stroke="#b962b0" stroke-width="1.15" stroke-linejoin="round" stroke-linecap="round"/>
<path d="M449.0,241.0 L450.5,239.3 L452.7,237.5 L453.1,238.2 L454.4,240.5 L456.4,238.0 L456.8,235.6 L458.5,237.8 L460.6,239.6 L459.6,240.9 L457.9,242.7 L460.8,242.0 L461.5,241.6 L463.7,244.6 L463.7,246.6 L463.1,247.4 L460.5,249.4 L462.8,248.9 L465.6,249.9 L465.8,251.7 L466.6,252.2 L467.3,250.8 L468.0,249.0" fill="none" stroke="#b962b0" stroke-width="1.2" stroke-linejoin="round" stroke-linecap="round"/>
<path d="M456.6,240.6 L458.2,241.2" fill="none" stroke="#b962b0" stroke-width="1.1" stroke-linejoin="round" stroke-linecap="round"/>
<path d="M455.3,239.8 L454.7,238.3" fill="none" stroke="#b962b0" stroke-width="1.1" stroke-linejoin="round" stroke-linecap="round"/>
<path d="M455.5,240.3 L454.7,238.4" fill="none" stroke="#b962b0" stroke-width="1.1" stroke-linejoin="round" stroke-linecap="round"/>
<path d="M455.4,241.2 L458.3,238.0" fill="none" stroke="#b962b0" stroke-width="1.1" stroke-linejoin="round" stroke-linecap="round"/>
<path d="M454.9,240.6 L454.1,240.1" fill="none" stroke="#b962b0" stroke-width="1.1" stroke-linejoin="round" stroke-linecap="round"/>
<path d="M456.0,240.1 L454.2,238.7" fill="none" stroke="#b962b0" stroke-width="1.1" stroke-linejoin="round" stroke-linecap="round"/>
<path d="M455.8,240.7 L456.5,243.0" fill="none" stroke="#b962b0" stroke-width="1.1" stroke-linejoin="round" stroke-linecap="round"/>
<path d="M457.2,240.4 L457.2,240.1" fill="none" stroke="#b962b0" stroke-width="1.1" stroke-linejoin="round" stroke-linecap="round"/>
<path d="M456.2,240.7 L457.2,239.5" fill="none" stroke="#b962b0" stroke-width="1.1" stroke-linejoin="round" stroke-linecap="round"/>
<path d="M456.7,240.4 L459.3,241.8" fill="none" stroke="#b962b0" stroke-width="1.1" stroke-linejoin="round" stroke-linecap="round"/>
</g>
<g>
<path d="M50.4,367.1 L51.7,366.8 L52.9,365.8 L52.9,365.8 L54.5,367.5 L55.9,368.0 L56.4,369.2 L57.5,368.7 L59.9,369.3 L61.7,369.1 L61.5,374.9 L61.5,380.3 L62.2,386.3 L63.3,393.0 L63.7,399.8 L64.6,406.7 L64.7,411.9 L65.8,417.6 L66.9,423.3 L67.2,427.0 L66.7,430.9 L67.3,434.0 L67.5,435.3 L68.8,434.3 L70.1,435.2 L70.5,434.1 L72.2,433.2 L72.4,433.3 L72.9,433.0 L73.2,434.0 L74.5,434.2 L74.8,436.3 L75.9,439.0 L76.6,441.2 L77.1,436.6 L76.9,433.8 L78.2,429.3 L78.5,428.4 L78.6,427.4 L79.8,427.6 L79.8,429.9 L80.3,432.1 L80.9,434.3 L81.7,439.1 L82.1,443.7 L83.4,448.0 L83.5,449.9 L84.5,451.0 L85.4,452.1 L85.0,448.4 L86.4,445.1 L86.7,441.3 L87.2,431.3 L88.7,419.9 L88.6,409.0 L89.5,404.4 L91.8,398.9 L91.8,394.0 L92.2,396.6 L93.4,397.9 L94.6,401.1 L95.2,407.2 L95.4,413.3 L95.6,419.1 L96.4,422.3 L97.0,426.8 L97.3,432.1 L98.3,438.4 L99.5,445.6 L101.4,453.6 L102.3,450.6 L102.6,447.1 L103.4,444.1 L104.8,441.3 L104.6,437.8 L106.2,435.9 L106.4,438.9 L106.3,441.2 L107.4,443.9 L108.4,446.9 L110.1,450.8 L110.8,455.5 L110.7,458.5 L111.5,461.0 L111.9,465.3 L113.1,460.1 L114.2,455.0 L115.6,451.6 L117.0,447.8 L117.3,444.5 L119.3,441.7 L119.8,443.5 L120.4,446.0 L121.9,447.3 L123.0,453.9 L123.5,461.2 L124.3,467.9 L127.2,469.2 L131.2,469.3 L135.1,469.6 L143.2,469.8 L152.1,470.6 L160.5,471.6 L173.5,472.0 L186.1,472.6 L199.7,473.0 L217.4,473.3 L234.5,473.4 L251.0,474.0" fill="none" stroke="#62bd50" stroke-width="1.3" stroke-linejoin="round" stroke-linecap="round"/>
<path d="M50.4,368.8 L52.1,370.1 L52.9,369.4 L54.7,370.6 L55.2,369.9 L57.1,369.8 L57.0,369.2 L58.2,370.7 L58.7,372.8 L59.2,374.2 L60.7,380.5 L61.7,387.9 L61.2,395.8 L62.6,403.1 L62.7,411.2 L63.4,418.7 L63.9,424.4 L65.1,430.0 L65.5,435.4 L66.0,442.3 L65.6,448.0 L66.7,453.2 L67.2,459.7 L66.3,464.0 L66.6,469.3 L67.2,470.3 L68.0,470.6 L68.9,471.3 L76.4,471.7 L82.4,470.8 L89.3,470.7 L99.4,471.5 L110.4,472.1 L119.6,470.8 L133.7,471.7 L147.3,472.0 L159.7,471.9 L174.0,472.9 L186.6,473.1 L200.4,474.0 L217.0,473.5 L233.9,475.1 L251.0,475.0" fill="none" stroke="#62bd50" stroke-width="1.3" stroke-linejoin="round" stroke-linecap="round"/>
<path d="M50.4,370.6 L50.9,371.4 L51.7,371.7 L52.3,372.0 L53.2,375.3 L53.3,376.9 L55.4,380.2 L54.7,383.2 L56.2,387.1 L56.6,389.5 L56.9,395.7 L58.1,400.3 L58.6,406.2 L59.2,412.4 L59.5,419.9 L60.3,427.1 L60.2,434.6 L61.0,441.9 L61.6,448.6 L63.0,453.2 L63.4,458.5 L64.4,463.7 L64.6,465.7 L64.4,467.2 L65.5,468.7 L76.4,469.1 L88.2,470.0 L99.8,469.4 L116.3,470.5 L133.1,470.4 L150.5,470.3 L167.0,470.3 L182.7,470.1 L199.9,471.6 L216.6,471.2 L234.4,471.3 L251.0,472.0" fill="none" stroke="#62bd50" stroke-width="1.3" stroke-linejoin="round" stroke-linecap="round"/>
<path d="M50.4,386.5 L50.5,387.1 L51.5,388.4 L52.8,387.9 L52.6,391.1 L52.1,394.1 L53.7,396.9 L53.5,395.1 L53.0,393.1 L53.4,389.8 L54.9,390.5 L54.9,391.9 L55.7,392.9 L55.5,396.7 L55.7,400.1 L56.1,404.2 L56.7,409.4 L57.7,413.3 L58.0,418.9 L58.3,424.1 L59.0,429.7 L60.1,434.4 L61.3,439.6 L60.7,446.4 L62.0,452.3 L62.2,455.6 L62.6,459.0 L63.4,462.8 L64.6,463.5 L66.2,464.4 L67.7,466.2 L67.4,463.3 L68.4,461.5 L69.3,458.9 L70.0,460.9 L71.0,462.2 L73.1,463.4 L73.8,462.9 L74.2,464.0 L73.9,465.1 L75.1,463.7 L75.6,461.4 L76.6,460.4 L76.9,462.8 L78.0,464.4 L79.9,465.6 L80.4,466.2 L80.8,467.6 L81.7,467.3 L81.8,469.4 L83.0,469.2 L83.8,470.3 L86.4,470.2 L87.9,470.1 L90.0,469.5 L104.0,471.0 L117.1,471.4 L129.9,471.5 L152.9,472.4 L177.0,473.7 L200.5,474.6 L216.7,475.8 L234.0,476.4 L251.0,478.0" fill="none" stroke="#62bd50" stroke-width="1.3" stroke-linejoin="round" stroke-linecap="round"/>
<path d="M50.4,418.4 L50.8,414.7 L52.1,410.7 L52.5,405.5 L52.3,403.8 L53.0,401.1 L53.4,398.5 L54.6,400.3 L55.1,402.2 L55.3,403.9 L55.1,407.6 L55.3,411.2 L56.4,414.2 L57.7,418.8 L57.1,423.9 L58.0,426.9 L58.3,431.4 L59.9,436.8 L60.2,441.0 L60.4,445.6 L61.1,449.2 L62.5,451.4 L63.0,451.9 L63.4,453.7 L64.0,453.9 L65.3,453.3 L66.1,453.4 L67.0,453.3 L69.3,454.2 L71.2,454.6 L72.6,455.3 L75.9,455.1 L78.2,455.9 L81.2,455.0 L82.6,455.9 L85.0,455.8 L86.0,456.3 L89.3,456.0 L91.9,456.9 L94.7,456.4 L99.7,456.5 L103.6,455.3 L109.1,453.4 L110.1,454.5 L112.6,455.7 L115.7,455.4 L119.7,456.8 L123.0,458.4 L127.2,458.2 L128.9,442.1 L130.2,426.7 L132.2,410.7 L133.0,416.3 L133.5,420.5 L134.0,426.0 L135.0,434.0 L136.0,441.3 L137.1,450.1 L137.8,441.4 L138.8,433.2 L140.1,425.9 L142.0,420.2 L142.9,414.4 L143.0,407.9 L143.2,412.0 L144.6,416.6 L145.3,420.9 L146.7,422.5 L147.6,423.7 L148.9,426.5 L150.0,430.6 L151.3,437.0 L153.2,442.0 L153.1,433.1 L155.3,423.1 L157.0,414.8 L158.3,419.6 L159.1,425.4 L160.0,431.6 L161.8,437.9 L163.0,445.7 L164.3,452.6 L165.6,451.4 L166.0,449.3 L168.1,448.3 L169.6,453.0 L169.7,457.7 L170.7,462.6 L172.6,462.5 L172.9,464.7 L173.8,465.4 L176.4,458.7 L180.2,451.6 L182.1,445.1 L183.5,447.7 L184.3,449.6 L185.1,452.7 L186.3,450.9 L186.3,448.6 L187.3,446.6 L188.8,450.6 L189.3,455.8 L190.7,459.0 L191.9,458.0 L195.1,455.7 L197.1,454.3 L198.0,457.7 L198.5,459.4 L200.0,461.8 L202.8,461.7 L205.8,460.0 L208.8,459.7 L209.5,462.8 L212.2,464.5 L214.2,468.0 L216.9,465.9 L221.7,466.3 L224.4,465.4 L228.5,463.9 L231.7,463.1 L234.0,461.5 L236.2,461.6 L237.2,463.0 L238.7,463.7 L239.1,463.2 L240.8,463.1 L242.5,464.2 L244.2,463.0 L247.5,461.3 L249.9,461.0" fill="none" stroke="#62bd50" stroke-width="1.3" stroke-linejoin="round" stroke-linecap="round"/>
<path d="M123.8,468.5 L125.6,468.1 L126.3,466.2 L127.7,466.4 L129.2,465.2 L130.0,462.9 L131.5,462.9 L132.5,453.0 L134.7,444.4 L135.9,435.8 L137.4,429.7 L140.4,422.4 L141.9,414.9 L143.1,417.8 L145.1,421.1 L146.4,423.4 L148.0,428.0 L149.3,433.5 L150.9,439.4 L152.5,443.1 L154.3,448.2 L156.6,452.0 L158.0,451.8 L160.5,450.2 L161.7,449.9 L162.5,452.5 L163.6,456.3 L165.9,459.2 L166.7,458.7 L168.1,456.1 L169.9,455.1 L170.9,458.3 L173.0,463.5 L175.1,467.7 L177.7,468.0 L181.2,468.4 L185.0,469.6 L190.6,470.0 L195.0,470.4 L199.5,470.6 L217.2,471.2 L233.9,472.1 L251.0,472.0" fill="none" stroke="#62bd50" stroke-width="1.3" stroke-linejoin="round" stroke-linecap="round"/>
<path d="M141.3,368.4 L154.8,368.2" fill="none" stroke="#5cc04a" stroke-width="0.7" stroke-linejoin="round" stroke-linecap="round" stroke-opacity="0.45"/>
<path d="M141.3,368.4 L146.4,365.5" fill="none" stroke="#5cc04a" stroke-width="0.7" stroke-linejoin="round" stroke-linecap="round" stroke-opacity="0.45"/>
<path d="M141.3,368.4 L143.1,367.0" fill="none" stroke="#5cc04a" stroke-width="0.7" stroke-linejoin="round" stroke-linecap="round" stroke-opacity="0.45"/>
<path d="M141.3,368.4 L151.6,370.8" fill="none" stroke="#5cc04a" stroke-width="0.7" stroke-linejoin="round" stroke-linecap="round" stroke-opacity="0.45"/>
<path d="M141.3,368.4 L140.0,367.7" fill="none" stroke="#5cc04a" stroke-width="0.7" stroke-linejoin="round" stroke-linecap="round" stroke-opacity="0.45"/>
<path d="M141.3,368.4 L138.8,366.2" fill="none" stroke="#5cc04a" stroke-width="0.7" stroke-linejoin="round" stroke-linecap="round" stroke-opacity="0.45"/>
<path d="M141.3,368.4 L136.8,365.0" fill="none" stroke="#5cc04a" stroke-width="0.7" stroke-linejoin="round" stroke-linecap="round" stroke-opacity="0.45"/>
<path d="M141.3,368.4 L139.7,369.3" fill="none" stroke="#5cc04a" stroke-width="0.7" stroke-linejoin="round" stroke-linecap="round" stroke-opacity="0.45"/>
<path d="M141.3,368.4 L150.4,365.5" fill="none" stroke="#5cc04a" stroke-width="0.7" stroke-linejoin="round" stroke-linecap="round" stroke-opacity="0.45"/>
<path d="M141.3,368.4 L143.8,369.5" fill="none" stroke="#5cc04a" stroke-width="0.7" stroke-linejoin="round" stroke-linecap="round" stroke-opacity="0.45"/>
<path d="M141.3,368.4 L148.9,367.7" fill="none" stroke="#5cc04a" stroke-width="0.7" stroke-linejoin="round" stroke-linecap="round" stroke-opacity="0.45"/>
<path d="M141.3,368.4 L147.5,367.9" fill="none" stroke="#5cc04a" stroke-width="0.7" stroke-linejoin="round" stroke-linecap="round" stroke-opacity="0.45"/>
<path d="M141.3,368.4 L144.3,372.2" fill="none" stroke="#5cc04a" stroke-width="0.7" stroke-linejoin="round" stroke-linecap="round" stroke-opacity="0.45"/>
<path d="M141.3,368.4 L141.0,366.3" fill="none" stroke="#5cc04a" stroke-width="0.7" stroke-linejoin="round" stroke-linecap="round" stroke-opacity="0.45"/>
<path d="M141.3,368.4 L144.2,363.3" fill="none" stroke="#5cc04a" stroke-width="0.7" stroke-linejoin="round" stroke-linecap="round" stroke-opacity="0.45"/>
<path d="M141.3,368.4 L143.8,367.0" fill="none" stroke="#5cc04a" stroke-width="0.7" stroke-linejoin="round" stroke-linecap="round" stroke-opacity="0.45"/>
<path d="M141.3,368.4 L143.8,368.7" fill="none" stroke="#5cc04a" stroke-width="0.7" stroke-linejoin="round" stroke-linecap="round" stroke-opacity="0.45"/>
<path d="M141.3,368.4 L142.1,362.6" fill="none" stroke="#5cc04a" stroke-width="0.7" stroke-linejoin="round" stroke-linecap="round" stroke-opacity="0.45"/>
<path d="M141.3,368.4 L142.5,367.4" fill="none" stroke="#5cc04a" stroke-width="0.7" stroke-linejoin="round" stroke-linecap="round" stroke-opacity="0.45"/>
<path d="M141.3,368.4 L135.2,367.4" fill="none" stroke="#5cc04a" stroke-width="0.7" stroke-linejoin="round" stroke-linecap="round" stroke-opacity="0.45"/>
<path d="M141.3,368.4 L137.0,364.1" fill="none" stroke="#5cc04a" stroke-width="0.7" stroke-linejoin="round" stroke-linecap="round" stroke-opacity="0.45"/>
<path d="M141.3,368.4 L148.6,373.0" fill="none" stroke="#5cc04a" stroke-width="0.7" stroke-linejoin="round" stroke-linecap="round" stroke-opacity="0.45"/>
<path d="M141.3,368.4 L142.1,367.1" fill="none" stroke="#5cc04a" stroke-width="0.7" stroke-linejoin="round" stroke-linecap="round" stroke-opacity="0.45"/>
<path d="M141.3,368.4 L143.6,365.7" fill="none" stroke="#5cc04a" stroke-width="0.7" stroke-linejoin="round" stroke-linecap="round" stroke-opacity="0.45"/>
<path d="M141.3,368.4 L144.5,362.8" fill="none" stroke="#5cc04a" stroke-width="0.7" stroke-linejoin="round" stroke-linecap="round" stroke-opacity="0.45"/>
<path d="M141.3,368.4 L143.9,365.2" fill="none" stroke="#5cc04a" stroke-width="0.7" stroke-linejoin="round" stroke-linecap="round" stroke-opacity="0.45"/>
<path d="M141.3,368.4 L145.8,361.3" fill="none" stroke="#5cc04a" stroke-width="0.7" stroke-linejoin="round" stroke-linecap="round" stroke-opacity="0.45"/>
<path d="M141.3,368.4 L133.5,370.4" fill="none" stroke="#5cc04a" stroke-width="0.7" stroke-linejoin="round" stroke-linecap="round" stroke-opacity="0.45"/>
<path d="M141.3,368.4 L149.5,366.8" fill="none" stroke="#5cc04a" stroke-width="0.7" stroke-linejoin="round" stroke-linecap="round" stroke-opacity="0.45"/>
<path d="M141.3,368.4 L144.2,368.3" fill="none" stroke="#5cc04a" stroke-width="0.7" stroke-linejoin="round" stroke-linecap="round" stroke-opacity="0.45"/>
<path d="M141.3,368.4 L141.7,362.5" fill="none" stroke="#5cc04a" stroke-width="0.7" stroke-linejoin="round" stroke-linecap="round" stroke-opacity="0.45"/>
<path d="M141.3,368.4 L142.4,371.0" fill="none" stroke="#5cc04a" stroke-width="0.7" stroke-linejoin="round" stroke-linecap="round" stroke-opacity="0.45"/>
<path d="M141.3,368.4 L140.1,362.5" fill="none" stroke="#5cc04a" stroke-width="0.7" stroke-linejoin="round" stroke-linecap="round" stroke-opacity="0.45"/>
<path d="M141.3,368.4 L141.5,362.1" fill="none" stroke="#5cc04a" stroke-width="0.7" stroke-linejoin="round" stroke-linecap="round" stroke-opacity="0.45"/>
<path d="M141.3,368.4 L135.5,364.5" fill="none" stroke="#5cc04a" stroke-width="0.7" stroke-linejoin="round" stroke-linecap="round" stroke-opacity="0.45"/>
<path d="M141.3,368.4 L142.3,366.9" fill="none" stroke="#5cc04a" stroke-width="0.7" stroke-linejoin="round" stroke-linecap="round" stroke-opacity="0.45"/>
<path d="M141.3,368.4 L142.9,367.4" fill="none" stroke="#5cc04a" stroke-width="0.7" stroke-linejoin="round" stroke-linecap="round" stroke-opacity="0.45"/>
<path d="M141.3,368.4 L141.8,366.4" fill="none" stroke="#5cc04a" stroke-width="0.7" stroke-linejoin="round" stroke-linecap="round" stroke-opacity="0.45"/>
<path d="M141.3,368.4 L142.3,365.4" fill="none" stroke="#5cc04a" stroke-width="0.7" stroke-linejoin="round" stroke-linecap="round" stroke-opacity="0.45"/>
<path d="M141.3,368.4 L143.0,371.8" fill="none" stroke="#5cc04a" stroke-width="0.7" stroke-linejoin="round" stroke-linecap="round" stroke-opacity="0.45"/>
<path d="M141.3,368.4 L145.8,374.8" fill="none" stroke="#5cc04a" stroke-width="0.7" stroke-linejoin="round" stroke-linecap="round" stroke-opacity="0.45"/>
<path d="M141.3,368.4 L140.4,369.3" fill="none" stroke="#5cc04a" stroke-width="0.7" stroke-linejoin="round" stroke-linecap="round" stroke-opacity="0.45"/>
<path d="M141.3,368.4 L145.8,367.3" fill="none" stroke="#5cc04a" stroke-width="0.7" stroke-linejoin="round" stroke-linecap="round" stroke-opacity="0.45"/>
<path d="M141.3,368.4 L152.7,368.3" fill="none" stroke="#5cc04a" stroke-width="0.7" stroke-linejoin="round" stroke-linecap="round" stroke-opacity="0.45"/>
<path d="M141.3,368.4 L145.2,369.7" fill="none" stroke="#5cc04a" stroke-width="0.7" stroke-linejoin="round" stroke-linecap="round" stroke-opacity="0.45"/>
<path d="M141.3,368.4 L143.5,371.6" fill="none" stroke="#5cc04a" stroke-width="0.7" stroke-linejoin="round" stroke-linecap="round" stroke-opacity="0.45"/>
<path d="M141.3,368.4 L136.3,366.5" fill="none" stroke="#5cc04a" stroke-width="0.7" stroke-linejoin="round" stroke-linecap="round" stroke-opacity="0.45"/>
<path d="M141.3,368.4 L151.9,364.3" fill="none" stroke="#5cc04a" stroke-width="0.7" stroke-linejoin="round" stroke-linecap="round" stroke-opacity="0.45"/>
<path d="M141.3,368.4 L144.9,367.6" fill="none" stroke="#5cc04a" stroke-width="0.7" stroke-linejoin="round" stroke-linecap="round" stroke-opacity="0.45"/>
<path d="M141.3,368.4 L154.1,372.0" fill="none" stroke="#5cc04a" stroke-width="0.7" stroke-linejoin="round" stroke-linecap="round" stroke-opacity="0.45"/>
<path d="M141.3,368.4 L143.0,364.1" fill="none" stroke="#5cc04a" stroke-width="0.7" stroke-linejoin="round" stroke-linecap="round" stroke-opacity="0.45"/>
<path d="M141.3,368.4 L141.1,370.8" fill="none" stroke="#5cc04a" stroke-width="0.7" stroke-linejoin="round" stroke-linecap="round" stroke-opacity="0.45"/>
<path d="M141.3,368.4 L142.6,365.6" fill="none" stroke="#5cc04a" stroke-width="0.7" stroke-linejoin="round" stroke-linecap="round" stroke-opacity="0.45"/>
<path d="M141.3,368.4 L142.5,367.7" fill="none" stroke="#5cc04a" stroke-width="0.7" stroke-linejoin="round" stroke-linecap="round" stroke-opacity="0.45"/>
<path d="M141.3,368.4 L145.9,369.1" fill="none" stroke="#5cc04a" stroke-width="0.7" stroke-linejoin="round" stroke-linecap="round" stroke-opacity="0.45"/>
<path d="M141.3,368.4 L151.5,370.5" fill="none" stroke="#5cc04a" stroke-width="0.7" stroke-linejoin="round" stroke-linecap="round" stroke-opacity="0.45"/>
<path d="M141.3,368.4 L145.4,370.8" fill="none" stroke="#5cc04a" stroke-width="0.7" stroke-linejoin="round" stroke-linecap="round" stroke-opacity="0.45"/>
<path d="M141.3,368.4 L143.6,369.9" fill="none" stroke="#5cc04a" stroke-width="0.7" stroke-linejoin="round" stroke-linecap="round" stroke-opacity="0.45"/>
<path d="M141.3,368.4 L152.0,365.5" fill="none" stroke="#5cc04a" stroke-width="0.7" stroke-linejoin="round" stroke-linecap="round" stroke-opacity="0.45"/>
<path d="M141.3,368.4 L147.0,365.7" fill="none" stroke="#5cc04a" stroke-width="0.7" stroke-linejoin="round" stroke-linecap="round" stroke-opacity="0.45"/>
<path d="M141.3,368.4 L141.8,361.2" fill="none" stroke="#5cc04a" stroke-width="0.7" stroke-linejoin="round" stroke-linecap="round" stroke-opacity="0.45"/>
<path d="M141.3,368.4 L152.0,370.7" fill="none" stroke="#5cc04a" stroke-width="0.7" stroke-linejoin="round" stroke-linecap="round" stroke-opacity="0.45"/>
<path d="M141.3,368.4 L143.1,365.5" fill="none" stroke="#5cc04a" stroke-width="0.7" stroke-linejoin="round" stroke-linecap="round" stroke-opacity="0.45"/>
<path d="M141.3,368.4 L149.6,365.8" fill="none" stroke="#5cc04a" stroke-width="0.7" stroke-linejoin="round" stroke-linecap="round" stroke-opacity="0.45"/>
<path d="M141.3,368.4 L145.5,366.2" fill="none" stroke="#5cc04a" stroke-width="0.7" stroke-linejoin="round" stroke-linecap="round" stroke-opacity="0.45"/>
<path d="M141.3,368.4 L144.5,366.4" fill="none" stroke="#5cc04a" stroke-width="0.7" stroke-linejoin="round" stroke-linecap="round" stroke-opacity="0.45"/>
<path d="M141.3,368.4 L136.4,368.5" fill="none" stroke="#5cc04a" stroke-width="0.7" stroke-linejoin="round" stroke-linecap="round" stroke-opacity="0.45"/>
<path d="M141.3,368.4 L151.9,369.0" fill="none" stroke="#5cc04a" stroke-width="0.7" stroke-linejoin="round" stroke-linecap="round" stroke-opacity="0.45"/>
<path d="M141.3,368.4 L153.7,367.2" fill="none" stroke="#5cc04a" stroke-width="0.7" stroke-linejoin="round" stroke-linecap="round" stroke-opacity="0.45"/>
<path d="M141.3,368.4 L142.8,363.7" fill="none" stroke="#5cc04a" stroke-width="0.7" stroke-linejoin="round" stroke-linecap="round" stroke-opacity="0.45"/>
<path d="M141.3,368.4 L141.9,365.8" fill="none" stroke="#5cc04a" stroke-width="0.7" stroke-linejoin="round" stroke-linecap="round" stroke-opacity="0.45"/>
<path d="M141.3,368.4 L141.9,364.0" fill="none" stroke="#5cc04a" stroke-width="0.7" stroke-linejoin="round" stroke-linecap="round" stroke-opacity="0.45"/>
<path d="M141.3,368.4 L138.5,363.6" fill="none" stroke="#5cc04a" stroke-width="0.7" stroke-linejoin="round" stroke-linecap="round" stroke-opacity="0.45"/>
<path d="M141.3,368.4 L143.5,368.2" fill="none" stroke="#5cc04a" stroke-width="0.7" stroke-linejoin="round" stroke-linecap="round" stroke-opacity="0.45"/>
<path d="M141.3,368.4 L147.5,365.9" fill="none" stroke="#5cc04a" stroke-width="0.7" stroke-linejoin="round" stroke-linecap="round" stroke-opacity="0.45"/>
<path d="M141.3,368.4 L144.7,366.5" fill="none" stroke="#5cc04a" stroke-width="0.7" stroke-linejoin="round" stroke-linecap="round" stroke-opacity="0.45"/>
<path d="M141.3,368.4 L141.9,366.1" fill="none" stroke="#5cc04a" stroke-width="0.7" stroke-linejoin="round" stroke-linecap="round" stroke-opacity="0.45"/>
<path d="M141.3,368.4 L150.0,372.0" fill="none" stroke="#5cc04a" stroke-width="0.7" stroke-linejoin="round" stroke-linecap="round" stroke-opacity="0.45"/>
<path d="M141.3,368.4 L144.9,370.1" fill="none" stroke="#5cc04a" stroke-width="0.7" stroke-linejoin="round" stroke-linecap="round" stroke-opacity="0.45"/>
<path d="M141.3,368.4 L148.5,363.1" fill="none" stroke="#5cc04a" stroke-width="0.7" stroke-linejoin="round" stroke-linecap="round" stroke-opacity="0.45"/>
<path d="M141.3,368.4 L143.0,367.6" fill="none" stroke="#5cc04a" stroke-width="0.7" stroke-linejoin="round" stroke-linecap="round" stroke-opacity="0.45"/>
<path d="M141.3,368.4 L145.1,367.8" fill="none" stroke="#5cc04a" stroke-width="0.7" stroke-linejoin="round" stroke-linecap="round" stroke-opacity="0.45"/>
<path d="M141.3,368.4 L135.0,366.8" fill="none" stroke="#5cc04a" stroke-width="0.7" stroke-linejoin="round" stroke-linecap="round" stroke-opacity="0.45"/>
<path d="M141.3,368.4 L145.1,365.5" fill="none" stroke="#5cc04a" stroke-width="0.7" stroke-linejoin="round" stroke-linecap="round" stroke-opacity="0.45"/>
<path d="M141.3,368.4 L138.7,366.5" fill="none" stroke="#5cc04a" stroke-width="0.7" stroke-linejoin="round" stroke-linecap="round" stroke-opacity="0.45"/>
<path d="M141.3,368.4 L140.1,370.2" fill="none" stroke="#5cc04a" stroke-width="0.7" stroke-linejoin="round" stroke-linecap="round" stroke-opacity="0.45"/>
<path d="M141.3,368.4 L143.8,367.4" fill="none" stroke="#5cc04a" stroke-width="0.7" stroke-linejoin="round" stroke-linecap="round" stroke-opacity="0.45"/>
<path d="M141.3,368.4 L145.0,362.3" fill="none" stroke="#5cc04a" stroke-width="0.7" stroke-linejoin="round" stroke-linecap="round" stroke-opacity="0.45"/>
<path d="M141.3,368.4 L135.1,364.0" fill="none" stroke="#5cc04a" stroke-width="0.7" stroke-linejoin="round" stroke-linecap="round" stroke-opacity="0.45"/>
<path d="M141.3,368.4 L140.1,364.8" fill="none" stroke="#5cc04a" stroke-width="0.7" stroke-linejoin="round" stroke-linecap="round" stroke-opacity="0.45"/>
<path d="M141.3,368.4 L146.9,369.4" fill="none" stroke="#5cc04a" stroke-width="0.7" stroke-linejoin="round" stroke-linecap="round" stroke-opacity="0.45"/>
<path d="M141.3,368.4 L139.2,366.1" fill="none" stroke="#5cc04a" stroke-width="0.7" stroke-linejoin="round" stroke-linecap="round" stroke-opacity="0.45"/>
<path d="M141.3,368.4 L134.3,373.1" fill="none" stroke="#5cc04a" stroke-width="0.7" stroke-linejoin="round" stroke-linecap="round" stroke-opacity="0.45"/>
<path d="M141.3,368.4 L142.7,363.7" fill="none" stroke="#5cc04a" stroke-width="0.7" stroke-linejoin="round" stroke-linecap="round" stroke-opacity="0.45"/>
<path d="M141.3,368.4 L139.3,367.2" fill="none" stroke="#5cc04a" stroke-width="0.7" stroke-linejoin="round" stroke-linecap="round" stroke-opacity="0.45"/>
<path d="M141.3,368.4 L146.9,366.6" fill="none" stroke="#5cc04a" stroke-width="0.7" stroke-linejoin="round" stroke-linecap="round" stroke-opacity="0.45"/>
<path d="M141.3,368.4 L154.8,369.9" fill="none" stroke="#5cc04a" stroke-width="0.7" stroke-linejoin="round" stroke-linecap="round" stroke-opacity="0.45"/>
<path d="M141.3,368.4 L145.0,371.9" fill="none" stroke="#5cc04a" stroke-width="0.7" stroke-linejoin="round" stroke-linecap="round" stroke-opacity="0.45"/>
<path d="M141.3,368.4 L143.0,367.0" fill="none" stroke="#5cc04a" stroke-width="0.7" stroke-linejoin="round" stroke-linecap="round" stroke-opacity="0.45"/>
<path d="M141.3,368.4 L145.3,364.7" fill="none" stroke="#5cc04a" stroke-width="0.7" stroke-linejoin="round" stroke-linecap="round" stroke-opacity="0.45"/>
<path d="M141.3,368.4 L140.8,364.9" fill="none" stroke="#5cc04a" stroke-width="0.7" stroke-linejoin="round" stroke-linecap="round" stroke-opacity="0.45"/>
<path d="M141.3,368.4 L145.2,365.8" fill="none" stroke="#5cc04a" stroke-width="0.7" stroke-linejoin="round" stroke-linecap="round" stroke-opacity="0.45"/>
<path d="M141.3,368.4 L136.1,367.6" fill="none" stroke="#5cc04a" stroke-width="0.7" stroke-linejoin="round" stroke-linecap="round" stroke-opacity="0.45"/>
<path d="M141.3,368.4 L149.0,370.1" fill="none" stroke="#5cc04a" stroke-width="0.7" stroke-linejoin="round" stroke-linecap="round" stroke-opacity="0.45"/>
<path d="M141.3,368.4 L149.4,365.5" fill="none" stroke="#5cc04a" stroke-width="0.7" stroke-linejoin="round" stroke-linecap="round" stroke-opacity="0.45"/>
<path d="M141.3,368.4 L139.2,370.5" fill="none" stroke="#5cc04a" stroke-width="0.7" stroke-linejoin="round" stroke-linecap="round" stroke-opacity="0.45"/>
<path d="M141.3,368.4 L145.8,366.1" fill="none" stroke="#5cc04a" stroke-width="0.7" stroke-linejoin="round" stroke-linecap="round" stroke-opacity="0.45"/>
<path d="M141.3,368.4 L152.9,364.4" fill="none" stroke="#5cc04a" stroke-width="0.7" stroke-linejoin="round" stroke-linecap="round" stroke-opacity="0.45"/>
<path d="M141.3,368.4 L148.2,368.4" fill="none" stroke="#5cc04a" stroke-width="0.7" stroke-linejoin="round" stroke-linecap="round" stroke-opacity="0.45"/>
<path d="M141.3,368.4 L141.6,367.0" fill="none" stroke="#5cc04a" stroke-width="0.7" stroke-linejoin="round" stroke-linecap="round" stroke-opacity="0.45"/>
<ellipse cx="141.3" cy="368.4" rx="3.2" ry="2.4" fill="#5cc04a" fill-opacity="0.75" filter="url(#bl)"/>
<circle cx="141.3" cy="368.4" r="1.8" fill="#1f6a1f"/>
<path d="M141.3,368.4 L163.0,376.0" fill="none" stroke="#5cbf4c" stroke-width="0.8" stroke-linejoin="round" stroke-linecap="round" stroke-opacity="0.6"/>
<path d="M141.3,368.4 L126.0,361.0" fill="none" stroke="#5cbf4c" stroke-width="0.8" stroke-linejoin="round" stroke-linecap="round" stroke-opacity="0.6"/>
<path d="M141.3,368.4 L136.0,352.0" fill="none" stroke="#5cbf4c" stroke-width="0.8" stroke-linejoin="round" stroke-linecap="round" stroke-opacity="0.6"/>
<path d="M222.7,368.4 L227.0,372.3" fill="none" stroke="#5cc04a" stroke-width="0.7" stroke-linejoin="round" stroke-linecap="round" stroke-opacity="0.45"/>
<path d="M222.7,368.4 L221.8,368.8" fill="none" stroke="#5cc04a" stroke-width="0.7" stroke-linejoin="round" stroke-linecap="round" stroke-opacity="0.45"/>
<path d="M222.7,368.4 L224.2,368.0" fill="none" stroke="#5cc04a" stroke-width="0.7" stroke-linejoin="round" stroke-linecap="round" stroke-opacity="0.45"/>
<path d="M222.7,368.4 L225.3,367.9" fill="none" stroke="#5cc04a" stroke-width="0.7" stroke-linejoin="round" stroke-linecap="round" stroke-opacity="0.45"/>
<path d="M222.7,368.4 L225.2,372.4" fill="none" stroke="#5cc04a" stroke-width="0.7" stroke-linejoin="round" stroke-linecap="round" stroke-opacity="0.45"/>
<path d="M222.7,368.4 L219.6,371.9" fill="none" stroke="#5cc04a" stroke-width="0.7" stroke-linejoin="round" stroke-linecap="round" stroke-opacity="0.45"/>
<path d="M222.7,368.4 L230.6,367.1" fill="none" stroke="#5cc04a" stroke-width="0.7" stroke-linejoin="round" stroke-linecap="round" stroke-opacity="0.45"/>
<path d="M222.7,368.4 L231.6,368.6" fill="none" stroke="#5cc04a" stroke-width="0.7" stroke-linejoin="round" stroke-linecap="round" stroke-opacity="0.45"/>
<path d="M222.7,368.4 L226.0,370.2" fill="none" stroke="#5cc04a" stroke-width="0.7" stroke-linejoin="round" stroke-linecap="round" stroke-opacity="0.45"/>
<path d="M222.7,368.4 L223.1,365.6" fill="none" stroke="#5cc04a" stroke-width="0.7" stroke-linejoin="round" stroke-linecap="round" stroke-opacity="0.45"/>
<path d="M222.7,368.4 L227.3,371.8" fill="none" stroke="#5cc04a" stroke-width="0.7" stroke-linejoin="round" stroke-linecap="round" stroke-opacity="0.45"/>
<path d="M222.7,368.4 L232.6,368.6" fill="none" stroke="#5cc04a" stroke-width="0.7" stroke-linejoin="round" stroke-linecap="round" stroke-opacity="0.45"/>
<path d="M222.7,368.4 L225.8,371.2" fill="none" stroke="#5cc04a" stroke-width="0.7" stroke-linejoin="round" stroke-linecap="round" stroke-opacity="0.45"/>
<path d="M222.7,368.4 L222.4,370.7" fill="none" stroke="#5cc04a" stroke-width="0.7" stroke-linejoin="round" stroke-linecap="round" stroke-opacity="0.45"/>
<path d="M222.7,368.4 L220.8,374.3" fill="none" stroke="#5cc04a" stroke-width="0.7" stroke-linejoin="round" stroke-linecap="round" stroke-opacity="0.45"/>
<path d="M222.7,368.4 L228.8,365.4" fill="none" stroke="#5cc04a" stroke-width="0.7" stroke-linejoin="round" stroke-linecap="round" stroke-opacity="0.45"/>
<path d="M222.7,368.4 L226.5,371.8" fill="none" stroke="#5cc04a" stroke-width="0.7" stroke-linejoin="round" stroke-linecap="round" stroke-opacity="0.45"/>
<path d="M222.7,368.4 L219.2,368.7" fill="none" stroke="#5cc04a" stroke-width="0.7" stroke-linejoin="round" stroke-linecap="round" stroke-opacity="0.45"/>
<path d="M222.7,368.4 L223.0,367.8" fill="none" stroke="#5cc04a" stroke-width="0.7" stroke-linejoin="round" stroke-linecap="round" stroke-opacity="0.45"/>
<path d="M222.7,368.4 L222.8,375.6" fill="none" stroke="#5cc04a" stroke-width="0.7" stroke-linejoin="round" stroke-linecap="round" stroke-opacity="0.45"/>
<path d="M222.7,368.4 L217.7,373.4" fill="none" stroke="#5cc04a" stroke-width="0.7" stroke-linejoin="round" stroke-linecap="round" stroke-opacity="0.45"/>
<path d="M222.7,368.4 L229.5,375.0" fill="none" stroke="#5cc04a" stroke-width="0.7" stroke-linejoin="round" stroke-linecap="round" stroke-opacity="0.45"/>
<path d="M222.7,368.4 L222.3,366.6" fill="none" stroke="#5cc04a" stroke-width="0.7" stroke-linejoin="round" stroke-linecap="round" stroke-opacity="0.45"/>
<path d="M222.7,368.4 L225.8,369.1" fill="none" stroke="#5cc04a" stroke-width="0.7" stroke-linejoin="round" stroke-linecap="round" stroke-opacity="0.45"/>
<path d="M222.7,368.4 L228.5,371.9" fill="none" stroke="#5cc04a" stroke-width="0.7" stroke-linejoin="round" stroke-linecap="round" stroke-opacity="0.45"/>
<path d="M222.7,368.4 L229.1,373.3" fill="none" stroke="#5cc04a" stroke-width="0.7" stroke-linejoin="round" stroke-linecap="round" stroke-opacity="0.45"/>
<path d="M222.7,368.4 L227.3,374.2" fill="none" stroke="#5cc04a" stroke-width="0.7" stroke-linejoin="round" stroke-linecap="round" stroke-opacity="0.45"/>
<path d="M222.7,368.4 L224.9,373.2" fill="none" stroke="#5cc04a" stroke-width="0.7" stroke-linejoin="round" stroke-linecap="round" stroke-opacity="0.45"/>
<path d="M222.7,368.4 L223.1,362.4" fill="none" stroke="#5cc04a" stroke-width="0.7" stroke-linejoin="round" stroke-linecap="round" stroke-opacity="0.45"/>
<path d="M222.7,368.4 L224.1,368.5" fill="none" stroke="#5cc04a" stroke-width="0.7" stroke-linejoin="round" stroke-linecap="round" stroke-opacity="0.45"/>
<path d="M222.7,368.4 L216.1,365.7" fill="none" stroke="#5cc04a" stroke-width="0.7" stroke-linejoin="round" stroke-linecap="round" stroke-opacity="0.45"/>
<path d="M222.7,368.4 L227.8,365.9" fill="none" stroke="#5cc04a" stroke-width="0.7" stroke-linejoin="round" stroke-linecap="round" stroke-opacity="0.45"/>
<path d="M222.7,368.4 L224.7,366.8" fill="none" stroke="#5cc04a" stroke-width="0.7" stroke-linejoin="round" stroke-linecap="round" stroke-opacity="0.45"/>
<path d="M222.7,368.4 L222.6,370.2" fill="none" stroke="#5cc04a" stroke-width="0.7" stroke-linejoin="round" stroke-linecap="round" stroke-opacity="0.45"/>
<path d="M222.7,368.4 L228.2,371.6" fill="none" stroke="#5cc04a" stroke-width="0.7" stroke-linejoin="round" stroke-linecap="round" stroke-opacity="0.45"/>
<path d="M222.7,368.4 L215.6,372.2" fill="none" stroke="#5cc04a" stroke-width="0.7" stroke-linejoin="round" stroke-linecap="round" stroke-opacity="0.45"/>
<path d="M222.7,368.4 L235.2,367.5" fill="none" stroke="#5cc04a" stroke-width="0.7" stroke-linejoin="round" stroke-linecap="round" stroke-opacity="0.45"/>
<path d="M222.7,368.4 L216.3,367.4" fill="none" stroke="#5cc04a" stroke-width="0.7" stroke-linejoin="round" stroke-linecap="round" stroke-opacity="0.45"/>
<path d="M222.7,368.4 L226.2,369.9" fill="none" stroke="#5cc04a" stroke-width="0.7" stroke-linejoin="round" stroke-linecap="round" stroke-opacity="0.45"/>
<path d="M222.7,368.4 L217.8,371.9" fill="none" stroke="#5cc04a" stroke-width="0.7" stroke-linejoin="round" stroke-linecap="round" stroke-opacity="0.45"/>
<path d="M222.7,368.4 L228.8,363.7" fill="none" stroke="#5cc04a" stroke-width="0.7" stroke-linejoin="round" stroke-linecap="round" stroke-opacity="0.45"/>
<path d="M222.7,368.4 L230.8,373.4" fill="none" stroke="#5cc04a" stroke-width="0.7" stroke-linejoin="round" stroke-linecap="round" stroke-opacity="0.45"/>
<path d="M222.7,368.4 L224.9,370.4" fill="none" stroke="#5cc04a" stroke-width="0.7" stroke-linejoin="round" stroke-linecap="round" stroke-opacity="0.45"/>
<path d="M222.7,368.4 L225.6,367.0" fill="none" stroke="#5cc04a" stroke-width="0.7" stroke-linejoin="round" stroke-linecap="round" stroke-opacity="0.45"/>
<path d="M222.7,368.4 L223.8,363.7" fill="none" stroke="#5cc04a" stroke-width="0.7" stroke-linejoin="round" stroke-linecap="round" stroke-opacity="0.45"/>
<path d="M222.7,368.4 L217.8,372.9" fill="none" stroke="#5cc04a" stroke-width="0.7" stroke-linejoin="round" stroke-linecap="round" stroke-opacity="0.45"/>
<path d="M222.7,368.4 L224.0,371.6" fill="none" stroke="#5cc04a" stroke-width="0.7" stroke-linejoin="round" stroke-linecap="round" stroke-opacity="0.45"/>
<path d="M222.7,368.4 L223.1,371.0" fill="none" stroke="#5cc04a" stroke-width="0.7" stroke-linejoin="round" stroke-linecap="round" stroke-opacity="0.45"/>
<path d="M222.7,368.4 L233.7,370.9" fill="none" stroke="#5cc04a" stroke-width="0.7" stroke-linejoin="round" stroke-linecap="round" stroke-opacity="0.45"/>
<path d="M222.7,368.4 L220.1,367.8" fill="none" stroke="#5cc04a" stroke-width="0.7" stroke-linejoin="round" stroke-linecap="round" stroke-opacity="0.45"/>
<path d="M222.7,368.4 L224.5,369.3" fill="none" stroke="#5cc04a" stroke-width="0.7" stroke-linejoin="round" stroke-linecap="round" stroke-opacity="0.45"/>
<path d="M222.7,368.4 L219.7,365.9" fill="none" stroke="#5cc04a" stroke-width="0.7" stroke-linejoin="round" stroke-linecap="round" stroke-opacity="0.45"/>
<path d="M222.7,368.4 L223.8,370.0" fill="none" stroke="#5cc04a" stroke-width="0.7" stroke-linejoin="round" stroke-linecap="round" stroke-opacity="0.45"/>
<path d="M222.7,368.4 L229.4,371.9" fill="none" stroke="#5cc04a" stroke-width="0.7" stroke-linejoin="round" stroke-linecap="round" stroke-opacity="0.45"/>
<path d="M222.7,368.4 L215.8,368.1" fill="none" stroke="#5cc04a" stroke-width="0.7" stroke-linejoin="round" stroke-linecap="round" stroke-opacity="0.45"/>
<path d="M222.7,368.4 L223.1,370.2" fill="none" stroke="#5cc04a" stroke-width="0.7" stroke-linejoin="round" stroke-linecap="round" stroke-opacity="0.45"/>
<path d="M222.7,368.4 L224.0,367.3" fill="none" stroke="#5cc04a" stroke-width="0.7" stroke-linejoin="round" stroke-linecap="round" stroke-opacity="0.45"/>
<path d="M222.7,368.4 L227.6,367.2" fill="none" stroke="#5cc04a" stroke-width="0.7" stroke-linejoin="round" stroke-linecap="round" stroke-opacity="0.45"/>
<path d="M222.7,368.4 L219.6,370.7" fill="none" stroke="#5cc04a" stroke-width="0.7" stroke-linejoin="round" stroke-linecap="round" stroke-opacity="0.45"/>
<path d="M222.7,368.4 L226.4,369.8" fill="none" stroke="#5cc04a" stroke-width="0.7" stroke-linejoin="round" stroke-linecap="round" stroke-opacity="0.45"/>
<path d="M222.7,368.4 L213.8,369.5" fill="none" stroke="#5cc04a" stroke-width="0.7" stroke-linejoin="round" stroke-linecap="round" stroke-opacity="0.45"/>
<path d="M222.7,368.4 L222.1,364.8" fill="none" stroke="#5cc04a" stroke-width="0.7" stroke-linejoin="round" stroke-linecap="round" stroke-opacity="0.45"/>
<path d="M222.7,368.4 L222.8,368.2" fill="none" stroke="#5cc04a" stroke-width="0.7" stroke-linejoin="round" stroke-linecap="round" stroke-opacity="0.45"/>
<path d="M222.7,368.4 L220.1,368.3" fill="none" stroke="#5cc04a" stroke-width="0.7" stroke-linejoin="round" stroke-linecap="round" stroke-opacity="0.45"/>
<path d="M222.7,368.4 L235.0,372.5" fill="none" stroke="#5cc04a" stroke-width="0.7" stroke-linejoin="round" stroke-linecap="round" stroke-opacity="0.45"/>
<path d="M222.7,368.4 L221.5,369.9" fill="none" stroke="#5cc04a" stroke-width="0.7" stroke-linejoin="round" stroke-linecap="round" stroke-opacity="0.45"/>
<path d="M222.7,368.4 L236.1,369.1" fill="none" stroke="#5cc04a" stroke-width="0.7" stroke-linejoin="round" stroke-linecap="round" stroke-opacity="0.45"/>
<path d="M222.7,368.4 L225.6,369.1" fill="none" stroke="#5cc04a" stroke-width="0.7" stroke-linejoin="round" stroke-linecap="round" stroke-opacity="0.45"/>
<path d="M222.7,368.4 L216.4,373.5" fill="none" stroke="#5cc04a" stroke-width="0.7" stroke-linejoin="round" stroke-linecap="round" stroke-opacity="0.45"/>
<path d="M222.7,368.4 L223.3,370.7" fill="none" stroke="#5cc04a" stroke-width="0.7" stroke-linejoin="round" stroke-linecap="round" stroke-opacity="0.45"/>
<path d="M222.7,368.4 L229.7,371.1" fill="none" stroke="#5cc04a" stroke-width="0.7" stroke-linejoin="round" stroke-linecap="round" stroke-opacity="0.45"/>
<path d="M222.7,368.4 L217.5,368.3" fill="none" stroke="#5cc04a" stroke-width="0.7" stroke-linejoin="round" stroke-linecap="round" stroke-opacity="0.45"/>
<path d="M222.7,368.4 L221.5,364.7" fill="none" stroke="#5cc04a" stroke-width="0.7" stroke-linejoin="round" stroke-linecap="round" stroke-opacity="0.45"/>
<path d="M222.7,368.4 L224.4,370.0" fill="none" stroke="#5cc04a" stroke-width="0.7" stroke-linejoin="round" stroke-linecap="round" stroke-opacity="0.45"/>
<path d="M222.7,368.4 L230.0,375.6" fill="none" stroke="#5cc04a" stroke-width="0.7" stroke-linejoin="round" stroke-linecap="round" stroke-opacity="0.45"/>
<path d="M222.7,368.4 L225.7,365.7" fill="none" stroke="#5cc04a" stroke-width="0.7" stroke-linejoin="round" stroke-linecap="round" stroke-opacity="0.45"/>
<path d="M222.7,368.4 L222.3,361.7" fill="none" stroke="#5cc04a" stroke-width="0.7" stroke-linejoin="round" stroke-linecap="round" stroke-opacity="0.45"/>
<path d="M222.7,368.4 L222.5,370.7" fill="none" stroke="#5cc04a" stroke-width="0.7" stroke-linejoin="round" stroke-linecap="round" stroke-opacity="0.45"/>
<path d="M222.7,368.4 L228.6,366.9" fill="none" stroke="#5cc04a" stroke-width="0.7" stroke-linejoin="round" stroke-linecap="round" stroke-opacity="0.45"/>
<path d="M222.7,368.4 L225.8,370.9" fill="none" stroke="#5cc04a" stroke-width="0.7" stroke-linejoin="round" stroke-linecap="round" stroke-opacity="0.45"/>
<path d="M222.7,368.4 L225.3,369.4" fill="none" stroke="#5cc04a" stroke-width="0.7" stroke-linejoin="round" stroke-linecap="round" stroke-opacity="0.45"/>
<path d="M222.7,368.4 L233.5,368.5" fill="none" stroke="#5cc04a" stroke-width="0.7" stroke-linejoin="round" stroke-linecap="round" stroke-opacity="0.45"/>
<path d="M222.7,368.4 L232.8,368.9" fill="none" stroke="#5cc04a" stroke-width="0.7" stroke-linejoin="round" stroke-linecap="round" stroke-opacity="0.45"/>
<path d="M222.7,368.4 L234.1,370.6" fill="none" stroke="#5cc04a" stroke-width="0.7" stroke-linejoin="round" stroke-linecap="round" stroke-opacity="0.45"/>
<path d="M222.7,368.4 L222.1,373.5" fill="none" stroke="#5cc04a" stroke-width="0.7" stroke-linejoin="round" stroke-linecap="round" stroke-opacity="0.45"/>
<path d="M222.7,368.4 L228.3,367.0" fill="none" stroke="#5cc04a" stroke-width="0.7" stroke-linejoin="round" stroke-linecap="round" stroke-opacity="0.45"/>
<path d="M222.7,368.4 L214.6,372.4" fill="none" stroke="#5cc04a" stroke-width="0.7" stroke-linejoin="round" stroke-linecap="round" stroke-opacity="0.45"/>
<path d="M222.7,368.4 L222.9,368.8" fill="none" stroke="#5cc04a" stroke-width="0.7" stroke-linejoin="round" stroke-linecap="round" stroke-opacity="0.45"/>
<path d="M222.7,368.4 L231.5,373.3" fill="none" stroke="#5cc04a" stroke-width="0.7" stroke-linejoin="round" stroke-linecap="round" stroke-opacity="0.45"/>
<path d="M222.7,368.4 L221.9,371.4" fill="none" stroke="#5cc04a" stroke-width="0.7" stroke-linejoin="round" stroke-linecap="round" stroke-opacity="0.45"/>
<path d="M222.7,368.4 L227.6,367.1" fill="none" stroke="#5cc04a" stroke-width="0.7" stroke-linejoin="round" stroke-linecap="round" stroke-opacity="0.45"/>
<path d="M222.7,368.4 L229.4,367.7" fill="none" stroke="#5cc04a" stroke-width="0.7" stroke-linejoin="round" stroke-linecap="round" stroke-opacity="0.45"/>
<path d="M222.7,368.4 L233.6,369.5" fill="none" stroke="#5cc04a" stroke-width="0.7" stroke-linejoin="round" stroke-linecap="round" stroke-opacity="0.45"/>
<path d="M222.7,368.4 L220.6,371.0" fill="none" stroke="#5cc04a" stroke-width="0.7" stroke-linejoin="round" stroke-linecap="round" stroke-opacity="0.45"/>
<path d="M222.7,368.4 L225.1,369.4" fill="none" stroke="#5cc04a" stroke-width="0.7" stroke-linejoin="round" stroke-linecap="round" stroke-opacity="0.45"/>
<path d="M222.7,368.4 L230.7,373.8" fill="none" stroke="#5cc04a" stroke-width="0.7" stroke-linejoin="round" stroke-linecap="round" stroke-opacity="0.45"/>
<path d="M222.7,368.4 L218.6,370.6" fill="none" stroke="#5cc04a" stroke-width="0.7" stroke-linejoin="round" stroke-linecap="round" stroke-opacity="0.45"/>
<path d="M222.7,368.4 L230.0,371.7" fill="none" stroke="#5cc04a" stroke-width="0.7" stroke-linejoin="round" stroke-linecap="round" stroke-opacity="0.45"/>
<path d="M222.7,368.4 L229.6,363.2" fill="none" stroke="#5cc04a" stroke-width="0.7" stroke-linejoin="round" stroke-linecap="round" stroke-opacity="0.45"/>
<path d="M222.7,368.4 L233.7,369.3" fill="none" stroke="#5cc04a" stroke-width="0.7" stroke-linejoin="round" stroke-linecap="round" stroke-opacity="0.45"/>
<path d="M222.7,368.4 L228.8,369.9" fill="none" stroke="#5cc04a" stroke-width="0.7" stroke-linejoin="round" stroke-linecap="round" stroke-opacity="0.45"/>
<path d="M222.7,368.4 L225.7,369.6" fill="none" stroke="#5cc04a" stroke-width="0.7" stroke-linejoin="round" stroke-linecap="round" stroke-opacity="0.45"/>
<path d="M222.7,368.4 L226.7,371.5" fill="none" stroke="#5cc04a" stroke-width="0.7" stroke-linejoin="round" stroke-linecap="round" stroke-opacity="0.45"/>
<path d="M222.7,368.4 L222.8,370.9" fill="none" stroke="#5cc04a" stroke-width="0.7" stroke-linejoin="round" stroke-linecap="round" stroke-opacity="0.45"/>
<path d="M222.7,368.4 L217.4,372.8" fill="none" stroke="#5cc04a" stroke-width="0.7" stroke-linejoin="round" stroke-linecap="round" stroke-opacity="0.45"/>
<path d="M222.7,368.4 L225.8,370.1" fill="none" stroke="#5cc04a" stroke-width="0.7" stroke-linejoin="round" stroke-linecap="round" stroke-opacity="0.45"/>
<path d="M222.7,368.4 L227.0,369.3" fill="none" stroke="#5cc04a" stroke-width="0.7" stroke-linejoin="round" stroke-linecap="round" stroke-opacity="0.45"/>
<path d="M222.7,368.4 L224.0,370.7" fill="none" stroke="#5cc04a" stroke-width="0.7" stroke-linejoin="round" stroke-linecap="round" stroke-opacity="0.45"/>
<path d="M222.7,368.4 L219.9,370.2" fill="none" stroke="#5cc04a" stroke-width="0.7" stroke-linejoin="round" stroke-linecap="round" stroke-opacity="0.45"/>
<path d="M222.7,368.4 L222.4,370.2" fill="none" stroke="#5cc04a" stroke-width="0.7" stroke-linejoin="round" stroke-linecap="round" stroke-opacity="0.45"/>
<ellipse cx="222.7" cy="368.4" rx="3.2" ry="2.4" fill="#5cc04a" fill-opacity="0.75" filter="url(#bl)"/>
<circle cx="222.7" cy="368.4" r="1.8" fill="#1f6a1f"/>
<path d="M222.7,368.4 L244.0,372.0" fill="none" stroke="#5cbf4c" stroke-width="0.8" stroke-linejoin="round" stroke-linecap="round" stroke-opacity="0.6"/>
<path d="M222.7,368.4 L240.0,380.0" fill="none" stroke="#5cbf4c" stroke-width="0.8" stroke-linejoin="round" stroke-linecap="round" stroke-opacity="0.6"/>
<path d="M222.7,368.4 L211.0,359.0" fill="none" stroke="#5cbf4c" stroke-width="0.8" stroke-linejoin="round" stroke-linecap="round" stroke-opacity="0.6"/>
</g>
<g>
<path d="M304.6,371.0 L305.6,371.2 L305.6,370.1 L305.7,370.1 L306.8,369.3 L307.2,370.8 L307.3,371.3 L307.8,371.6 L308.7,371.6 L308.8,374.2 L309.1,375.0 L310.3,377.2 L311.2,379.0 L312.2,380.2 L312.4,382.5 L313.8,384.8 L314.8,387.9 L315.1,390.0 L316.0,391.9 L316.7,393.3 L317.6,394.7 L319.0,397.2 L319.5,400.4 L321.5,403.4 L321.6,406.0 L323.3,408.9 L323.6,411.1 L324.8,413.1 L325.8,415.3 L326.9,419.1 L327.3,422.1 L327.5,424.6 L327.1,428.7 L328.8,431.2 L329.3,433.6 L331.0,436.7 L330.8,439.2 L331.9,441.7 L333.4,445.4 L333.9,447.1 L334.1,450.0 L335.2,452.7 L335.9,454.6 L335.8,455.5 L336.5,458.3 L337.6,459.3 L337.1,461.1 L337.2,461.8 L337.3,464.0 L339.6,463.9 L341.8,463.8 L343.8,464.2 L345.5,464.6 L348.2,464.6 L352.2,464.3 L356.1,465.3 L359.5,464.9 L364.6,466.1 L370.0,466.2 L375.0,466.8 L379.8,466.9 L385.3,467.7 L390.5,467.8 L395.4,468.8 L400.1,468.9 L407.6,468.7 L414.5,469.3 L422.0,469.2 L430.3,470.3 L437.6,469.9 L445.3,470.9 L452.6,470.4 L460.1,470.9 L467.2,470.6 L475.4,471.2 L483.0,470.6 L489.7,471.0 L493.2,470.9 L497.5,471.2 L501.7,471.5 L505.0,471.5" fill="none" stroke="#e52a22" stroke-width="1.4" stroke-linejoin="round" stroke-linecap="round"/>
<path d="M304.6,378.5 L305.2,381.4 L305.9,383.8 L305.4,387.3 L306.9,389.1 L306.7,392.4 L308.0,395.6 L307.9,399.2 L308.6,402.2 L309.8,403.1 L310.0,404.1 L311.0,405.1 L311.9,406.0 L312.5,407.5 L313.8,410.2 L314.1,411.2 L314.5,414.1 L315.4,412.8 L316.5,413.1 L316.4,412.2 L317.6,411.2 L318.0,413.7 L319.1,415.5 L319.7,417.0 L319.8,418.4 L321.6,422.2 L322.6,424.1 L323.4,427.0 L323.8,429.8 L325.1,433.4 L325.8,435.6 L326.6,438.2 L326.9,441.5 L326.9,443.9 L327.2,447.2 L327.8,449.1 L328.3,452.5 L329.2,454.7 L330.0,457.3 L329.7,459.3 L330.1,461.3 L330.5,462.2 L331.2,464.4 L332.0,464.6 L332.0,466.3 L336.8,465.8 L340.7,466.7 L345.7,466.3 L350.3,466.7 L357.6,467.5 L364.8,468.5 L372.4,468.4 L380.0,469.4 L390.6,469.8 L400.0,470.3 L410.2,471.1 L420.6,471.3 L429.7,471.6 L439.9,471.7 L450.3,472.2 L460.3,473.0 L471.2,473.7 L482.8,474.6 L494.3,474.9 L505.0,475.0" fill="none" stroke="#e52a22" stroke-width="1.4" stroke-linejoin="round" stroke-linecap="round"/>
<path d="M304.6,384.0 L305.0,387.0 L306.0,390.0 L306.6,392.1 L306.8,395.0 L308.1,397.1 L308.3,399.6 L309.0,401.6 L310.1,404.1 L310.9,405.5 L311.4,406.2 L311.6,407.9 L313.5,408.7 L313.6,410.8 L315.0,413.1 L316.0,414.6 L316.2,416.8 L317.8,420.3 L319.3,424.3 L320.7,427.0 L322.8,430.4 L323.2,432.9 L323.9,434.2 L325.5,437.1 L326.0,438.9 L326.6,441.5 L327.0,443.7 L327.8,446.1 L327.4,449.1 L328.1,451.3 L329.1,455.2 L329.3,457.3 L330.9,460.1 L331.0,461.8 L332.0,462.7 L331.9,463.6 L332.8,464.4 L339.7,465.0 L346.5,464.7 L352.8,465.5 L359.5,465.6 L370.4,466.8 L380.4,467.1 L390.0,468.2 L399.5,468.7 L413.0,470.0 L425.0,470.6 L437.9,471.8 L450.1,471.5 L464.2,472.6 L477.2,473.6 L491.3,475.1 L505.0,476.0" fill="none" stroke="#e52a22" stroke-width="1.4" stroke-linejoin="round" stroke-linecap="round"/>
<path d="M304.6,417.2 L304.8,416.7 L304.6,416.6 L305.3,415.6 L305.9,415.9 L306.5,418.3 L305.9,419.9 L306.9,422.0 L307.7,425.1 L307.4,427.9 L308.9,431.6 L308.7,433.9 L309.1,437.6 L310.0,439.5 L309.8,442.8 L310.0,444.6 L310.5,447.1 L311.6,451.2 L312.1,455.1 L312.8,458.0 L313.4,462.0 L314.2,464.2 L314.6,465.1 L314.7,466.0 L315.7,466.6 L319.4,467.3 L322.6,467.9 L326.7,467.3 L329.5,467.5 L337.2,468.5 L345.6,469.3 L352.9,468.7 L360.4,469.8 L370.0,470.5 L380.1,469.8 L389.7,470.2 L400.1,471.1 L412.9,471.2 L424.4,473.1 L437.2,473.0 L450.4,473.5 L464.1,475.2 L477.6,475.6 L490.7,476.4 L505.0,477.0" fill="none" stroke="#e52a22" stroke-width="1.4" stroke-linejoin="round" stroke-linecap="round"/>
<path d="M304.6,433.9 L305.4,434.7 L306.0,434.3 L306.4,435.4 L306.9,435.2 L307.8,437.5 L308.9,438.3 L310.1,440.0 L309.9,441.4 L311.3,444.4 L311.5,447.8 L312.8,451.1 L312.5,454.3 L313.2,456.5 L314.1,458.2 L314.3,460.9 L314.9,463.8 L316.1,463.8 L317.1,463.7 L318.7,464.3 L319.7,464.8 L325.0,464.7 L329.7,465.7 L335.5,466.2 L339.7,465.5 L350.2,466.1 L360.4,467.5 L369.8,467.8 L380.2,468.1 L392.3,469.5 L405.2,469.9 L417.0,470.0 L429.7,470.4 L442.7,471.8 L455.5,472.6 L468.0,473.2 L480.0,473.7 L486.2,475.5 L492.5,475.4 L498.6,476.6 L505.0,478.0" fill="none" stroke="#e52a22" stroke-width="1.4" stroke-linejoin="round" stroke-linecap="round"/>
<path d="M304.6,454.2 L305.7,454.7 L306.4,455.6 L307.7,455.1 L307.7,456.2 L309.1,457.1 L309.7,457.3 L310.3,459.2 L311.1,459.2 L311.5,461.1 L313.0,461.1 L314.1,463.0 L315.2,463.6 L315.6,464.5 L315.7,467.0 L316.0,467.8 L317.0,470.1 L319.4,469.5 L323.4,470.7 L326.8,470.8 L329.5,470.6 L337.1,470.4 L344.6,470.6 L352.0,470.9 L360.2,471.3 L370.3,470.6 L380.4,471.5 L390.5,471.7 L399.5,472.2 L412.1,473.1 L425.0,473.5 L437.5,473.3 L450.2,474.3 L463.7,474.6 L477.4,476.0 L490.9,476.2 L505.0,477.5" fill="none" stroke="#e52a22" stroke-width="1.4" stroke-linejoin="round" stroke-linecap="round"/>
<path d="M397.4,368.4 L391.5,368.0" fill="none" stroke="#e8322a" stroke-width="0.7" stroke-linejoin="round" stroke-linecap="round" stroke-opacity="0.6"/>
<path d="M397.4,368.4 L404.0,367.2" fill="none" stroke="#e8322a" stroke-width="0.7" stroke-linejoin="round" stroke-linecap="round" stroke-opacity="0.6"/>
<path d="M397.4,368.4 L405.8,367.6" fill="none" stroke="#e8322a" stroke-width="0.7" stroke-linejoin="round" stroke-linecap="round" stroke-opacity="0.6"/>
<path d="M397.4,368.4 L406.8,368.2" fill="none" stroke="#e8322a" stroke-width="0.7" stroke-linejoin="round" stroke-linecap="round" stroke-opacity="0.6"/>
<path d="M397.4,368.4 L395.7,363.6" fill="none" stroke="#e8322a" stroke-width="0.7" stroke-linejoin="round" stroke-linecap="round" stroke-opacity="0.6"/>
<path d="M397.4,368.4 L403.8,368.1" fill="none" stroke="#e8322a" stroke-width="0.7" stroke-linejoin="round" stroke-linecap="round" stroke-opacity="0.6"/>
<path d="M397.4,368.4 L393.2,367.0" fill="none" stroke="#e8322a" stroke-width="0.7" stroke-linejoin="round" stroke-linecap="round" stroke-opacity="0.6"/>
<path d="M397.4,368.4 L398.9,368.2" fill="none" stroke="#e8322a" stroke-width="0.7" stroke-linejoin="round" stroke-linecap="round" stroke-opacity="0.6"/>
<path d="M397.4,368.4 L409.0,367.8" fill="none" stroke="#e8322a" stroke-width="0.7" stroke-linejoin="round" stroke-linecap="round" stroke-opacity="0.6"/>
<path d="M397.4,368.4 L403.2,365.0" fill="none" stroke="#e8322a" stroke-width="0.7" stroke-linejoin="round" stroke-linecap="round" stroke-opacity="0.6"/>
<path d="M397.4,368.4 L393.2,363.3" fill="none" stroke="#e8322a" stroke-width="0.7" stroke-linejoin="round" stroke-linecap="round" stroke-opacity="0.6"/>
<path d="M397.4,368.4 L394.8,366.5" fill="none" stroke="#e8322a" stroke-width="0.7" stroke-linejoin="round" stroke-linecap="round" stroke-opacity="0.6"/>
<path d="M397.4,368.4 L394.7,367.0" fill="none" stroke="#e8322a" stroke-width="0.7" stroke-linejoin="round" stroke-linecap="round" stroke-opacity="0.6"/>
<path d="M397.4,368.4 L398.2,363.1" fill="none" stroke="#e8322a" stroke-width="0.7" stroke-linejoin="round" stroke-linecap="round" stroke-opacity="0.6"/>
<path d="M397.4,368.4 L404.1,367.7" fill="none" stroke="#e8322a" stroke-width="0.7" stroke-linejoin="round" stroke-linecap="round" stroke-opacity="0.6"/>
<path d="M397.4,368.4 L395.8,366.4" fill="none" stroke="#e8322a" stroke-width="0.7" stroke-linejoin="round" stroke-linecap="round" stroke-opacity="0.6"/>
<path d="M397.4,368.4 L397.3,369.9" fill="none" stroke="#e8322a" stroke-width="0.7" stroke-linejoin="round" stroke-linecap="round" stroke-opacity="0.6"/>
<path d="M397.4,368.4 L397.1,370.4" fill="none" stroke="#e8322a" stroke-width="0.7" stroke-linejoin="round" stroke-linecap="round" stroke-opacity="0.6"/>
<path d="M397.4,368.4 L406.5,367.5" fill="none" stroke="#e8322a" stroke-width="0.7" stroke-linejoin="round" stroke-linecap="round" stroke-opacity="0.6"/>
<path d="M397.4,368.4 L400.2,369.6" fill="none" stroke="#e8322a" stroke-width="0.7" stroke-linejoin="round" stroke-linecap="round" stroke-opacity="0.6"/>
<path d="M397.4,368.4 L402.2,361.5" fill="none" stroke="#e8322a" stroke-width="0.7" stroke-linejoin="round" stroke-linecap="round" stroke-opacity="0.6"/>
<path d="M397.4,368.4 L397.2,364.7" fill="none" stroke="#e8322a" stroke-width="0.7" stroke-linejoin="round" stroke-linecap="round" stroke-opacity="0.6"/>
<path d="M397.4,368.4 L394.0,366.6" fill="none" stroke="#e8322a" stroke-width="0.7" stroke-linejoin="round" stroke-linecap="round" stroke-opacity="0.6"/>
<path d="M397.4,368.4 L407.9,366.7" fill="none" stroke="#e8322a" stroke-width="0.7" stroke-linejoin="round" stroke-linecap="round" stroke-opacity="0.6"/>
<path d="M397.4,368.4 L402.7,367.6" fill="none" stroke="#e8322a" stroke-width="0.7" stroke-linejoin="round" stroke-linecap="round" stroke-opacity="0.6"/>
<path d="M397.4,368.4 L389.6,367.4" fill="none" stroke="#e8322a" stroke-width="0.7" stroke-linejoin="round" stroke-linecap="round" stroke-opacity="0.6"/>
<path d="M397.4,368.4 L406.1,369.2" fill="none" stroke="#e8322a" stroke-width="0.7" stroke-linejoin="round" stroke-linecap="round" stroke-opacity="0.6"/>
<path d="M397.4,368.4 L402.1,360.6" fill="none" stroke="#e8322a" stroke-width="0.7" stroke-linejoin="round" stroke-linecap="round" stroke-opacity="0.6"/>
<path d="M397.4,368.4 L406.5,364.6" fill="none" stroke="#e8322a" stroke-width="0.7" stroke-linejoin="round" stroke-linecap="round" stroke-opacity="0.6"/>
<path d="M397.4,368.4 L402.8,364.4" fill="none" stroke="#e8322a" stroke-width="0.7" stroke-linejoin="round" stroke-linecap="round" stroke-opacity="0.6"/>
<path d="M397.4,368.4 L399.9,367.8" fill="none" stroke="#e8322a" stroke-width="0.7" stroke-linejoin="round" stroke-linecap="round" stroke-opacity="0.6"/>
<path d="M397.4,368.4 L395.4,373.6" fill="none" stroke="#e8322a" stroke-width="0.7" stroke-linejoin="round" stroke-linecap="round" stroke-opacity="0.6"/>
<path d="M397.4,368.4 L401.7,367.8" fill="none" stroke="#e8322a" stroke-width="0.7" stroke-linejoin="round" stroke-linecap="round" stroke-opacity="0.6"/>
<path d="M397.4,368.4 L394.0,369.6" fill="none" stroke="#e8322a" stroke-width="0.7" stroke-linejoin="round" stroke-linecap="round" stroke-opacity="0.6"/>
<path d="M397.4,368.4 L398.0,368.6" fill="none" stroke="#e8322a" stroke-width="0.7" stroke-linejoin="round" stroke-linecap="round" stroke-opacity="0.6"/>
<path d="M397.4,368.4 L393.5,367.5" fill="none" stroke="#e8322a" stroke-width="0.7" stroke-linejoin="round" stroke-linecap="round" stroke-opacity="0.6"/>
<path d="M397.4,368.4 L392.1,368.0" fill="none" stroke="#e8322a" stroke-width="0.7" stroke-linejoin="round" stroke-linecap="round" stroke-opacity="0.6"/>
<path d="M397.4,368.4 L403.2,367.9" fill="none" stroke="#e8322a" stroke-width="0.7" stroke-linejoin="round" stroke-linecap="round" stroke-opacity="0.6"/>
<path d="M397.4,368.4 L397.8,366.3" fill="none" stroke="#e8322a" stroke-width="0.7" stroke-linejoin="round" stroke-linecap="round" stroke-opacity="0.6"/>
<path d="M397.4,368.4 L399.6,364.5" fill="none" stroke="#e8322a" stroke-width="0.7" stroke-linejoin="round" stroke-linecap="round" stroke-opacity="0.6"/>
<path d="M397.4,368.4 L399.3,367.6" fill="none" stroke="#e8322a" stroke-width="0.7" stroke-linejoin="round" stroke-linecap="round" stroke-opacity="0.6"/>
<path d="M397.4,368.4 L402.7,368.6" fill="none" stroke="#e8322a" stroke-width="0.7" stroke-linejoin="round" stroke-linecap="round" stroke-opacity="0.6"/>
<path d="M397.4,368.4 L405.4,366.6" fill="none" stroke="#e8322a" stroke-width="0.7" stroke-linejoin="round" stroke-linecap="round" stroke-opacity="0.6"/>
<path d="M397.4,368.4 L397.7,369.3" fill="none" stroke="#e8322a" stroke-width="0.7" stroke-linejoin="round" stroke-linecap="round" stroke-opacity="0.6"/>
<path d="M397.4,368.4 L398.2,370.1" fill="none" stroke="#e8322a" stroke-width="0.7" stroke-linejoin="round" stroke-linecap="round" stroke-opacity="0.6"/>
<path d="M397.4,368.4 L399.0,368.9" fill="none" stroke="#e8322a" stroke-width="0.7" stroke-linejoin="round" stroke-linecap="round" stroke-opacity="0.6"/>
<path d="M397.4,368.4 L395.4,365.9" fill="none" stroke="#e8322a" stroke-width="0.7" stroke-linejoin="round" stroke-linecap="round" stroke-opacity="0.6"/>
<path d="M397.4,368.4 L399.5,367.4" fill="none" stroke="#e8322a" stroke-width="0.7" stroke-linejoin="round" stroke-linecap="round" stroke-opacity="0.6"/>
<path d="M397.4,368.4 L394.1,372.0" fill="none" stroke="#e8322a" stroke-width="0.7" stroke-linejoin="round" stroke-linecap="round" stroke-opacity="0.6"/>
<path d="M397.4,368.4 L401.5,367.6" fill="none" stroke="#e8322a" stroke-width="0.7" stroke-linejoin="round" stroke-linecap="round" stroke-opacity="0.6"/>
<path d="M397.4,368.4 L400.7,371.7" fill="none" stroke="#e8322a" stroke-width="0.7" stroke-linejoin="round" stroke-linecap="round" stroke-opacity="0.6"/>
<path d="M397.4,368.4 L394.7,365.7" fill="none" stroke="#e8322a" stroke-width="0.7" stroke-linejoin="round" stroke-linecap="round" stroke-opacity="0.6"/>
<path d="M397.4,368.4 L393.6,370.5" fill="none" stroke="#e8322a" stroke-width="0.7" stroke-linejoin="round" stroke-linecap="round" stroke-opacity="0.6"/>
<path d="M397.4,368.4 L407.9,369.6" fill="none" stroke="#e8322a" stroke-width="0.7" stroke-linejoin="round" stroke-linecap="round" stroke-opacity="0.6"/>
<path d="M397.4,368.4 L395.2,370.0" fill="none" stroke="#e8322a" stroke-width="0.7" stroke-linejoin="round" stroke-linecap="round" stroke-opacity="0.6"/>
<path d="M397.4,368.4 L404.4,368.4" fill="none" stroke="#e8322a" stroke-width="0.7" stroke-linejoin="round" stroke-linecap="round" stroke-opacity="0.6"/>
<path d="M397.4,368.4 L410.0,364.7" fill="none" stroke="#e8322a" stroke-width="0.7" stroke-linejoin="round" stroke-linecap="round" stroke-opacity="0.6"/>
<path d="M397.4,368.4 L403.7,365.9" fill="none" stroke="#e8322a" stroke-width="0.7" stroke-linejoin="round" stroke-linecap="round" stroke-opacity="0.6"/>
<path d="M397.4,368.4 L395.2,364.7" fill="none" stroke="#e8322a" stroke-width="0.7" stroke-linejoin="round" stroke-linecap="round" stroke-opacity="0.6"/>
<path d="M397.4,368.4 L402.0,370.6" fill="none" stroke="#e8322a" stroke-width="0.7" stroke-linejoin="round" stroke-linecap="round" stroke-opacity="0.6"/>
<ellipse cx="397.4" cy="368.4" rx="3.2" ry="2.4" fill="#e8322a" fill-opacity="0.75" filter="url(#bl)"/>
<ellipse cx="398.5" cy="368.4" rx="3.6" ry="3.4" fill="#d82a2a" fill-opacity="0.85"/>
<path d="M397.4,368.4 L417.0,379.0" fill="none" stroke="#e8322a" stroke-width="0.8" stroke-linejoin="round" stroke-linecap="round" stroke-opacity="0.7"/>
<path d="M397.4,368.4 L409.0,362.0" fill="none" stroke="#e8322a" stroke-width="0.9" stroke-linejoin="round" stroke-linecap="round" stroke-opacity="0.7"/>
<path d="M477.1,368.4 L479.8,366.6" fill="none" stroke="#d8222a" stroke-width="0.7" stroke-linejoin="round" stroke-linecap="round" stroke-opacity="0.7"/>
<path d="M477.1,368.4 L475.3,367.8" fill="none" stroke="#d8222a" stroke-width="0.7" stroke-linejoin="round" stroke-linecap="round" stroke-opacity="0.7"/>
<path d="M477.1,368.4 L474.8,366.5" fill="none" stroke="#d8222a" stroke-width="0.7" stroke-linejoin="round" stroke-linecap="round" stroke-opacity="0.7"/>
<path d="M477.1,368.4 L473.5,368.6" fill="none" stroke="#d8222a" stroke-width="0.7" stroke-linejoin="round" stroke-linecap="round" stroke-opacity="0.7"/>
<path d="M477.1,368.4 L478.0,369.7" fill="none" stroke="#d8222a" stroke-width="0.7" stroke-linejoin="round" stroke-linecap="round" stroke-opacity="0.7"/>
<path d="M477.1,368.4 L476.9,368.3" fill="none" stroke="#d8222a" stroke-width="0.7" stroke-linejoin="round" stroke-linecap="round" stroke-opacity="0.7"/>
<path d="M477.1,368.4 L476.2,368.4" fill="none" stroke="#d8222a" stroke-width="0.7" stroke-linejoin="round" stroke-linecap="round" stroke-opacity="0.7"/>
<path d="M477.1,368.4 L474.1,369.9" fill="none" stroke="#d8222a" stroke-width="0.7" stroke-linejoin="round" stroke-linecap="round" stroke-opacity="0.7"/>
<path d="M477.1,368.4 L482.7,369.4" fill="none" stroke="#d8222a" stroke-width="0.7" stroke-linejoin="round" stroke-linecap="round" stroke-opacity="0.7"/>
<path d="M477.1,368.4 L476.8,369.3" fill="none" stroke="#d8222a" stroke-width="0.7" stroke-linejoin="round" stroke-linecap="round" stroke-opacity="0.7"/>
<path d="M477.1,368.4 L474.1,370.2" fill="none" stroke="#d8222a" stroke-width="0.7" stroke-linejoin="round" stroke-linecap="round" stroke-opacity="0.7"/>
<path d="M477.1,368.4 L481.9,369.0" fill="none" stroke="#d8222a" stroke-width="0.7" stroke-linejoin="round" stroke-linecap="round" stroke-opacity="0.7"/>
<path d="M477.1,368.4 L477.3,368.4" fill="none" stroke="#d8222a" stroke-width="0.7" stroke-linejoin="round" stroke-linecap="round" stroke-opacity="0.7"/>
<path d="M477.1,368.4 L472.2,365.8" fill="none" stroke="#d8222a" stroke-width="0.7" stroke-linejoin="round" stroke-linecap="round" stroke-opacity="0.7"/>
<path d="M477.1,368.4 L483.3,368.7" fill="none" stroke="#d8222a" stroke-width="0.7" stroke-linejoin="round" stroke-linecap="round" stroke-opacity="0.7"/>
<path d="M477.1,368.4 L482.4,369.3" fill="none" stroke="#d8222a" stroke-width="0.7" stroke-linejoin="round" stroke-linecap="round" stroke-opacity="0.7"/>
<path d="M477.1,368.4 L476.6,368.6" fill="none" stroke="#d8222a" stroke-width="0.7" stroke-linejoin="round" stroke-linecap="round" stroke-opacity="0.7"/>
<path d="M477.1,368.4 L476.7,367.6" fill="none" stroke="#d8222a" stroke-width="0.7" stroke-linejoin="round" stroke-linecap="round" stroke-opacity="0.7"/>
<path d="M477.1,368.4 L475.6,364.7" fill="none" stroke="#d8222a" stroke-width="0.7" stroke-linejoin="round" stroke-linecap="round" stroke-opacity="0.7"/>
<path d="M477.1,368.4 L472.4,370.6" fill="none" stroke="#d8222a" stroke-width="0.7" stroke-linejoin="round" stroke-linecap="round" stroke-opacity="0.7"/>
<path d="M477.1,368.4 L475.5,367.7" fill="none" stroke="#d8222a" stroke-width="0.7" stroke-linejoin="round" stroke-linecap="round" stroke-opacity="0.7"/>
<path d="M477.1,368.4 L479.4,367.9" fill="none" stroke="#d8222a" stroke-width="0.7" stroke-linejoin="round" stroke-linecap="round" stroke-opacity="0.7"/>
<path d="M477.1,368.4 L479.9,365.6" fill="none" stroke="#d8222a" stroke-width="0.7" stroke-linejoin="round" stroke-linecap="round" stroke-opacity="0.7"/>
<path d="M477.1,368.4 L478.4,365.8" fill="none" stroke="#d8222a" stroke-width="0.7" stroke-linejoin="round" stroke-linecap="round" stroke-opacity="0.7"/>
<path d="M477.1,368.4 L477.2,368.4" fill="none" stroke="#d8222a" stroke-width="0.7" stroke-linejoin="round" stroke-linecap="round" stroke-opacity="0.7"/>
<path d="M477.1,368.4 L477.5,368.0" fill="none" stroke="#d8222a" stroke-width="0.7" stroke-linejoin="round" stroke-linecap="round" stroke-opacity="0.7"/>
<path d="M477.1,368.4 L480.5,370.7" fill="none" stroke="#d8222a" stroke-width="0.7" stroke-linejoin="round" stroke-linecap="round" stroke-opacity="0.7"/>
<path d="M477.1,368.4 L474.0,367.1" fill="none" stroke="#d8222a" stroke-width="0.7" stroke-linejoin="round" stroke-linecap="round" stroke-opacity="0.7"/>
<path d="M477.1,368.4 L474.0,367.9" fill="none" stroke="#d8222a" stroke-width="0.7" stroke-linejoin="round" stroke-linecap="round" stroke-opacity="0.7"/>
<path d="M477.1,368.4 L480.7,370.3" fill="none" stroke="#d8222a" stroke-width="0.7" stroke-linejoin="round" stroke-linecap="round" stroke-opacity="0.7"/>
<path d="M477.1,368.4 L474.6,368.0" fill="none" stroke="#d8222a" stroke-width="0.7" stroke-linejoin="round" stroke-linecap="round" stroke-opacity="0.7"/>
<path d="M477.1,368.4 L471.5,367.5" fill="none" stroke="#d8222a" stroke-width="0.7" stroke-linejoin="round" stroke-linecap="round" stroke-opacity="0.7"/>
<path d="M477.1,368.4 L477.1,365.1" fill="none" stroke="#d8222a" stroke-width="0.7" stroke-linejoin="round" stroke-linecap="round" stroke-opacity="0.7"/>
<path d="M477.1,368.4 L478.0,369.8" fill="none" stroke="#d8222a" stroke-width="0.7" stroke-linejoin="round" stroke-linecap="round" stroke-opacity="0.7"/>
<path d="M477.1,368.4 L475.0,368.8" fill="none" stroke="#d8222a" stroke-width="0.7" stroke-linejoin="round" stroke-linecap="round" stroke-opacity="0.7"/>
<path d="M477.1,368.4 L475.6,368.9" fill="none" stroke="#d8222a" stroke-width="0.7" stroke-linejoin="round" stroke-linecap="round" stroke-opacity="0.7"/>
<path d="M477.1,368.4 L474.2,370.5" fill="none" stroke="#d8222a" stroke-width="0.7" stroke-linejoin="round" stroke-linecap="round" stroke-opacity="0.7"/>
<path d="M477.1,368.4 L479.2,368.1" fill="none" stroke="#d8222a" stroke-width="0.7" stroke-linejoin="round" stroke-linecap="round" stroke-opacity="0.7"/>
<path d="M477.1,368.4 L477.2,368.7" fill="none" stroke="#d8222a" stroke-width="0.7" stroke-linejoin="round" stroke-linecap="round" stroke-opacity="0.7"/>
<path d="M477.1,368.4 L479.2,366.6" fill="none" stroke="#d8222a" stroke-width="0.7" stroke-linejoin="round" stroke-linecap="round" stroke-opacity="0.7"/>
<ellipse cx="477.1" cy="368.4" rx="3.2" ry="2.4" fill="#d8222a" fill-opacity="0.75" filter="url(#bl)"/>
<ellipse cx="477.3" cy="368.4" rx="2.8" ry="3.0" fill="#c82228" fill-opacity="0.85"/>
<path d="M477.1,368.4 L482.0,382.0" fill="none" stroke="#e8322a" stroke-width="0.8" stroke-linejoin="round" stroke-linecap="round" stroke-opacity="0.7"/>
<path d="M477.1,368.4 L481.0,361.0" fill="none" stroke="#e8322a" stroke-width="0.8" stroke-linejoin="round" stroke-linecap="round" stroke-opacity="0.7"/>
</g>
<circle cx="68.2" cy="541.0" r="1.65" fill="#111"/>
<circle cx="63.7" cy="554.2" r="1.65" fill="#111"/>
<circle cx="73.0" cy="554.2" r="1.65" fill="#111"/>
<circle cx="68.2" cy="557.6" r="1.65" fill="#111"/>
<circle cx="68.2" cy="564.1" r="1.65" fill="#111"/>
<circle cx="73.0" cy="564.1" r="1.65" fill="#111"/>
<circle cx="63.7" cy="574.2" r="1.65" fill="#111"/>
<circle cx="68.2" cy="574.2" r="1.65" fill="#111"/>
<circle cx="73.0" cy="572.6" r="1.65" fill="#111"/>
<circle cx="73.0" cy="577.9" r="1.65" fill="#111"/>
<circle cx="68.2" cy="580.7" r="1.65" fill="#111"/>
<circle cx="68.2" cy="586.5" r="1.65" fill="#111"/>
<circle cx="73.0" cy="591.4" r="1.65" fill="#111"/>
<circle cx="68.2" cy="594.2" r="1.65" fill="#111"/>
<circle cx="63.7" cy="598.6" r="1.65" fill="#111"/>
<circle cx="68.2" cy="602.8" r="1.65" fill="#111"/>
<circle cx="68.2" cy="629.4" r="1.65" fill="#111"/>
<line x1="68.20" y1="555.70" x2="68.20" y2="599.00" stroke="#111" stroke-width="1.3" />
<line x1="58.00" y1="555.70" x2="78.30" y2="555.70" stroke="#111" stroke-width="1.3" />
<line x1="58.00" y1="599.00" x2="78.30" y2="599.00" stroke="#111" stroke-width="1.3" />
<line x1="49.00" y1="577.40" x2="87.60" y2="577.40" stroke="#111" stroke-width="1.3" />
<circle cx="125.9" cy="608.0" r="1.65" fill="#111"/>
<circle cx="121.2" cy="613.8" r="1.65" fill="#111"/>
<circle cx="125.9" cy="615.2" r="1.65" fill="#111"/>
<circle cx="135.4" cy="615.9" r="1.65" fill="#111"/>
<circle cx="125.9" cy="620.7" r="1.65" fill="#111"/>
<circle cx="130.7" cy="620.1" r="1.65" fill="#111"/>
<circle cx="112.2" cy="626.0" r="1.65" fill="#111"/>
<circle cx="139.7" cy="625.4" r="1.65" fill="#111"/>
<circle cx="116.4" cy="628.6" r="1.65" fill="#111"/>
<circle cx="116.4" cy="630.7" r="1.65" fill="#111"/>
<circle cx="121.2" cy="628.6" r="1.65" fill="#111"/>
<circle cx="125.9" cy="629.7" r="1.65" fill="#111"/>
<circle cx="130.7" cy="628.6" r="1.65" fill="#111"/>
<circle cx="135.4" cy="627.0" r="1.65" fill="#111"/>
<circle cx="135.4" cy="630.7" r="1.65" fill="#111"/>
<circle cx="121.2" cy="633.4" r="1.65" fill="#111"/>
<circle cx="125.9" cy="635.0" r="1.65" fill="#111"/>
<circle cx="130.7" cy="633.6" r="1.65" fill="#111"/>
<circle cx="121.2" cy="638.7" r="1.65" fill="#111"/>
<circle cx="125.9" cy="641.3" r="1.65" fill="#111"/>
<circle cx="125.9" cy="649.2" r="1.65" fill="#111"/>
<line x1="125.90" y1="617.30" x2="125.90" y2="636.50" stroke="#111" stroke-width="1.3" />
<line x1="115.90" y1="617.30" x2="135.40" y2="617.30" stroke="#111" stroke-width="1.3" />
<line x1="115.90" y1="636.50" x2="135.40" y2="636.50" stroke="#111" stroke-width="1.3" />
<line x1="106.90" y1="627.00" x2="145.00" y2="627.00" stroke="#111" stroke-width="1.3" />
<circle cx="229.0" cy="571.7" r="1.65" fill="#111"/>
<circle cx="233.9" cy="574.0" r="1.65" fill="#111"/>
<circle cx="239.3" cy="572.2" r="1.65" fill="#111"/>
<circle cx="244.3" cy="569.0" r="1.65" fill="#111"/>
<circle cx="223.7" cy="589.0" r="1.65" fill="#111"/>
<circle cx="229.0" cy="592.2" r="1.65" fill="#111"/>
<circle cx="233.9" cy="594.3" r="1.65" fill="#111"/>
<circle cx="239.3" cy="592.2" r="1.65" fill="#111"/>
<circle cx="239.3" cy="605.2" r="1.65" fill="#111"/>
<circle cx="233.9" cy="609.9" r="1.65" fill="#111"/>
<circle cx="229.0" cy="628.9" r="1.65" fill="#111"/>
<circle cx="233.9" cy="631.1" r="1.65" fill="#111"/>
<circle cx="239.3" cy="626.5" r="1.65" fill="#111"/>
<circle cx="229.0" cy="640.0" r="1.65" fill="#111"/>
<circle cx="233.9" cy="643.8" r="1.65" fill="#111"/>
<circle cx="239.3" cy="641.8" r="1.65" fill="#111"/>
<line x1="233.90" y1="578.00" x2="233.90" y2="632.50" stroke="#111" stroke-width="1.3" />
<line x1="223.00" y1="578.00" x2="245.20" y2="578.00" stroke="#111" stroke-width="1.3" />
<line x1="223.00" y1="632.50" x2="245.20" y2="632.50" stroke="#111" stroke-width="1.3" />
<line x1="212.90" y1="605.00" x2="255.20" y2="605.00" stroke="#111" stroke-width="1.3" />
<circle cx="297.8" cy="555.3" r="1.65" fill="#111"/>
<circle cx="292.7" cy="567.2" r="1.65" fill="#111"/>
<circle cx="297.8" cy="567.2" r="1.65" fill="#111"/>
<circle cx="297.8" cy="573.1" r="1.65" fill="#111"/>
<circle cx="302.7" cy="573.1" r="1.65" fill="#111"/>
<circle cx="282.3" cy="574.5" r="1.65" fill="#111"/>
<circle cx="287.5" cy="577.2" r="1.65" fill="#111"/>
<circle cx="292.7" cy="578.7" r="1.65" fill="#111"/>
<circle cx="297.8" cy="578.7" r="1.65" fill="#111"/>
<circle cx="302.7" cy="577.8" r="1.65" fill="#111"/>
<circle cx="302.7" cy="580.7" r="1.65" fill="#111"/>
<circle cx="307.7" cy="576.0" r="1.65" fill="#111"/>
<circle cx="297.8" cy="584.6" r="1.65" fill="#111"/>
<circle cx="292.7" cy="587.5" r="1.65" fill="#111"/>
<circle cx="297.8" cy="592.0" r="1.65" fill="#111"/>
<circle cx="292.7" cy="594.5" r="1.65" fill="#111"/>
<circle cx="297.8" cy="595.2" r="1.65" fill="#111"/>
<circle cx="302.7" cy="595.2" r="1.65" fill="#111"/>
<circle cx="307.7" cy="594.0" r="1.65" fill="#111"/>
<circle cx="297.8" cy="598.9" r="1.65" fill="#111"/>
<circle cx="292.7" cy="601.1" r="1.65" fill="#111"/>
<circle cx="302.7" cy="599.7" r="1.65" fill="#111"/>
<circle cx="297.8" cy="604.1" r="1.65" fill="#111"/>
<circle cx="297.8" cy="639.5" r="1.65" fill="#111"/>
<line x1="297.80" y1="568.30" x2="297.80" y2="602.60" stroke="#111" stroke-width="1.3" />
<line x1="286.80" y1="568.30" x2="308.60" y2="568.30" stroke="#111" stroke-width="1.3" />
<line x1="286.80" y1="602.60" x2="308.60" y2="602.60" stroke="#111" stroke-width="1.3" />
<line x1="276.70" y1="585.20" x2="319.00" y2="585.20" stroke="#111" stroke-width="1.3" />
<circle cx="393.2" cy="539.5" r="1.25" fill="#111"/>
<circle cx="397.4" cy="539.5" r="1.25" fill="#111"/>
<circle cx="401.4" cy="539.5" r="1.25" fill="#111"/>
<circle cx="405.6" cy="541.7" r="1.25" fill="#111"/>
<circle cx="409.8" cy="540.4" r="1.25" fill="#111"/>
<circle cx="413.8" cy="539.5" r="1.25" fill="#111"/>
<circle cx="417.9" cy="539.5" r="1.25" fill="#111"/>
<circle cx="422.0" cy="539.5" r="1.25" fill="#111"/>
<circle cx="401.4" cy="552.1" r="1.25" fill="#111"/>
<circle cx="405.6" cy="552.9" r="1.25" fill="#111"/>
<circle cx="405.6" cy="562.7" r="1.25" fill="#111"/>
<circle cx="401.4" cy="568.9" r="1.25" fill="#111"/>
<circle cx="405.6" cy="572.4" r="1.25" fill="#111"/>
<circle cx="405.6" cy="592.0" r="1.25" fill="#111"/>
<circle cx="405.6" cy="596.4" r="1.25" fill="#111"/>
<circle cx="405.6" cy="619.1" r="1.25" fill="#111"/>
<circle cx="405.6" cy="626.8" r="1.25" fill="#111"/>
<circle cx="405.6" cy="635.5" r="1.25" fill="#111"/>
<circle cx="451.8" cy="539.4" r="1.25" fill="#111"/>
<circle cx="453.4" cy="539.4" r="1.25" fill="#111"/>
<circle cx="455.0" cy="539.4" r="1.25" fill="#111"/>
<circle cx="456.6" cy="539.4" r="1.25" fill="#111"/>
<circle cx="458.2" cy="539.4" r="1.25" fill="#111"/>
<circle cx="459.8" cy="539.4" r="1.25" fill="#111"/>
<circle cx="461.4" cy="539.4" r="1.25" fill="#111"/>
<circle cx="463.0" cy="539.4" r="1.25" fill="#111"/>
<circle cx="464.6" cy="539.4" r="1.25" fill="#111"/>
<circle cx="466.2" cy="539.4" r="1.25" fill="#111"/>
<circle cx="467.8" cy="541.3" r="1.25" fill="#111"/>
<circle cx="469.4" cy="541.3" r="1.25" fill="#111"/>
<circle cx="471.0" cy="539.4" r="1.25" fill="#111"/>
<circle cx="472.6" cy="541.3" r="1.25" fill="#111"/>
<circle cx="474.2" cy="539.4" r="1.25" fill="#111"/>
<circle cx="475.8" cy="539.4" r="1.25" fill="#111"/>
<circle cx="477.4" cy="539.4" r="1.25" fill="#111"/>
<circle cx="479.0" cy="539.4" r="1.25" fill="#111"/>
<circle cx="480.6" cy="539.4" r="1.25" fill="#111"/>
<circle cx="482.2" cy="539.4" r="1.25" fill="#111"/>
<circle cx="483.8" cy="539.4" r="1.25" fill="#111"/>
<circle cx="485.4" cy="539.4" r="1.25" fill="#111"/>
<circle cx="487.0" cy="539.4" r="1.25" fill="#111"/>
<circle cx="488.6" cy="539.4" r="1.25" fill="#111"/>
<circle cx="490.2" cy="539.4" r="1.25" fill="#111"/>
<circle cx="491.8" cy="539.4" r="1.25" fill="#111"/>
<circle cx="493.4" cy="539.4" r="1.25" fill="#111"/>
<circle cx="473.2" cy="551.3" r="1.25" fill="#111"/>
<circle cx="477.3" cy="548.1" r="1.25" fill="#111"/>
</svg>
</body></html>
